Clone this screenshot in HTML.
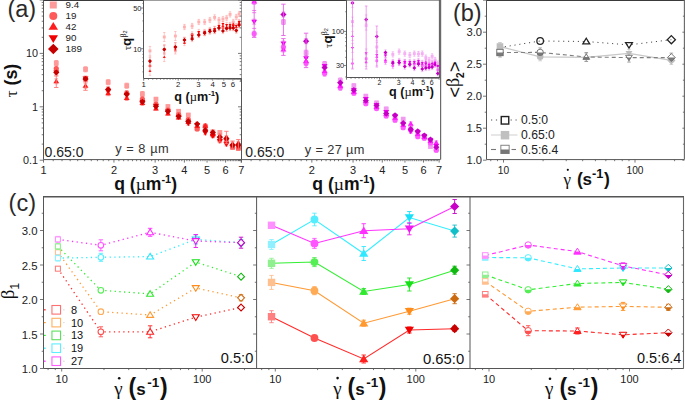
<!DOCTYPE html><html><head><meta charset="utf-8"><style>html,body{margin:0;padding:0;background:#fff;overflow:hidden}svg{display:block}svg{font-family:"Liberation Sans",sans-serif}</style></head><body>
<svg width="685" height="401" viewBox="0 0 685 401">
<rect width="685" height="401" fill="#fff"/>
<defs><clipPath id="ca1"><rect x="44" y="0" width="197.4" height="159.5"/></clipPath><clipPath id="ca2"><rect x="241.9" y="0" width="198" height="159.5"/></clipPath><clipPath id="ci1"><rect x="144" y="0" width="97" height="78"/></clipPath><clipPath id="ci2"><rect x="347" y="0" width="92.5" height="76.5"/></clipPath></defs>
<g clip-path="url(#ca1)">
<line x1="56.28" y1="60.60" x2="56.28" y2="65.60" stroke="#FF7878" stroke-width="0.7" />
<line x1="54.48" y1="60.60" x2="58.08" y2="60.60" stroke="#FF7878" stroke-width="0.7" />
<line x1="54.48" y1="65.60" x2="58.08" y2="65.60" stroke="#FF7878" stroke-width="0.7" />
<line x1="56.28" y1="66.00" x2="56.28" y2="71.00" stroke="#FF7878" stroke-width="0.7" />
<line x1="54.48" y1="66.00" x2="58.08" y2="66.00" stroke="#FF7878" stroke-width="0.7" />
<line x1="54.48" y1="71.00" x2="58.08" y2="71.00" stroke="#FF7878" stroke-width="0.7" />
<line x1="56.28" y1="78.80" x2="56.28" y2="83.80" stroke="#FF7878" stroke-width="0.7" />
<line x1="54.48" y1="78.80" x2="58.08" y2="78.80" stroke="#FF7878" stroke-width="0.7" />
<line x1="54.48" y1="83.80" x2="58.08" y2="83.80" stroke="#FF7878" stroke-width="0.7" />
<line x1="56.28" y1="70.00" x2="56.28" y2="75.00" stroke="#FF7878" stroke-width="0.7" />
<line x1="54.48" y1="70.00" x2="58.08" y2="70.00" stroke="#FF7878" stroke-width="0.7" />
<line x1="54.48" y1="75.00" x2="58.08" y2="75.00" stroke="#FF7878" stroke-width="0.7" />
<line x1="56.28" y1="70.00" x2="56.28" y2="75.00" stroke="#FF7878" stroke-width="0.7" />
<line x1="54.48" y1="70.00" x2="58.08" y2="70.00" stroke="#FF7878" stroke-width="0.7" />
<line x1="54.48" y1="75.00" x2="58.08" y2="75.00" stroke="#FF7878" stroke-width="0.7" />
<rect x="53.88" y="60.70" width="4.80" height="4.80" fill="#FF9A9A" stroke="none" stroke-width="1"/>
<circle cx="56.28" cy="68.50" r="2.60" fill="#FF5A5A" stroke="none" stroke-width="1"/>
<polygon points="56.28,78.56 59.22,83.32 53.34,83.32" fill="#FF1E1E" stroke="none" stroke-width="1"/>
<polygon points="56.28,75.24 59.22,70.48 53.34,70.48" fill="#F00000" stroke="none" stroke-width="1"/>
<polygon points="56.28,69.40 59.38,72.50 56.28,75.60 53.18,72.50" fill="#C40000" stroke="none" stroke-width="1"/>
<line x1="85.52" y1="66.80" x2="85.52" y2="71.80" stroke="#FF7878" stroke-width="0.7" />
<line x1="83.72" y1="66.80" x2="87.32" y2="66.80" stroke="#FF7878" stroke-width="0.7" />
<line x1="83.72" y1="71.80" x2="87.32" y2="71.80" stroke="#FF7878" stroke-width="0.7" />
<line x1="85.52" y1="76.50" x2="85.52" y2="81.50" stroke="#FF7878" stroke-width="0.7" />
<line x1="83.72" y1="76.50" x2="87.32" y2="76.50" stroke="#FF7878" stroke-width="0.7" />
<line x1="83.72" y1="81.50" x2="87.32" y2="81.50" stroke="#FF7878" stroke-width="0.7" />
<line x1="85.52" y1="83.30" x2="85.52" y2="88.30" stroke="#FF7878" stroke-width="0.7" />
<line x1="83.72" y1="83.30" x2="87.32" y2="83.30" stroke="#FF7878" stroke-width="0.7" />
<line x1="83.72" y1="88.30" x2="87.32" y2="88.30" stroke="#FF7878" stroke-width="0.7" />
<line x1="85.52" y1="76.00" x2="85.52" y2="81.00" stroke="#FF7878" stroke-width="0.7" />
<line x1="83.72" y1="76.00" x2="87.32" y2="76.00" stroke="#FF7878" stroke-width="0.7" />
<line x1="83.72" y1="81.00" x2="87.32" y2="81.00" stroke="#FF7878" stroke-width="0.7" />
<line x1="85.52" y1="76.50" x2="85.52" y2="81.50" stroke="#FF7878" stroke-width="0.7" />
<line x1="83.72" y1="76.50" x2="87.32" y2="76.50" stroke="#FF7878" stroke-width="0.7" />
<line x1="83.72" y1="81.50" x2="87.32" y2="81.50" stroke="#FF7878" stroke-width="0.7" />
<rect x="83.12" y="66.90" width="4.80" height="4.80" fill="#FF9A9A" stroke="none" stroke-width="1"/>
<circle cx="85.52" cy="79.00" r="2.60" fill="#FF5A5A" stroke="none" stroke-width="1"/>
<polygon points="85.52,83.06 88.46,87.82 82.58,87.82" fill="#FF1E1E" stroke="none" stroke-width="1"/>
<polygon points="85.52,81.24 88.46,76.48 82.58,76.48" fill="#F00000" stroke="none" stroke-width="1"/>
<polygon points="85.52,75.90 88.62,79.00 85.52,82.10 82.42,79.00" fill="#C40000" stroke="none" stroke-width="1"/>
<line x1="108.19" y1="79.70" x2="108.19" y2="84.70" stroke="#FF7878" stroke-width="0.7" />
<line x1="106.39" y1="79.70" x2="109.99" y2="79.70" stroke="#FF7878" stroke-width="0.7" />
<line x1="106.39" y1="84.70" x2="109.99" y2="84.70" stroke="#FF7878" stroke-width="0.7" />
<line x1="108.19" y1="87.00" x2="108.19" y2="92.00" stroke="#FF7878" stroke-width="0.7" />
<line x1="106.39" y1="87.00" x2="109.99" y2="87.00" stroke="#FF7878" stroke-width="0.7" />
<line x1="106.39" y1="92.00" x2="109.99" y2="92.00" stroke="#FF7878" stroke-width="0.7" />
<line x1="108.19" y1="90.70" x2="108.19" y2="95.70" stroke="#FF7878" stroke-width="0.7" />
<line x1="106.39" y1="90.70" x2="109.99" y2="90.70" stroke="#FF7878" stroke-width="0.7" />
<line x1="106.39" y1="95.70" x2="109.99" y2="95.70" stroke="#FF7878" stroke-width="0.7" />
<line x1="108.19" y1="88.50" x2="108.19" y2="93.50" stroke="#FF7878" stroke-width="0.7" />
<line x1="106.39" y1="88.50" x2="109.99" y2="88.50" stroke="#FF7878" stroke-width="0.7" />
<line x1="106.39" y1="93.50" x2="109.99" y2="93.50" stroke="#FF7878" stroke-width="0.7" />
<line x1="108.19" y1="87.00" x2="108.19" y2="92.00" stroke="#FF7878" stroke-width="0.7" />
<line x1="106.39" y1="87.00" x2="109.99" y2="87.00" stroke="#FF7878" stroke-width="0.7" />
<line x1="106.39" y1="92.00" x2="109.99" y2="92.00" stroke="#FF7878" stroke-width="0.7" />
<rect x="105.79" y="79.80" width="4.80" height="4.80" fill="#FF9A9A" stroke="none" stroke-width="1"/>
<circle cx="108.19" cy="89.50" r="2.60" fill="#FF5A5A" stroke="none" stroke-width="1"/>
<polygon points="108.19,90.46 111.13,95.22 105.25,95.22" fill="#FF1E1E" stroke="none" stroke-width="1"/>
<polygon points="108.19,93.74 111.13,88.98 105.25,88.98" fill="#F00000" stroke="none" stroke-width="1"/>
<polygon points="108.19,86.40 111.29,89.50 108.19,92.60 105.09,89.50" fill="#C40000" stroke="none" stroke-width="1"/>
<line x1="126.72" y1="83.20" x2="126.72" y2="88.20" stroke="#FF7878" stroke-width="0.7" />
<line x1="124.92" y1="83.20" x2="128.52" y2="83.20" stroke="#FF7878" stroke-width="0.7" />
<line x1="124.92" y1="88.20" x2="128.52" y2="88.20" stroke="#FF7878" stroke-width="0.7" />
<line x1="126.72" y1="90.50" x2="126.72" y2="95.50" stroke="#FF7878" stroke-width="0.7" />
<line x1="124.92" y1="90.50" x2="128.52" y2="90.50" stroke="#FF7878" stroke-width="0.7" />
<line x1="124.92" y1="95.50" x2="128.52" y2="95.50" stroke="#FF7878" stroke-width="0.7" />
<line x1="126.72" y1="95.50" x2="126.72" y2="100.50" stroke="#FF7878" stroke-width="0.7" />
<line x1="124.92" y1="95.50" x2="128.52" y2="95.50" stroke="#FF7878" stroke-width="0.7" />
<line x1="124.92" y1="100.50" x2="128.52" y2="100.50" stroke="#FF7878" stroke-width="0.7" />
<line x1="126.72" y1="92.50" x2="126.72" y2="97.50" stroke="#FF7878" stroke-width="0.7" />
<line x1="124.92" y1="92.50" x2="128.52" y2="92.50" stroke="#FF7878" stroke-width="0.7" />
<line x1="124.92" y1="97.50" x2="128.52" y2="97.50" stroke="#FF7878" stroke-width="0.7" />
<line x1="126.72" y1="91.70" x2="126.72" y2="96.70" stroke="#FF7878" stroke-width="0.7" />
<line x1="124.92" y1="91.70" x2="128.52" y2="91.70" stroke="#FF7878" stroke-width="0.7" />
<line x1="124.92" y1="96.70" x2="128.52" y2="96.70" stroke="#FF7878" stroke-width="0.7" />
<rect x="124.32" y="83.30" width="4.80" height="4.80" fill="#FF9A9A" stroke="none" stroke-width="1"/>
<circle cx="126.72" cy="93.00" r="2.60" fill="#FF5A5A" stroke="none" stroke-width="1"/>
<polygon points="126.72,95.26 129.66,100.02 123.78,100.02" fill="#FF1E1E" stroke="none" stroke-width="1"/>
<polygon points="126.72,97.74 129.66,92.98 123.78,92.98" fill="#F00000" stroke="none" stroke-width="1"/>
<polygon points="126.72,91.10 129.82,94.20 126.72,97.30 123.62,94.20" fill="#C40000" stroke="none" stroke-width="1"/>
<line x1="142.39" y1="91.50" x2="142.39" y2="96.50" stroke="#FF7878" stroke-width="0.7" />
<line x1="140.59" y1="91.50" x2="144.19" y2="91.50" stroke="#FF7878" stroke-width="0.7" />
<line x1="140.59" y1="96.50" x2="144.19" y2="96.50" stroke="#FF7878" stroke-width="0.7" />
<line x1="142.39" y1="96.50" x2="142.39" y2="101.50" stroke="#FF7878" stroke-width="0.7" />
<line x1="140.59" y1="96.50" x2="144.19" y2="96.50" stroke="#FF7878" stroke-width="0.7" />
<line x1="140.59" y1="101.50" x2="144.19" y2="101.50" stroke="#FF7878" stroke-width="0.7" />
<line x1="142.39" y1="100.50" x2="142.39" y2="105.50" stroke="#FF7878" stroke-width="0.7" />
<line x1="140.59" y1="100.50" x2="144.19" y2="100.50" stroke="#FF7878" stroke-width="0.7" />
<line x1="140.59" y1="105.50" x2="144.19" y2="105.50" stroke="#FF7878" stroke-width="0.7" />
<line x1="142.39" y1="99.50" x2="142.39" y2="104.50" stroke="#FF7878" stroke-width="0.7" />
<line x1="140.59" y1="99.50" x2="144.19" y2="99.50" stroke="#FF7878" stroke-width="0.7" />
<line x1="140.59" y1="104.50" x2="144.19" y2="104.50" stroke="#FF7878" stroke-width="0.7" />
<line x1="142.39" y1="99.30" x2="142.39" y2="104.30" stroke="#FF7878" stroke-width="0.7" />
<line x1="140.59" y1="99.30" x2="144.19" y2="99.30" stroke="#FF7878" stroke-width="0.7" />
<line x1="140.59" y1="104.30" x2="144.19" y2="104.30" stroke="#FF7878" stroke-width="0.7" />
<rect x="139.99" y="91.60" width="4.80" height="4.80" fill="#FF9A9A" stroke="none" stroke-width="1"/>
<circle cx="142.39" cy="99.00" r="2.60" fill="#FF5A5A" stroke="none" stroke-width="1"/>
<polygon points="142.39,100.26 145.33,105.02 139.45,105.02" fill="#FF1E1E" stroke="none" stroke-width="1"/>
<polygon points="142.39,104.74 145.33,99.98 139.45,99.98" fill="#F00000" stroke="none" stroke-width="1"/>
<polygon points="142.39,98.70 145.49,101.80 142.39,104.90 139.29,101.80" fill="#C40000" stroke="none" stroke-width="1"/>
<line x1="155.96" y1="97.40" x2="155.96" y2="101.00" stroke="#FF7878" stroke-width="0.7" />
<line x1="154.16" y1="97.40" x2="157.76" y2="97.40" stroke="#FF7878" stroke-width="0.7" />
<line x1="154.16" y1="101.00" x2="157.76" y2="101.00" stroke="#FF7878" stroke-width="0.7" />
<line x1="155.96" y1="102.20" x2="155.96" y2="105.80" stroke="#FF7878" stroke-width="0.7" />
<line x1="154.16" y1="102.20" x2="157.76" y2="102.20" stroke="#FF7878" stroke-width="0.7" />
<line x1="154.16" y1="105.80" x2="157.76" y2="105.80" stroke="#FF7878" stroke-width="0.7" />
<line x1="155.96" y1="106.70" x2="155.96" y2="110.30" stroke="#FF7878" stroke-width="0.7" />
<line x1="154.16" y1="106.70" x2="157.76" y2="106.70" stroke="#FF7878" stroke-width="0.7" />
<line x1="154.16" y1="110.30" x2="157.76" y2="110.30" stroke="#FF7878" stroke-width="0.7" />
<line x1="155.96" y1="104.20" x2="155.96" y2="107.80" stroke="#FF7878" stroke-width="0.7" />
<line x1="154.16" y1="104.20" x2="157.76" y2="104.20" stroke="#FF7878" stroke-width="0.7" />
<line x1="154.16" y1="107.80" x2="157.76" y2="107.80" stroke="#FF7878" stroke-width="0.7" />
<line x1="155.96" y1="104.50" x2="155.96" y2="108.10" stroke="#FF7878" stroke-width="0.7" />
<line x1="154.16" y1="104.50" x2="157.76" y2="104.50" stroke="#FF7878" stroke-width="0.7" />
<line x1="154.16" y1="108.10" x2="157.76" y2="108.10" stroke="#FF7878" stroke-width="0.7" />
<rect x="153.56" y="96.80" width="4.80" height="4.80" fill="#FF9A9A" stroke="none" stroke-width="1"/>
<circle cx="155.96" cy="104.00" r="2.60" fill="#FF5A5A" stroke="none" stroke-width="1"/>
<polygon points="155.96,105.76 158.90,110.52 153.02,110.52" fill="#FF1E1E" stroke="none" stroke-width="1"/>
<polygon points="155.96,108.74 158.90,103.98 153.02,103.98" fill="#F00000" stroke="none" stroke-width="1"/>
<polygon points="155.96,103.20 159.06,106.30 155.96,109.40 152.86,106.30" fill="#C40000" stroke="none" stroke-width="1"/>
<line x1="167.93" y1="104.80" x2="167.93" y2="108.40" stroke="#FF7878" stroke-width="0.7" />
<line x1="166.13" y1="104.80" x2="169.73" y2="104.80" stroke="#FF7878" stroke-width="0.7" />
<line x1="166.13" y1="108.40" x2="169.73" y2="108.40" stroke="#FF7878" stroke-width="0.7" />
<line x1="167.93" y1="108.20" x2="167.93" y2="111.80" stroke="#FF7878" stroke-width="0.7" />
<line x1="166.13" y1="108.20" x2="169.73" y2="108.20" stroke="#FF7878" stroke-width="0.7" />
<line x1="166.13" y1="111.80" x2="169.73" y2="111.80" stroke="#FF7878" stroke-width="0.7" />
<line x1="167.93" y1="111.70" x2="167.93" y2="115.30" stroke="#FF7878" stroke-width="0.7" />
<line x1="166.13" y1="111.70" x2="169.73" y2="111.70" stroke="#FF7878" stroke-width="0.7" />
<line x1="166.13" y1="115.30" x2="169.73" y2="115.30" stroke="#FF7878" stroke-width="0.7" />
<line x1="167.93" y1="109.70" x2="167.93" y2="113.30" stroke="#FF7878" stroke-width="0.7" />
<line x1="166.13" y1="109.70" x2="169.73" y2="109.70" stroke="#FF7878" stroke-width="0.7" />
<line x1="166.13" y1="113.30" x2="169.73" y2="113.30" stroke="#FF7878" stroke-width="0.7" />
<line x1="167.93" y1="109.50" x2="167.93" y2="113.10" stroke="#FF7878" stroke-width="0.7" />
<line x1="166.13" y1="109.50" x2="169.73" y2="109.50" stroke="#FF7878" stroke-width="0.7" />
<line x1="166.13" y1="113.10" x2="169.73" y2="113.10" stroke="#FF7878" stroke-width="0.7" />
<rect x="165.53" y="104.20" width="4.80" height="4.80" fill="#FF9A9A" stroke="none" stroke-width="1"/>
<circle cx="167.93" cy="110.00" r="2.60" fill="#FF5A5A" stroke="none" stroke-width="1"/>
<polygon points="167.93,110.76 170.87,115.52 164.99,115.52" fill="#FF1E1E" stroke="none" stroke-width="1"/>
<polygon points="167.93,114.24 170.87,109.48 164.99,109.48" fill="#F00000" stroke="none" stroke-width="1"/>
<polygon points="167.93,108.20 171.03,111.30 167.93,114.40 164.83,111.30" fill="#C40000" stroke="none" stroke-width="1"/>
<line x1="178.63" y1="109.50" x2="178.63" y2="113.10" stroke="#FF7878" stroke-width="0.7" />
<line x1="176.83" y1="109.50" x2="180.43" y2="109.50" stroke="#FF7878" stroke-width="0.7" />
<line x1="176.83" y1="113.10" x2="180.43" y2="113.10" stroke="#FF7878" stroke-width="0.7" />
<line x1="178.63" y1="112.70" x2="178.63" y2="116.30" stroke="#FF7878" stroke-width="0.7" />
<line x1="176.83" y1="112.70" x2="180.43" y2="112.70" stroke="#FF7878" stroke-width="0.7" />
<line x1="176.83" y1="116.30" x2="180.43" y2="116.30" stroke="#FF7878" stroke-width="0.7" />
<line x1="178.63" y1="115.70" x2="178.63" y2="119.30" stroke="#FF7878" stroke-width="0.7" />
<line x1="176.83" y1="115.70" x2="180.43" y2="115.70" stroke="#FF7878" stroke-width="0.7" />
<line x1="176.83" y1="119.30" x2="180.43" y2="119.30" stroke="#FF7878" stroke-width="0.7" />
<line x1="178.63" y1="115.20" x2="178.63" y2="118.80" stroke="#FF7878" stroke-width="0.7" />
<line x1="176.83" y1="115.20" x2="180.43" y2="115.20" stroke="#FF7878" stroke-width="0.7" />
<line x1="176.83" y1="118.80" x2="180.43" y2="118.80" stroke="#FF7878" stroke-width="0.7" />
<line x1="178.63" y1="114.60" x2="178.63" y2="118.20" stroke="#FF7878" stroke-width="0.7" />
<line x1="176.83" y1="114.60" x2="180.43" y2="114.60" stroke="#FF7878" stroke-width="0.7" />
<line x1="176.83" y1="118.20" x2="180.43" y2="118.20" stroke="#FF7878" stroke-width="0.7" />
<rect x="176.23" y="108.90" width="4.80" height="4.80" fill="#FF9A9A" stroke="none" stroke-width="1"/>
<circle cx="178.63" cy="114.50" r="2.60" fill="#FF5A5A" stroke="none" stroke-width="1"/>
<polygon points="178.63,114.76 181.57,119.52 175.69,119.52" fill="#FF1E1E" stroke="none" stroke-width="1"/>
<polygon points="178.63,119.74 181.57,114.98 175.69,114.98" fill="#F00000" stroke="none" stroke-width="1"/>
<polygon points="178.63,113.30 181.73,116.40 178.63,119.50 175.53,116.40" fill="#C40000" stroke="none" stroke-width="1"/>
<line x1="188.32" y1="113.30" x2="188.32" y2="116.90" stroke="#FF7878" stroke-width="0.7" />
<line x1="186.52" y1="113.30" x2="190.12" y2="113.30" stroke="#FF7878" stroke-width="0.7" />
<line x1="186.52" y1="116.90" x2="190.12" y2="116.90" stroke="#FF7878" stroke-width="0.7" />
<line x1="188.32" y1="117.70" x2="188.32" y2="121.30" stroke="#FF7878" stroke-width="0.7" />
<line x1="186.52" y1="117.70" x2="190.12" y2="117.70" stroke="#FF7878" stroke-width="0.7" />
<line x1="186.52" y1="121.30" x2="190.12" y2="121.30" stroke="#FF7878" stroke-width="0.7" />
<line x1="188.32" y1="120.20" x2="188.32" y2="123.80" stroke="#FF7878" stroke-width="0.7" />
<line x1="186.52" y1="120.20" x2="190.12" y2="120.20" stroke="#FF7878" stroke-width="0.7" />
<line x1="186.52" y1="123.80" x2="190.12" y2="123.80" stroke="#FF7878" stroke-width="0.7" />
<line x1="188.32" y1="121.70" x2="188.32" y2="125.30" stroke="#FF7878" stroke-width="0.7" />
<line x1="186.52" y1="121.70" x2="190.12" y2="121.70" stroke="#FF7878" stroke-width="0.7" />
<line x1="186.52" y1="125.30" x2="190.12" y2="125.30" stroke="#FF7878" stroke-width="0.7" />
<line x1="188.32" y1="119.50" x2="188.32" y2="123.10" stroke="#FF7878" stroke-width="0.7" />
<line x1="186.52" y1="119.50" x2="190.12" y2="119.50" stroke="#FF7878" stroke-width="0.7" />
<line x1="186.52" y1="123.10" x2="190.12" y2="123.10" stroke="#FF7878" stroke-width="0.7" />
<rect x="185.92" y="112.70" width="4.80" height="4.80" fill="#FF9A9A" stroke="none" stroke-width="1"/>
<circle cx="188.32" cy="119.50" r="2.60" fill="#FF5A5A" stroke="none" stroke-width="1"/>
<polygon points="188.32,119.26 191.26,124.02 185.38,124.02" fill="#FF1E1E" stroke="none" stroke-width="1"/>
<polygon points="188.32,126.24 191.26,121.48 185.38,121.48" fill="#F00000" stroke="none" stroke-width="1"/>
<polygon points="188.32,118.20 191.42,121.30 188.32,124.40 185.22,121.30" fill="#C40000" stroke="none" stroke-width="1"/>
<line x1="197.16" y1="126.70" x2="197.16" y2="130.30" stroke="#FF7878" stroke-width="0.7" />
<line x1="195.36" y1="126.70" x2="198.96" y2="126.70" stroke="#FF7878" stroke-width="0.7" />
<line x1="195.36" y1="130.30" x2="198.96" y2="130.30" stroke="#FF7878" stroke-width="0.7" />
<line x1="197.16" y1="127.20" x2="197.16" y2="130.80" stroke="#FF7878" stroke-width="0.7" />
<line x1="195.36" y1="127.20" x2="198.96" y2="127.20" stroke="#FF7878" stroke-width="0.7" />
<line x1="195.36" y1="130.80" x2="198.96" y2="130.80" stroke="#FF7878" stroke-width="0.7" />
<line x1="197.16" y1="124.20" x2="197.16" y2="127.80" stroke="#FF7878" stroke-width="0.7" />
<line x1="195.36" y1="124.20" x2="198.96" y2="124.20" stroke="#FF7878" stroke-width="0.7" />
<line x1="195.36" y1="127.80" x2="198.96" y2="127.80" stroke="#FF7878" stroke-width="0.7" />
<line x1="197.16" y1="123.20" x2="197.16" y2="126.80" stroke="#FF7878" stroke-width="0.7" />
<line x1="195.36" y1="123.20" x2="198.96" y2="123.20" stroke="#FF7878" stroke-width="0.7" />
<line x1="195.36" y1="126.80" x2="198.96" y2="126.80" stroke="#FF7878" stroke-width="0.7" />
<line x1="197.16" y1="122.20" x2="197.16" y2="125.80" stroke="#FF7878" stroke-width="0.7" />
<line x1="195.36" y1="122.20" x2="198.96" y2="122.20" stroke="#FF7878" stroke-width="0.7" />
<line x1="195.36" y1="125.80" x2="198.96" y2="125.80" stroke="#FF7878" stroke-width="0.7" />
<rect x="194.76" y="126.10" width="4.80" height="4.80" fill="#FF9A9A" stroke="none" stroke-width="1"/>
<circle cx="197.16" cy="129.00" r="2.60" fill="#FF5A5A" stroke="none" stroke-width="1"/>
<polygon points="197.16,123.26 200.10,128.02 194.22,128.02" fill="#FF1E1E" stroke="none" stroke-width="1"/>
<polygon points="197.16,127.74 200.10,122.98 194.22,122.98" fill="#F00000" stroke="none" stroke-width="1"/>
<polygon points="197.16,120.90 200.26,124.00 197.16,127.10 194.06,124.00" fill="#C40000" stroke="none" stroke-width="1"/>
<line x1="205.30" y1="125.20" x2="205.30" y2="128.80" stroke="#FF7878" stroke-width="0.7" />
<line x1="203.50" y1="125.20" x2="207.10" y2="125.20" stroke="#FF7878" stroke-width="0.7" />
<line x1="203.50" y1="128.80" x2="207.10" y2="128.80" stroke="#FF7878" stroke-width="0.7" />
<line x1="205.30" y1="124.20" x2="205.30" y2="127.80" stroke="#FF7878" stroke-width="0.7" />
<line x1="203.50" y1="124.20" x2="207.10" y2="124.20" stroke="#FF7878" stroke-width="0.7" />
<line x1="203.50" y1="127.80" x2="207.10" y2="127.80" stroke="#FF7878" stroke-width="0.7" />
<line x1="205.30" y1="123.90" x2="205.30" y2="127.50" stroke="#FF7878" stroke-width="0.7" />
<line x1="203.50" y1="123.90" x2="207.10" y2="123.90" stroke="#FF7878" stroke-width="0.7" />
<line x1="203.50" y1="127.50" x2="207.10" y2="127.50" stroke="#FF7878" stroke-width="0.7" />
<line x1="205.30" y1="131.20" x2="205.30" y2="134.80" stroke="#FF7878" stroke-width="0.7" />
<line x1="203.50" y1="131.20" x2="207.10" y2="131.20" stroke="#FF7878" stroke-width="0.7" />
<line x1="203.50" y1="134.80" x2="207.10" y2="134.80" stroke="#FF7878" stroke-width="0.7" />
<line x1="205.30" y1="128.40" x2="205.30" y2="132.00" stroke="#FF7878" stroke-width="0.7" />
<line x1="203.50" y1="128.40" x2="207.10" y2="128.40" stroke="#FF7878" stroke-width="0.7" />
<line x1="203.50" y1="132.00" x2="207.10" y2="132.00" stroke="#FF7878" stroke-width="0.7" />
<rect x="202.90" y="124.60" width="4.80" height="4.80" fill="#FF9A9A" stroke="none" stroke-width="1"/>
<circle cx="205.30" cy="126.00" r="2.60" fill="#FF5A5A" stroke="none" stroke-width="1"/>
<polygon points="205.30,122.96 208.24,127.72 202.36,127.72" fill="#FF1E1E" stroke="none" stroke-width="1"/>
<polygon points="205.30,135.74 208.24,130.98 202.36,130.98" fill="#F00000" stroke="none" stroke-width="1"/>
<polygon points="205.30,127.10 208.40,130.20 205.30,133.30 202.20,130.20" fill="#C40000" stroke="none" stroke-width="1"/>
<line x1="212.83" y1="130.10" x2="212.83" y2="133.70" stroke="#FF7878" stroke-width="0.7" />
<line x1="211.03" y1="130.10" x2="214.63" y2="130.10" stroke="#FF7878" stroke-width="0.7" />
<line x1="211.03" y1="133.70" x2="214.63" y2="133.70" stroke="#FF7878" stroke-width="0.7" />
<line x1="212.83" y1="133.40" x2="212.83" y2="137.00" stroke="#FF7878" stroke-width="0.7" />
<line x1="211.03" y1="133.40" x2="214.63" y2="133.40" stroke="#FF7878" stroke-width="0.7" />
<line x1="211.03" y1="137.00" x2="214.63" y2="137.00" stroke="#FF7878" stroke-width="0.7" />
<line x1="212.83" y1="132.20" x2="212.83" y2="135.80" stroke="#FF7878" stroke-width="0.7" />
<line x1="211.03" y1="132.20" x2="214.63" y2="132.20" stroke="#FF7878" stroke-width="0.7" />
<line x1="211.03" y1="135.80" x2="214.63" y2="135.80" stroke="#FF7878" stroke-width="0.7" />
<line x1="212.83" y1="134.20" x2="212.83" y2="137.80" stroke="#FF7878" stroke-width="0.7" />
<line x1="211.03" y1="134.20" x2="214.63" y2="134.20" stroke="#FF7878" stroke-width="0.7" />
<line x1="211.03" y1="137.80" x2="214.63" y2="137.80" stroke="#FF7878" stroke-width="0.7" />
<line x1="212.83" y1="130.60" x2="212.83" y2="134.20" stroke="#FF7878" stroke-width="0.7" />
<line x1="211.03" y1="130.60" x2="214.63" y2="130.60" stroke="#FF7878" stroke-width="0.7" />
<line x1="211.03" y1="134.20" x2="214.63" y2="134.20" stroke="#FF7878" stroke-width="0.7" />
<rect x="210.43" y="129.50" width="4.80" height="4.80" fill="#FF9A9A" stroke="none" stroke-width="1"/>
<circle cx="212.83" cy="135.20" r="2.60" fill="#FF5A5A" stroke="none" stroke-width="1"/>
<polygon points="212.83,131.26 215.77,136.02 209.89,136.02" fill="#FF1E1E" stroke="none" stroke-width="1"/>
<polygon points="212.83,138.74 215.77,133.98 209.89,133.98" fill="#F00000" stroke="none" stroke-width="1"/>
<polygon points="212.83,129.30 215.93,132.40 212.83,135.50 209.73,132.40" fill="#C40000" stroke="none" stroke-width="1"/>
<line x1="219.84" y1="130.60" x2="219.84" y2="134.20" stroke="#FF7878" stroke-width="0.7" />
<line x1="218.04" y1="130.60" x2="221.64" y2="130.60" stroke="#FF7878" stroke-width="0.7" />
<line x1="218.04" y1="134.20" x2="221.64" y2="134.20" stroke="#FF7878" stroke-width="0.7" />
<line x1="219.84" y1="138.00" x2="219.84" y2="141.60" stroke="#FF7878" stroke-width="0.7" />
<line x1="218.04" y1="138.00" x2="221.64" y2="138.00" stroke="#FF7878" stroke-width="0.7" />
<line x1="218.04" y1="141.60" x2="221.64" y2="141.60" stroke="#FF7878" stroke-width="0.7" />
<line x1="219.84" y1="134.20" x2="219.84" y2="137.80" stroke="#FF7878" stroke-width="0.7" />
<line x1="218.04" y1="134.20" x2="221.64" y2="134.20" stroke="#FF7878" stroke-width="0.7" />
<line x1="218.04" y1="137.80" x2="221.64" y2="137.80" stroke="#FF7878" stroke-width="0.7" />
<line x1="219.84" y1="139.20" x2="219.84" y2="142.80" stroke="#FF7878" stroke-width="0.7" />
<line x1="218.04" y1="139.20" x2="221.64" y2="139.20" stroke="#FF7878" stroke-width="0.7" />
<line x1="218.04" y1="142.80" x2="221.64" y2="142.80" stroke="#FF7878" stroke-width="0.7" />
<line x1="219.84" y1="135.20" x2="219.84" y2="138.80" stroke="#FF7878" stroke-width="0.7" />
<line x1="218.04" y1="135.20" x2="221.64" y2="135.20" stroke="#FF7878" stroke-width="0.7" />
<line x1="218.04" y1="138.80" x2="221.64" y2="138.80" stroke="#FF7878" stroke-width="0.7" />
<rect x="217.44" y="130.00" width="4.80" height="4.80" fill="#FF9A9A" stroke="none" stroke-width="1"/>
<circle cx="219.84" cy="139.80" r="2.60" fill="#FF5A5A" stroke="none" stroke-width="1"/>
<polygon points="219.84,133.26 222.78,138.02 216.90,138.02" fill="#FF1E1E" stroke="none" stroke-width="1"/>
<polygon points="219.84,143.74 222.78,138.98 216.90,138.98" fill="#F00000" stroke="none" stroke-width="1"/>
<polygon points="219.84,133.90 222.94,137.00 219.84,140.10 216.74,137.00" fill="#C40000" stroke="none" stroke-width="1"/>
<line x1="226.40" y1="139.20" x2="226.40" y2="142.80" stroke="#FF7878" stroke-width="0.7" />
<line x1="224.60" y1="139.20" x2="228.20" y2="139.20" stroke="#FF7878" stroke-width="0.7" />
<line x1="224.60" y1="142.80" x2="228.20" y2="142.80" stroke="#FF7878" stroke-width="0.7" />
<line x1="226.40" y1="140.20" x2="226.40" y2="143.80" stroke="#FF7878" stroke-width="0.7" />
<line x1="224.60" y1="140.20" x2="228.20" y2="140.20" stroke="#FF7878" stroke-width="0.7" />
<line x1="224.60" y1="143.80" x2="228.20" y2="143.80" stroke="#FF7878" stroke-width="0.7" />
<line x1="226.40" y1="135.70" x2="226.40" y2="139.30" stroke="#FF7878" stroke-width="0.7" />
<line x1="224.60" y1="135.70" x2="228.20" y2="135.70" stroke="#FF7878" stroke-width="0.7" />
<line x1="224.60" y1="139.30" x2="228.20" y2="139.30" stroke="#FF7878" stroke-width="0.7" />
<line x1="226.40" y1="142.40" x2="226.40" y2="146.00" stroke="#FF7878" stroke-width="0.7" />
<line x1="224.60" y1="142.40" x2="228.20" y2="142.40" stroke="#FF7878" stroke-width="0.7" />
<line x1="224.60" y1="146.00" x2="228.20" y2="146.00" stroke="#FF7878" stroke-width="0.7" />
<line x1="226.40" y1="136.80" x2="226.40" y2="140.40" stroke="#FF7878" stroke-width="0.7" />
<line x1="224.60" y1="136.80" x2="228.20" y2="136.80" stroke="#FF7878" stroke-width="0.7" />
<line x1="224.60" y1="140.40" x2="228.20" y2="140.40" stroke="#FF7878" stroke-width="0.7" />
<rect x="224.00" y="138.60" width="4.80" height="4.80" fill="#FF9A9A" stroke="none" stroke-width="1"/>
<circle cx="226.40" cy="142.00" r="2.60" fill="#FF5A5A" stroke="none" stroke-width="1"/>
<polygon points="226.40,134.76 229.34,139.52 223.46,139.52" fill="#FF1E1E" stroke="none" stroke-width="1"/>
<polygon points="226.40,146.94 229.34,142.18 223.46,142.18" fill="#F00000" stroke="none" stroke-width="1"/>
<polygon points="226.40,135.50 229.50,138.60 226.40,141.70 223.30,138.60" fill="#C40000" stroke="none" stroke-width="1"/>
<line x1="232.56" y1="145.20" x2="232.56" y2="148.80" stroke="#FF7878" stroke-width="0.7" />
<line x1="230.76" y1="145.20" x2="234.36" y2="145.20" stroke="#FF7878" stroke-width="0.7" />
<line x1="230.76" y1="148.80" x2="234.36" y2="148.80" stroke="#FF7878" stroke-width="0.7" />
<line x1="232.56" y1="145.20" x2="232.56" y2="148.80" stroke="#FF7878" stroke-width="0.7" />
<line x1="230.76" y1="145.20" x2="234.36" y2="145.20" stroke="#FF7878" stroke-width="0.7" />
<line x1="230.76" y1="148.80" x2="234.36" y2="148.80" stroke="#FF7878" stroke-width="0.7" />
<line x1="232.56" y1="141.80" x2="232.56" y2="145.40" stroke="#FF7878" stroke-width="0.7" />
<line x1="230.76" y1="141.80" x2="234.36" y2="141.80" stroke="#FF7878" stroke-width="0.7" />
<line x1="230.76" y1="145.40" x2="234.36" y2="145.40" stroke="#FF7878" stroke-width="0.7" />
<line x1="232.56" y1="144.20" x2="232.56" y2="147.80" stroke="#FF7878" stroke-width="0.7" />
<line x1="230.76" y1="144.20" x2="234.36" y2="144.20" stroke="#FF7878" stroke-width="0.7" />
<line x1="230.76" y1="147.80" x2="234.36" y2="147.80" stroke="#FF7878" stroke-width="0.7" />
<line x1="232.56" y1="143.50" x2="232.56" y2="147.10" stroke="#FF7878" stroke-width="0.7" />
<line x1="230.76" y1="143.50" x2="234.36" y2="143.50" stroke="#FF7878" stroke-width="0.7" />
<line x1="230.76" y1="147.10" x2="234.36" y2="147.10" stroke="#FF7878" stroke-width="0.7" />
<rect x="230.16" y="144.60" width="4.80" height="4.80" fill="#FF9A9A" stroke="none" stroke-width="1"/>
<circle cx="232.56" cy="147.00" r="2.60" fill="#FF5A5A" stroke="none" stroke-width="1"/>
<polygon points="232.56,140.86 235.50,145.62 229.62,145.62" fill="#FF1E1E" stroke="none" stroke-width="1"/>
<polygon points="232.56,148.74 235.50,143.98 229.62,143.98" fill="#F00000" stroke="none" stroke-width="1"/>
<polygon points="232.56,142.20 235.66,145.30 232.56,148.40 229.46,145.30" fill="#C40000" stroke="none" stroke-width="1"/>
<line x1="238.37" y1="146.20" x2="238.37" y2="149.80" stroke="#FF7878" stroke-width="0.7" />
<line x1="236.57" y1="146.20" x2="240.17" y2="146.20" stroke="#FF7878" stroke-width="0.7" />
<line x1="236.57" y1="149.80" x2="240.17" y2="149.80" stroke="#FF7878" stroke-width="0.7" />
<line x1="238.37" y1="146.20" x2="238.37" y2="149.80" stroke="#FF7878" stroke-width="0.7" />
<line x1="236.57" y1="146.20" x2="240.17" y2="146.20" stroke="#FF7878" stroke-width="0.7" />
<line x1="236.57" y1="149.80" x2="240.17" y2="149.80" stroke="#FF7878" stroke-width="0.7" />
<line x1="238.37" y1="141.20" x2="238.37" y2="144.80" stroke="#FF7878" stroke-width="0.7" />
<line x1="236.57" y1="141.20" x2="240.17" y2="141.20" stroke="#FF7878" stroke-width="0.7" />
<line x1="236.57" y1="144.80" x2="240.17" y2="144.80" stroke="#FF7878" stroke-width="0.7" />
<line x1="238.37" y1="145.20" x2="238.37" y2="148.80" stroke="#FF7878" stroke-width="0.7" />
<line x1="236.57" y1="145.20" x2="240.17" y2="145.20" stroke="#FF7878" stroke-width="0.7" />
<line x1="236.57" y1="148.80" x2="240.17" y2="148.80" stroke="#FF7878" stroke-width="0.7" />
<line x1="238.37" y1="143.00" x2="238.37" y2="146.60" stroke="#FF7878" stroke-width="0.7" />
<line x1="236.57" y1="143.00" x2="240.17" y2="143.00" stroke="#FF7878" stroke-width="0.7" />
<line x1="236.57" y1="146.60" x2="240.17" y2="146.60" stroke="#FF7878" stroke-width="0.7" />
<rect x="235.97" y="145.60" width="4.80" height="4.80" fill="#FF9A9A" stroke="none" stroke-width="1"/>
<circle cx="238.37" cy="148.00" r="2.60" fill="#FF5A5A" stroke="none" stroke-width="1"/>
<polygon points="238.37,140.26 241.31,145.02 235.43,145.02" fill="#FF1E1E" stroke="none" stroke-width="1"/>
<polygon points="238.37,149.74 241.31,144.98 235.43,144.98" fill="#F00000" stroke="none" stroke-width="1"/>
<polygon points="238.37,141.70 241.47,144.80 238.37,147.90 235.27,144.80" fill="#C40000" stroke="none" stroke-width="1"/>
</g>
<g clip-path="url(#ca2)">
<line x1="254.18" y1="-1.00" x2="254.18" y2="4.00" stroke="#E860E8" stroke-width="0.7" />
<line x1="252.38" y1="-1.00" x2="255.98" y2="-1.00" stroke="#E860E8" stroke-width="0.7" />
<line x1="252.38" y1="4.00" x2="255.98" y2="4.00" stroke="#E860E8" stroke-width="0.7" />
<line x1="254.18" y1="31.20" x2="254.18" y2="36.20" stroke="#E860E8" stroke-width="0.7" />
<line x1="252.38" y1="31.20" x2="255.98" y2="31.20" stroke="#E860E8" stroke-width="0.7" />
<line x1="252.38" y1="36.20" x2="255.98" y2="36.20" stroke="#E860E8" stroke-width="0.7" />
<line x1="254.18" y1="-1.00" x2="254.18" y2="4.00" stroke="#E860E8" stroke-width="0.7" />
<line x1="252.38" y1="-1.00" x2="255.98" y2="-1.00" stroke="#E860E8" stroke-width="0.7" />
<line x1="252.38" y1="4.00" x2="255.98" y2="4.00" stroke="#E860E8" stroke-width="0.7" />
<line x1="254.18" y1="19.20" x2="254.18" y2="24.20" stroke="#E860E8" stroke-width="0.7" />
<line x1="252.38" y1="19.20" x2="255.98" y2="19.20" stroke="#E860E8" stroke-width="0.7" />
<line x1="252.38" y1="24.20" x2="255.98" y2="24.20" stroke="#E860E8" stroke-width="0.7" />
<line x1="254.18" y1="-14.50" x2="254.18" y2="-9.50" stroke="#E860E8" stroke-width="0.7" />
<line x1="252.38" y1="-14.50" x2="255.98" y2="-14.50" stroke="#E860E8" stroke-width="0.7" />
<line x1="252.38" y1="-9.50" x2="255.98" y2="-9.50" stroke="#E860E8" stroke-width="0.7" />
<rect x="251.78" y="-0.90" width="4.80" height="4.80" fill="#F29AF2" stroke="none" stroke-width="1"/>
<circle cx="254.18" cy="33.70" r="2.60" fill="#FF5AFF" stroke="none" stroke-width="1"/>
<polygon points="254.18,-1.24 257.12,3.52 251.24,3.52" fill="#FF1EFF" stroke="none" stroke-width="1"/>
<polygon points="254.18,24.44 257.12,19.68 251.24,19.68" fill="#F000F0" stroke="none" stroke-width="1"/>
<polygon points="254.18,-15.10 257.28,-12.00 254.18,-8.90 251.08,-12.00" fill="#C400C4" stroke="none" stroke-width="1"/>
<line x1="283.42" y1="19.50" x2="283.42" y2="24.50" stroke="#E860E8" stroke-width="0.7" />
<line x1="281.62" y1="19.50" x2="285.22" y2="19.50" stroke="#E860E8" stroke-width="0.7" />
<line x1="281.62" y1="24.50" x2="285.22" y2="24.50" stroke="#E860E8" stroke-width="0.7" />
<line x1="283.42" y1="44.50" x2="283.42" y2="49.50" stroke="#E860E8" stroke-width="0.7" />
<line x1="281.62" y1="44.50" x2="285.22" y2="44.50" stroke="#E860E8" stroke-width="0.7" />
<line x1="281.62" y1="49.50" x2="285.22" y2="49.50" stroke="#E860E8" stroke-width="0.7" />
<line x1="283.42" y1="47.00" x2="283.42" y2="52.00" stroke="#E860E8" stroke-width="0.7" />
<line x1="281.62" y1="47.00" x2="285.22" y2="47.00" stroke="#E860E8" stroke-width="0.7" />
<line x1="281.62" y1="52.00" x2="285.22" y2="52.00" stroke="#E860E8" stroke-width="0.7" />
<line x1="283.42" y1="41.00" x2="283.42" y2="46.00" stroke="#E860E8" stroke-width="0.7" />
<line x1="281.62" y1="41.00" x2="285.22" y2="41.00" stroke="#E860E8" stroke-width="0.7" />
<line x1="281.62" y1="46.00" x2="285.22" y2="46.00" stroke="#E860E8" stroke-width="0.7" />
<line x1="283.42" y1="12.00" x2="283.42" y2="17.00" stroke="#E860E8" stroke-width="0.7" />
<line x1="281.62" y1="12.00" x2="285.22" y2="12.00" stroke="#E860E8" stroke-width="0.7" />
<line x1="281.62" y1="17.00" x2="285.22" y2="17.00" stroke="#E860E8" stroke-width="0.7" />
<rect x="281.02" y="19.60" width="4.80" height="4.80" fill="#F29AF2" stroke="none" stroke-width="1"/>
<circle cx="283.42" cy="47.00" r="2.60" fill="#FF5AFF" stroke="none" stroke-width="1"/>
<polygon points="283.42,46.76 286.36,51.52 280.48,51.52" fill="#FF1EFF" stroke="none" stroke-width="1"/>
<polygon points="283.42,46.24 286.36,41.48 280.48,41.48" fill="#F000F0" stroke="none" stroke-width="1"/>
<polygon points="283.42,11.40 286.52,14.50 283.42,17.60 280.32,14.50" fill="#C400C4" stroke="none" stroke-width="1"/>
<line x1="306.09" y1="50.20" x2="306.09" y2="55.20" stroke="#E860E8" stroke-width="0.7" />
<line x1="304.29" y1="50.20" x2="307.89" y2="50.20" stroke="#E860E8" stroke-width="0.7" />
<line x1="304.29" y1="55.20" x2="307.89" y2="55.20" stroke="#E860E8" stroke-width="0.7" />
<line x1="306.09" y1="60.70" x2="306.09" y2="65.70" stroke="#E860E8" stroke-width="0.7" />
<line x1="304.29" y1="60.70" x2="307.89" y2="60.70" stroke="#E860E8" stroke-width="0.7" />
<line x1="304.29" y1="65.70" x2="307.89" y2="65.70" stroke="#E860E8" stroke-width="0.7" />
<line x1="306.09" y1="58.50" x2="306.09" y2="63.50" stroke="#E860E8" stroke-width="0.7" />
<line x1="304.29" y1="58.50" x2="307.89" y2="58.50" stroke="#E860E8" stroke-width="0.7" />
<line x1="304.29" y1="63.50" x2="307.89" y2="63.50" stroke="#E860E8" stroke-width="0.7" />
<line x1="306.09" y1="55.70" x2="306.09" y2="60.70" stroke="#E860E8" stroke-width="0.7" />
<line x1="304.29" y1="55.70" x2="307.89" y2="55.70" stroke="#E860E8" stroke-width="0.7" />
<line x1="304.29" y1="60.70" x2="307.89" y2="60.70" stroke="#E860E8" stroke-width="0.7" />
<line x1="306.09" y1="38.70" x2="306.09" y2="43.70" stroke="#E860E8" stroke-width="0.7" />
<line x1="304.29" y1="38.70" x2="307.89" y2="38.70" stroke="#E860E8" stroke-width="0.7" />
<line x1="304.29" y1="43.70" x2="307.89" y2="43.70" stroke="#E860E8" stroke-width="0.7" />
<rect x="303.69" y="50.30" width="4.80" height="4.80" fill="#F29AF2" stroke="none" stroke-width="1"/>
<circle cx="306.09" cy="63.20" r="2.60" fill="#FF5AFF" stroke="none" stroke-width="1"/>
<polygon points="306.09,58.26 309.03,63.02 303.15,63.02" fill="#FF1EFF" stroke="none" stroke-width="1"/>
<polygon points="306.09,60.94 309.03,56.18 303.15,56.18" fill="#F000F0" stroke="none" stroke-width="1"/>
<polygon points="306.09,38.10 309.19,41.20 306.09,44.30 302.99,41.20" fill="#C400C4" stroke="none" stroke-width="1"/>
<line x1="324.62" y1="61.50" x2="324.62" y2="66.50" stroke="#E860E8" stroke-width="0.7" />
<line x1="322.82" y1="61.50" x2="326.42" y2="61.50" stroke="#E860E8" stroke-width="0.7" />
<line x1="322.82" y1="66.50" x2="326.42" y2="66.50" stroke="#E860E8" stroke-width="0.7" />
<line x1="324.62" y1="71.10" x2="324.62" y2="76.10" stroke="#E860E8" stroke-width="0.7" />
<line x1="322.82" y1="71.10" x2="326.42" y2="71.10" stroke="#E860E8" stroke-width="0.7" />
<line x1="322.82" y1="76.10" x2="326.42" y2="76.10" stroke="#E860E8" stroke-width="0.7" />
<line x1="324.62" y1="68.50" x2="324.62" y2="73.50" stroke="#E860E8" stroke-width="0.7" />
<line x1="322.82" y1="68.50" x2="326.42" y2="68.50" stroke="#E860E8" stroke-width="0.7" />
<line x1="322.82" y1="73.50" x2="326.42" y2="73.50" stroke="#E860E8" stroke-width="0.7" />
<line x1="324.62" y1="63.50" x2="324.62" y2="68.50" stroke="#E860E8" stroke-width="0.7" />
<line x1="322.82" y1="63.50" x2="326.42" y2="63.50" stroke="#E860E8" stroke-width="0.7" />
<line x1="322.82" y1="68.50" x2="326.42" y2="68.50" stroke="#E860E8" stroke-width="0.7" />
<line x1="324.62" y1="65.10" x2="324.62" y2="70.10" stroke="#E860E8" stroke-width="0.7" />
<line x1="322.82" y1="65.10" x2="326.42" y2="65.10" stroke="#E860E8" stroke-width="0.7" />
<line x1="322.82" y1="70.10" x2="326.42" y2="70.10" stroke="#E860E8" stroke-width="0.7" />
<rect x="322.22" y="61.60" width="4.80" height="4.80" fill="#F29AF2" stroke="none" stroke-width="1"/>
<circle cx="324.62" cy="73.60" r="2.60" fill="#FF5AFF" stroke="none" stroke-width="1"/>
<polygon points="324.62,68.26 327.56,73.02 321.68,73.02" fill="#FF1EFF" stroke="none" stroke-width="1"/>
<polygon points="324.62,68.74 327.56,63.98 321.68,63.98" fill="#F000F0" stroke="none" stroke-width="1"/>
<polygon points="324.62,64.50 327.72,67.60 324.62,70.70 321.52,67.60" fill="#C400C4" stroke="none" stroke-width="1"/>
<line x1="340.29" y1="78.00" x2="340.29" y2="83.00" stroke="#E860E8" stroke-width="0.7" />
<line x1="338.49" y1="78.00" x2="342.09" y2="78.00" stroke="#E860E8" stroke-width="0.7" />
<line x1="338.49" y1="83.00" x2="342.09" y2="83.00" stroke="#E860E8" stroke-width="0.7" />
<line x1="340.29" y1="85.20" x2="340.29" y2="90.20" stroke="#E860E8" stroke-width="0.7" />
<line x1="338.49" y1="85.20" x2="342.09" y2="85.20" stroke="#E860E8" stroke-width="0.7" />
<line x1="338.49" y1="90.20" x2="342.09" y2="90.20" stroke="#E860E8" stroke-width="0.7" />
<line x1="340.29" y1="83.50" x2="340.29" y2="88.50" stroke="#E860E8" stroke-width="0.7" />
<line x1="338.49" y1="83.50" x2="342.09" y2="83.50" stroke="#E860E8" stroke-width="0.7" />
<line x1="338.49" y1="88.50" x2="342.09" y2="88.50" stroke="#E860E8" stroke-width="0.7" />
<line x1="340.29" y1="81.50" x2="340.29" y2="86.50" stroke="#E860E8" stroke-width="0.7" />
<line x1="338.49" y1="81.50" x2="342.09" y2="81.50" stroke="#E860E8" stroke-width="0.7" />
<line x1="338.49" y1="86.50" x2="342.09" y2="86.50" stroke="#E860E8" stroke-width="0.7" />
<line x1="340.29" y1="80.20" x2="340.29" y2="85.20" stroke="#E860E8" stroke-width="0.7" />
<line x1="338.49" y1="80.20" x2="342.09" y2="80.20" stroke="#E860E8" stroke-width="0.7" />
<line x1="338.49" y1="85.20" x2="342.09" y2="85.20" stroke="#E860E8" stroke-width="0.7" />
<rect x="337.89" y="78.10" width="4.80" height="4.80" fill="#F29AF2" stroke="none" stroke-width="1"/>
<circle cx="340.29" cy="87.70" r="2.60" fill="#FF5AFF" stroke="none" stroke-width="1"/>
<polygon points="340.29,83.26 343.23,88.02 337.35,88.02" fill="#FF1EFF" stroke="none" stroke-width="1"/>
<polygon points="340.29,86.74 343.23,81.98 337.35,81.98" fill="#F000F0" stroke="none" stroke-width="1"/>
<polygon points="340.29,79.60 343.39,82.70 340.29,85.80 337.19,82.70" fill="#C400C4" stroke="none" stroke-width="1"/>
<line x1="353.86" y1="83.90" x2="353.86" y2="87.50" stroke="#E860E8" stroke-width="0.7" />
<line x1="352.06" y1="83.90" x2="355.66" y2="83.90" stroke="#E860E8" stroke-width="0.7" />
<line x1="352.06" y1="87.50" x2="355.66" y2="87.50" stroke="#E860E8" stroke-width="0.7" />
<line x1="353.86" y1="91.40" x2="353.86" y2="95.00" stroke="#E860E8" stroke-width="0.7" />
<line x1="352.06" y1="91.40" x2="355.66" y2="91.40" stroke="#E860E8" stroke-width="0.7" />
<line x1="352.06" y1="95.00" x2="355.66" y2="95.00" stroke="#E860E8" stroke-width="0.7" />
<line x1="353.86" y1="90.20" x2="353.86" y2="93.80" stroke="#E860E8" stroke-width="0.7" />
<line x1="352.06" y1="90.20" x2="355.66" y2="90.20" stroke="#E860E8" stroke-width="0.7" />
<line x1="352.06" y1="93.80" x2="355.66" y2="93.80" stroke="#E860E8" stroke-width="0.7" />
<line x1="353.86" y1="88.20" x2="353.86" y2="91.80" stroke="#E860E8" stroke-width="0.7" />
<line x1="352.06" y1="88.20" x2="355.66" y2="88.20" stroke="#E860E8" stroke-width="0.7" />
<line x1="352.06" y1="91.80" x2="355.66" y2="91.80" stroke="#E860E8" stroke-width="0.7" />
<line x1="353.86" y1="88.40" x2="353.86" y2="92.00" stroke="#E860E8" stroke-width="0.7" />
<line x1="352.06" y1="88.40" x2="355.66" y2="88.40" stroke="#E860E8" stroke-width="0.7" />
<line x1="352.06" y1="92.00" x2="355.66" y2="92.00" stroke="#E860E8" stroke-width="0.7" />
<rect x="351.46" y="83.30" width="4.80" height="4.80" fill="#F29AF2" stroke="none" stroke-width="1"/>
<circle cx="353.86" cy="93.20" r="2.60" fill="#FF5AFF" stroke="none" stroke-width="1"/>
<polygon points="353.86,89.26 356.80,94.02 350.92,94.02" fill="#FF1EFF" stroke="none" stroke-width="1"/>
<polygon points="353.86,92.74 356.80,87.98 350.92,87.98" fill="#F000F0" stroke="none" stroke-width="1"/>
<polygon points="353.86,87.10 356.96,90.20 353.86,93.30 350.76,90.20" fill="#C400C4" stroke="none" stroke-width="1"/>
<line x1="365.83" y1="94.40" x2="365.83" y2="98.00" stroke="#E860E8" stroke-width="0.7" />
<line x1="364.03" y1="94.40" x2="367.63" y2="94.40" stroke="#E860E8" stroke-width="0.7" />
<line x1="364.03" y1="98.00" x2="367.63" y2="98.00" stroke="#E860E8" stroke-width="0.7" />
<line x1="365.83" y1="101.90" x2="365.83" y2="105.50" stroke="#E860E8" stroke-width="0.7" />
<line x1="364.03" y1="101.90" x2="367.63" y2="101.90" stroke="#E860E8" stroke-width="0.7" />
<line x1="364.03" y1="105.50" x2="367.63" y2="105.50" stroke="#E860E8" stroke-width="0.7" />
<line x1="365.83" y1="99.20" x2="365.83" y2="102.80" stroke="#E860E8" stroke-width="0.7" />
<line x1="364.03" y1="99.20" x2="367.63" y2="99.20" stroke="#E860E8" stroke-width="0.7" />
<line x1="364.03" y1="102.80" x2="367.63" y2="102.80" stroke="#E860E8" stroke-width="0.7" />
<line x1="365.83" y1="97.20" x2="365.83" y2="100.80" stroke="#E860E8" stroke-width="0.7" />
<line x1="364.03" y1="97.20" x2="367.63" y2="97.20" stroke="#E860E8" stroke-width="0.7" />
<line x1="364.03" y1="100.80" x2="367.63" y2="100.80" stroke="#E860E8" stroke-width="0.7" />
<line x1="365.83" y1="98.90" x2="365.83" y2="102.50" stroke="#E860E8" stroke-width="0.7" />
<line x1="364.03" y1="98.90" x2="367.63" y2="98.90" stroke="#E860E8" stroke-width="0.7" />
<line x1="364.03" y1="102.50" x2="367.63" y2="102.50" stroke="#E860E8" stroke-width="0.7" />
<rect x="363.43" y="93.80" width="4.80" height="4.80" fill="#F29AF2" stroke="none" stroke-width="1"/>
<circle cx="365.83" cy="103.70" r="2.60" fill="#FF5AFF" stroke="none" stroke-width="1"/>
<polygon points="365.83,98.26 368.77,103.02 362.89,103.02" fill="#FF1EFF" stroke="none" stroke-width="1"/>
<polygon points="365.83,101.74 368.77,96.98 362.89,96.98" fill="#F000F0" stroke="none" stroke-width="1"/>
<polygon points="365.83,97.60 368.93,100.70 365.83,103.80 362.73,100.70" fill="#C400C4" stroke="none" stroke-width="1"/>
<line x1="376.53" y1="101.20" x2="376.53" y2="104.80" stroke="#E860E8" stroke-width="0.7" />
<line x1="374.73" y1="101.20" x2="378.33" y2="101.20" stroke="#E860E8" stroke-width="0.7" />
<line x1="374.73" y1="104.80" x2="378.33" y2="104.80" stroke="#E860E8" stroke-width="0.7" />
<line x1="376.53" y1="106.80" x2="376.53" y2="110.40" stroke="#E860E8" stroke-width="0.7" />
<line x1="374.73" y1="106.80" x2="378.33" y2="106.80" stroke="#E860E8" stroke-width="0.7" />
<line x1="374.73" y1="110.40" x2="378.33" y2="110.40" stroke="#E860E8" stroke-width="0.7" />
<line x1="376.53" y1="105.20" x2="376.53" y2="108.80" stroke="#E860E8" stroke-width="0.7" />
<line x1="374.73" y1="105.20" x2="378.33" y2="105.20" stroke="#E860E8" stroke-width="0.7" />
<line x1="374.73" y1="108.80" x2="378.33" y2="108.80" stroke="#E860E8" stroke-width="0.7" />
<line x1="376.53" y1="103.20" x2="376.53" y2="106.80" stroke="#E860E8" stroke-width="0.7" />
<line x1="374.73" y1="103.20" x2="378.33" y2="103.20" stroke="#E860E8" stroke-width="0.7" />
<line x1="374.73" y1="106.80" x2="378.33" y2="106.80" stroke="#E860E8" stroke-width="0.7" />
<line x1="376.53" y1="103.70" x2="376.53" y2="107.30" stroke="#E860E8" stroke-width="0.7" />
<line x1="374.73" y1="103.70" x2="378.33" y2="103.70" stroke="#E860E8" stroke-width="0.7" />
<line x1="374.73" y1="107.30" x2="378.33" y2="107.30" stroke="#E860E8" stroke-width="0.7" />
<rect x="374.13" y="100.60" width="4.80" height="4.80" fill="#F29AF2" stroke="none" stroke-width="1"/>
<circle cx="376.53" cy="108.60" r="2.60" fill="#FF5AFF" stroke="none" stroke-width="1"/>
<polygon points="376.53,104.26 379.47,109.02 373.59,109.02" fill="#FF1EFF" stroke="none" stroke-width="1"/>
<polygon points="376.53,107.74 379.47,102.98 373.59,102.98" fill="#F000F0" stroke="none" stroke-width="1"/>
<polygon points="376.53,102.40 379.63,105.50 376.53,108.60 373.43,105.50" fill="#C400C4" stroke="none" stroke-width="1"/>
<line x1="386.22" y1="107.20" x2="386.22" y2="110.80" stroke="#E860E8" stroke-width="0.7" />
<line x1="384.42" y1="107.20" x2="388.02" y2="107.20" stroke="#E860E8" stroke-width="0.7" />
<line x1="384.42" y1="110.80" x2="388.02" y2="110.80" stroke="#E860E8" stroke-width="0.7" />
<line x1="386.22" y1="114.20" x2="386.22" y2="117.80" stroke="#E860E8" stroke-width="0.7" />
<line x1="384.42" y1="114.20" x2="388.02" y2="114.20" stroke="#E860E8" stroke-width="0.7" />
<line x1="384.42" y1="117.80" x2="388.02" y2="117.80" stroke="#E860E8" stroke-width="0.7" />
<line x1="386.22" y1="112.20" x2="386.22" y2="115.80" stroke="#E860E8" stroke-width="0.7" />
<line x1="384.42" y1="112.20" x2="388.02" y2="112.20" stroke="#E860E8" stroke-width="0.7" />
<line x1="384.42" y1="115.80" x2="388.02" y2="115.80" stroke="#E860E8" stroke-width="0.7" />
<line x1="386.22" y1="110.20" x2="386.22" y2="113.80" stroke="#E860E8" stroke-width="0.7" />
<line x1="384.42" y1="110.20" x2="388.02" y2="110.20" stroke="#E860E8" stroke-width="0.7" />
<line x1="384.42" y1="113.80" x2="388.02" y2="113.80" stroke="#E860E8" stroke-width="0.7" />
<line x1="386.22" y1="111.80" x2="386.22" y2="115.40" stroke="#E860E8" stroke-width="0.7" />
<line x1="384.42" y1="111.80" x2="388.02" y2="111.80" stroke="#E860E8" stroke-width="0.7" />
<line x1="384.42" y1="115.40" x2="388.02" y2="115.40" stroke="#E860E8" stroke-width="0.7" />
<rect x="383.82" y="106.60" width="4.80" height="4.80" fill="#F29AF2" stroke="none" stroke-width="1"/>
<circle cx="386.22" cy="116.00" r="2.60" fill="#FF5AFF" stroke="none" stroke-width="1"/>
<polygon points="386.22,111.26 389.16,116.02 383.28,116.02" fill="#FF1EFF" stroke="none" stroke-width="1"/>
<polygon points="386.22,114.74 389.16,109.98 383.28,109.98" fill="#F000F0" stroke="none" stroke-width="1"/>
<polygon points="386.22,110.50 389.32,113.60 386.22,116.70 383.12,113.60" fill="#C400C4" stroke="none" stroke-width="1"/>
<line x1="395.06" y1="115.20" x2="395.06" y2="118.80" stroke="#E860E8" stroke-width="0.7" />
<line x1="393.26" y1="115.20" x2="396.86" y2="115.20" stroke="#E860E8" stroke-width="0.7" />
<line x1="393.26" y1="118.80" x2="396.86" y2="118.80" stroke="#E860E8" stroke-width="0.7" />
<line x1="395.06" y1="118.40" x2="395.06" y2="122.00" stroke="#E860E8" stroke-width="0.7" />
<line x1="393.26" y1="118.40" x2="396.86" y2="118.40" stroke="#E860E8" stroke-width="0.7" />
<line x1="393.26" y1="122.00" x2="396.86" y2="122.00" stroke="#E860E8" stroke-width="0.7" />
<line x1="395.06" y1="116.20" x2="395.06" y2="119.80" stroke="#E860E8" stroke-width="0.7" />
<line x1="393.26" y1="116.20" x2="396.86" y2="116.20" stroke="#E860E8" stroke-width="0.7" />
<line x1="393.26" y1="119.80" x2="396.86" y2="119.80" stroke="#E860E8" stroke-width="0.7" />
<line x1="395.06" y1="114.20" x2="395.06" y2="117.80" stroke="#E860E8" stroke-width="0.7" />
<line x1="393.26" y1="114.20" x2="396.86" y2="114.20" stroke="#E860E8" stroke-width="0.7" />
<line x1="393.26" y1="117.80" x2="396.86" y2="117.80" stroke="#E860E8" stroke-width="0.7" />
<line x1="395.06" y1="113.60" x2="395.06" y2="117.20" stroke="#E860E8" stroke-width="0.7" />
<line x1="393.26" y1="113.60" x2="396.86" y2="113.60" stroke="#E860E8" stroke-width="0.7" />
<line x1="393.26" y1="117.20" x2="396.86" y2="117.20" stroke="#E860E8" stroke-width="0.7" />
<rect x="392.66" y="114.60" width="4.80" height="4.80" fill="#F29AF2" stroke="none" stroke-width="1"/>
<circle cx="395.06" cy="120.20" r="2.60" fill="#FF5AFF" stroke="none" stroke-width="1"/>
<polygon points="395.06,115.26 398.00,120.02 392.12,120.02" fill="#FF1EFF" stroke="none" stroke-width="1"/>
<polygon points="395.06,118.74 398.00,113.98 392.12,113.98" fill="#F000F0" stroke="none" stroke-width="1"/>
<polygon points="395.06,112.30 398.16,115.40 395.06,118.50 391.96,115.40" fill="#C400C4" stroke="none" stroke-width="1"/>
<line x1="403.20" y1="117.40" x2="403.20" y2="121.00" stroke="#E860E8" stroke-width="0.7" />
<line x1="401.40" y1="117.40" x2="405.00" y2="117.40" stroke="#E860E8" stroke-width="0.7" />
<line x1="401.40" y1="121.00" x2="405.00" y2="121.00" stroke="#E860E8" stroke-width="0.7" />
<line x1="403.20" y1="125.90" x2="403.20" y2="129.50" stroke="#E860E8" stroke-width="0.7" />
<line x1="401.40" y1="125.90" x2="405.00" y2="125.90" stroke="#E860E8" stroke-width="0.7" />
<line x1="401.40" y1="129.50" x2="405.00" y2="129.50" stroke="#E860E8" stroke-width="0.7" />
<line x1="403.20" y1="123.20" x2="403.20" y2="126.80" stroke="#E860E8" stroke-width="0.7" />
<line x1="401.40" y1="123.20" x2="405.00" y2="123.20" stroke="#E860E8" stroke-width="0.7" />
<line x1="401.40" y1="126.80" x2="405.00" y2="126.80" stroke="#E860E8" stroke-width="0.7" />
<line x1="403.20" y1="122.20" x2="403.20" y2="125.80" stroke="#E860E8" stroke-width="0.7" />
<line x1="401.40" y1="122.20" x2="405.00" y2="122.20" stroke="#E860E8" stroke-width="0.7" />
<line x1="401.40" y1="125.80" x2="405.00" y2="125.80" stroke="#E860E8" stroke-width="0.7" />
<line x1="403.20" y1="121.40" x2="403.20" y2="125.00" stroke="#E860E8" stroke-width="0.7" />
<line x1="401.40" y1="121.40" x2="405.00" y2="121.40" stroke="#E860E8" stroke-width="0.7" />
<line x1="401.40" y1="125.00" x2="405.00" y2="125.00" stroke="#E860E8" stroke-width="0.7" />
<rect x="400.80" y="116.80" width="4.80" height="4.80" fill="#F29AF2" stroke="none" stroke-width="1"/>
<circle cx="403.20" cy="127.70" r="2.60" fill="#FF5AFF" stroke="none" stroke-width="1"/>
<polygon points="403.20,122.26 406.14,127.02 400.26,127.02" fill="#FF1EFF" stroke="none" stroke-width="1"/>
<polygon points="403.20,126.74 406.14,121.98 400.26,121.98" fill="#F000F0" stroke="none" stroke-width="1"/>
<polygon points="403.20,120.10 406.30,123.20 403.20,126.30 400.10,123.20" fill="#C400C4" stroke="none" stroke-width="1"/>
<line x1="410.73" y1="125.20" x2="410.73" y2="128.80" stroke="#E860E8" stroke-width="0.7" />
<line x1="408.93" y1="125.20" x2="412.53" y2="125.20" stroke="#E860E8" stroke-width="0.7" />
<line x1="408.93" y1="128.80" x2="412.53" y2="128.80" stroke="#E860E8" stroke-width="0.7" />
<line x1="410.73" y1="128.20" x2="410.73" y2="131.80" stroke="#E860E8" stroke-width="0.7" />
<line x1="408.93" y1="128.20" x2="412.53" y2="128.20" stroke="#E860E8" stroke-width="0.7" />
<line x1="408.93" y1="131.80" x2="412.53" y2="131.80" stroke="#E860E8" stroke-width="0.7" />
<line x1="410.73" y1="121.90" x2="410.73" y2="125.50" stroke="#E860E8" stroke-width="0.7" />
<line x1="408.93" y1="121.90" x2="412.53" y2="121.90" stroke="#E860E8" stroke-width="0.7" />
<line x1="408.93" y1="125.50" x2="412.53" y2="125.50" stroke="#E860E8" stroke-width="0.7" />
<line x1="410.73" y1="129.70" x2="410.73" y2="133.30" stroke="#E860E8" stroke-width="0.7" />
<line x1="408.93" y1="129.70" x2="412.53" y2="129.70" stroke="#E860E8" stroke-width="0.7" />
<line x1="408.93" y1="133.30" x2="412.53" y2="133.30" stroke="#E860E8" stroke-width="0.7" />
<line x1="410.73" y1="127.40" x2="410.73" y2="131.00" stroke="#E860E8" stroke-width="0.7" />
<line x1="408.93" y1="127.40" x2="412.53" y2="127.40" stroke="#E860E8" stroke-width="0.7" />
<line x1="408.93" y1="131.00" x2="412.53" y2="131.00" stroke="#E860E8" stroke-width="0.7" />
<rect x="408.33" y="124.60" width="4.80" height="4.80" fill="#F29AF2" stroke="none" stroke-width="1"/>
<circle cx="410.73" cy="130.00" r="2.60" fill="#FF5AFF" stroke="none" stroke-width="1"/>
<polygon points="410.73,120.96 413.67,125.72 407.79,125.72" fill="#FF1EFF" stroke="none" stroke-width="1"/>
<polygon points="410.73,134.24 413.67,129.48 407.79,129.48" fill="#F000F0" stroke="none" stroke-width="1"/>
<polygon points="410.73,126.10 413.83,129.20 410.73,132.30 407.63,129.20" fill="#C400C4" stroke="none" stroke-width="1"/>
<line x1="417.74" y1="131.20" x2="417.74" y2="134.80" stroke="#E860E8" stroke-width="0.7" />
<line x1="415.94" y1="131.20" x2="419.54" y2="131.20" stroke="#E860E8" stroke-width="0.7" />
<line x1="415.94" y1="134.80" x2="419.54" y2="134.80" stroke="#E860E8" stroke-width="0.7" />
<line x1="417.74" y1="134.90" x2="417.74" y2="138.50" stroke="#E860E8" stroke-width="0.7" />
<line x1="415.94" y1="134.90" x2="419.54" y2="134.90" stroke="#E860E8" stroke-width="0.7" />
<line x1="415.94" y1="138.50" x2="419.54" y2="138.50" stroke="#E860E8" stroke-width="0.7" />
<line x1="417.74" y1="132.20" x2="417.74" y2="135.80" stroke="#E860E8" stroke-width="0.7" />
<line x1="415.94" y1="132.20" x2="419.54" y2="132.20" stroke="#E860E8" stroke-width="0.7" />
<line x1="415.94" y1="135.80" x2="419.54" y2="135.80" stroke="#E860E8" stroke-width="0.7" />
<line x1="417.74" y1="130.20" x2="417.74" y2="133.80" stroke="#E860E8" stroke-width="0.7" />
<line x1="415.94" y1="130.20" x2="419.54" y2="130.20" stroke="#E860E8" stroke-width="0.7" />
<line x1="415.94" y1="133.80" x2="419.54" y2="133.80" stroke="#E860E8" stroke-width="0.7" />
<line x1="417.74" y1="129.60" x2="417.74" y2="133.20" stroke="#E860E8" stroke-width="0.7" />
<line x1="415.94" y1="129.60" x2="419.54" y2="129.60" stroke="#E860E8" stroke-width="0.7" />
<line x1="415.94" y1="133.20" x2="419.54" y2="133.20" stroke="#E860E8" stroke-width="0.7" />
<rect x="415.34" y="130.60" width="4.80" height="4.80" fill="#F29AF2" stroke="none" stroke-width="1"/>
<circle cx="417.74" cy="136.70" r="2.60" fill="#FF5AFF" stroke="none" stroke-width="1"/>
<polygon points="417.74,131.26 420.68,136.02 414.80,136.02" fill="#FF1EFF" stroke="none" stroke-width="1"/>
<polygon points="417.74,134.74 420.68,129.98 414.80,129.98" fill="#F000F0" stroke="none" stroke-width="1"/>
<polygon points="417.74,128.30 420.84,131.40 417.74,134.50 414.64,131.40" fill="#C400C4" stroke="none" stroke-width="1"/>
<line x1="424.30" y1="135.20" x2="424.30" y2="138.80" stroke="#E860E8" stroke-width="0.7" />
<line x1="422.50" y1="135.20" x2="426.10" y2="135.20" stroke="#E860E8" stroke-width="0.7" />
<line x1="422.50" y1="138.80" x2="426.10" y2="138.80" stroke="#E860E8" stroke-width="0.7" />
<line x1="424.30" y1="136.40" x2="424.30" y2="140.00" stroke="#E860E8" stroke-width="0.7" />
<line x1="422.50" y1="136.40" x2="426.10" y2="136.40" stroke="#E860E8" stroke-width="0.7" />
<line x1="422.50" y1="140.00" x2="426.10" y2="140.00" stroke="#E860E8" stroke-width="0.7" />
<line x1="424.30" y1="135.20" x2="424.30" y2="138.80" stroke="#E860E8" stroke-width="0.7" />
<line x1="422.50" y1="135.20" x2="426.10" y2="135.20" stroke="#E860E8" stroke-width="0.7" />
<line x1="422.50" y1="138.80" x2="426.10" y2="138.80" stroke="#E860E8" stroke-width="0.7" />
<line x1="424.30" y1="134.20" x2="424.30" y2="137.80" stroke="#E860E8" stroke-width="0.7" />
<line x1="422.50" y1="134.20" x2="426.10" y2="134.20" stroke="#E860E8" stroke-width="0.7" />
<line x1="422.50" y1="137.80" x2="426.10" y2="137.80" stroke="#E860E8" stroke-width="0.7" />
<line x1="424.30" y1="133.70" x2="424.30" y2="137.30" stroke="#E860E8" stroke-width="0.7" />
<line x1="422.50" y1="133.70" x2="426.10" y2="133.70" stroke="#E860E8" stroke-width="0.7" />
<line x1="422.50" y1="137.30" x2="426.10" y2="137.30" stroke="#E860E8" stroke-width="0.7" />
<rect x="421.90" y="134.60" width="4.80" height="4.80" fill="#F29AF2" stroke="none" stroke-width="1"/>
<circle cx="424.30" cy="138.20" r="2.60" fill="#FF5AFF" stroke="none" stroke-width="1"/>
<polygon points="424.30,134.26 427.24,139.02 421.36,139.02" fill="#FF1EFF" stroke="none" stroke-width="1"/>
<polygon points="424.30,138.74 427.24,133.98 421.36,133.98" fill="#F000F0" stroke="none" stroke-width="1"/>
<polygon points="424.30,132.40 427.40,135.50 424.30,138.60 421.20,135.50" fill="#C400C4" stroke="none" stroke-width="1"/>
<line x1="430.46" y1="144.60" x2="430.46" y2="148.20" stroke="#E860E8" stroke-width="0.7" />
<line x1="428.66" y1="144.60" x2="432.26" y2="144.60" stroke="#E860E8" stroke-width="0.7" />
<line x1="428.66" y1="148.20" x2="432.26" y2="148.20" stroke="#E860E8" stroke-width="0.7" />
<line x1="430.46" y1="141.20" x2="430.46" y2="144.80" stroke="#E860E8" stroke-width="0.7" />
<line x1="428.66" y1="141.20" x2="432.26" y2="141.20" stroke="#E860E8" stroke-width="0.7" />
<line x1="428.66" y1="144.80" x2="432.26" y2="144.80" stroke="#E860E8" stroke-width="0.7" />
<line x1="430.46" y1="139.20" x2="430.46" y2="142.80" stroke="#E860E8" stroke-width="0.7" />
<line x1="428.66" y1="139.20" x2="432.26" y2="139.20" stroke="#E860E8" stroke-width="0.7" />
<line x1="428.66" y1="142.80" x2="432.26" y2="142.80" stroke="#E860E8" stroke-width="0.7" />
<line x1="430.46" y1="138.20" x2="430.46" y2="141.80" stroke="#E860E8" stroke-width="0.7" />
<line x1="428.66" y1="138.20" x2="432.26" y2="138.20" stroke="#E860E8" stroke-width="0.7" />
<line x1="428.66" y1="141.80" x2="432.26" y2="141.80" stroke="#E860E8" stroke-width="0.7" />
<line x1="430.46" y1="137.90" x2="430.46" y2="141.50" stroke="#E860E8" stroke-width="0.7" />
<line x1="428.66" y1="137.90" x2="432.26" y2="137.90" stroke="#E860E8" stroke-width="0.7" />
<line x1="428.66" y1="141.50" x2="432.26" y2="141.50" stroke="#E860E8" stroke-width="0.7" />
<rect x="428.06" y="144.00" width="4.80" height="4.80" fill="#F29AF2" stroke="none" stroke-width="1"/>
<circle cx="430.46" cy="143.00" r="2.60" fill="#FF5AFF" stroke="none" stroke-width="1"/>
<polygon points="430.46,138.26 433.40,143.02 427.52,143.02" fill="#FF1EFF" stroke="none" stroke-width="1"/>
<polygon points="430.46,142.74 433.40,137.98 427.52,137.98" fill="#F000F0" stroke="none" stroke-width="1"/>
<polygon points="430.46,136.60 433.56,139.70 430.46,142.80 427.36,139.70" fill="#C400C4" stroke="none" stroke-width="1"/>
<line x1="436.27" y1="147.20" x2="436.27" y2="150.80" stroke="#E860E8" stroke-width="0.7" />
<line x1="434.47" y1="147.20" x2="438.07" y2="147.20" stroke="#E860E8" stroke-width="0.7" />
<line x1="434.47" y1="150.80" x2="438.07" y2="150.80" stroke="#E860E8" stroke-width="0.7" />
<line x1="436.27" y1="148.40" x2="436.27" y2="152.00" stroke="#E860E8" stroke-width="0.7" />
<line x1="434.47" y1="148.40" x2="438.07" y2="148.40" stroke="#E860E8" stroke-width="0.7" />
<line x1="434.47" y1="152.00" x2="438.07" y2="152.00" stroke="#E860E8" stroke-width="0.7" />
<line x1="436.27" y1="140.90" x2="436.27" y2="144.50" stroke="#E860E8" stroke-width="0.7" />
<line x1="434.47" y1="140.90" x2="438.07" y2="140.90" stroke="#E860E8" stroke-width="0.7" />
<line x1="434.47" y1="144.50" x2="438.07" y2="144.50" stroke="#E860E8" stroke-width="0.7" />
<line x1="436.27" y1="144.20" x2="436.27" y2="147.80" stroke="#E860E8" stroke-width="0.7" />
<line x1="434.47" y1="144.20" x2="438.07" y2="144.20" stroke="#E860E8" stroke-width="0.7" />
<line x1="434.47" y1="147.80" x2="438.07" y2="147.80" stroke="#E860E8" stroke-width="0.7" />
<line x1="436.27" y1="145.40" x2="436.27" y2="149.00" stroke="#E860E8" stroke-width="0.7" />
<line x1="434.47" y1="145.40" x2="438.07" y2="145.40" stroke="#E860E8" stroke-width="0.7" />
<line x1="434.47" y1="149.00" x2="438.07" y2="149.00" stroke="#E860E8" stroke-width="0.7" />
<rect x="433.87" y="146.60" width="4.80" height="4.80" fill="#F29AF2" stroke="none" stroke-width="1"/>
<circle cx="436.27" cy="150.20" r="2.60" fill="#FF5AFF" stroke="none" stroke-width="1"/>
<polygon points="436.27,139.96 439.21,144.72 433.33,144.72" fill="#FF1EFF" stroke="none" stroke-width="1"/>
<polygon points="436.27,148.74 439.21,143.98 433.33,143.98" fill="#F000F0" stroke="none" stroke-width="1"/>
<polygon points="436.27,144.10 439.37,147.20 436.27,150.30 433.17,147.20" fill="#C400C4" stroke="none" stroke-width="1"/>
</g>
<line x1="254.18" y1="0.50" x2="254.18" y2="37.40" stroke="#E860E8" stroke-width="0.9" />
<line x1="251.98" y1="0.50" x2="256.38" y2="0.50" stroke="#E860E8" stroke-width="0.9" />
<line x1="251.98" y1="37.40" x2="256.38" y2="37.40" stroke="#E860E8" stroke-width="0.9" />
<line x1="283.42" y1="4.20" x2="283.42" y2="35.50" stroke="#E860E8" stroke-width="0.9" />
<line x1="281.22" y1="4.20" x2="285.62" y2="4.20" stroke="#E860E8" stroke-width="0.9" />
<line x1="281.22" y1="35.50" x2="285.62" y2="35.50" stroke="#E860E8" stroke-width="0.9" />
<line x1="283.42" y1="38.60" x2="283.42" y2="55.40" stroke="#E860E8" stroke-width="0.9" />
<line x1="281.22" y1="38.60" x2="285.62" y2="38.60" stroke="#E860E8" stroke-width="0.9" />
<line x1="281.22" y1="55.40" x2="285.62" y2="55.40" stroke="#E860E8" stroke-width="0.9" />
<line x1="306.09" y1="33.20" x2="306.09" y2="67.60" stroke="#E860E8" stroke-width="0.9" />
<line x1="303.89" y1="33.20" x2="308.29" y2="33.20" stroke="#E860E8" stroke-width="0.9" />
<line x1="303.89" y1="67.60" x2="308.29" y2="67.60" stroke="#E860E8" stroke-width="0.9" />
<line x1="252.18" y1="10.50" x2="256.18" y2="10.50" stroke="#E860E8" stroke-width="0.8" />
<line x1="252.18" y1="12.70" x2="256.18" y2="12.70" stroke="#E860E8" stroke-width="0.8" />
<line x1="252.18" y1="28.40" x2="256.18" y2="28.40" stroke="#E860E8" stroke-width="0.8" />
<line x1="56.28" y1="76.00" x2="56.28" y2="87.50" stroke="#FF7878" stroke-width="0.9" />
<line x1="54.08" y1="76.00" x2="58.48" y2="76.00" stroke="#FF7878" stroke-width="0.9" />
<line x1="54.08" y1="87.50" x2="58.48" y2="87.50" stroke="#FF7878" stroke-width="0.9" />
<line x1="85.52" y1="82.00" x2="85.52" y2="90.30" stroke="#FF7878" stroke-width="0.9" />
<line x1="83.32" y1="82.00" x2="87.72" y2="82.00" stroke="#FF7878" stroke-width="0.9" />
<line x1="83.32" y1="90.30" x2="87.72" y2="90.30" stroke="#FF7878" stroke-width="0.9" />
<line x1="226.40" y1="131.30" x2="226.40" y2="143.70" stroke="#FF7878" stroke-width="0.9" />
<line x1="224.20" y1="131.30" x2="228.60" y2="131.30" stroke="#FF7878" stroke-width="0.9" />
<line x1="224.20" y1="143.70" x2="228.60" y2="143.70" stroke="#FF7878" stroke-width="0.9" />
<line x1="238.37" y1="139.50" x2="238.37" y2="150.50" stroke="#FF7878" stroke-width="0.9" />
<line x1="236.17" y1="139.50" x2="240.57" y2="139.50" stroke="#FF7878" stroke-width="0.9" />
<line x1="236.17" y1="150.50" x2="240.57" y2="150.50" stroke="#FF7878" stroke-width="0.9" />
<line x1="232.56" y1="141.00" x2="232.56" y2="149.50" stroke="#FF7878" stroke-width="0.9" />
<line x1="230.36" y1="141.00" x2="234.76" y2="141.00" stroke="#FF7878" stroke-width="0.9" />
<line x1="230.36" y1="149.50" x2="234.76" y2="149.50" stroke="#FF7878" stroke-width="0.9" />
<line x1="219.84" y1="134.00" x2="219.84" y2="142.00" stroke="#FF7878" stroke-width="0.9" />
<line x1="217.64" y1="134.00" x2="222.04" y2="134.00" stroke="#FF7878" stroke-width="0.9" />
<line x1="217.64" y1="142.00" x2="222.04" y2="142.00" stroke="#FF7878" stroke-width="0.9" />
<line x1="43.00" y1="0.50" x2="441.00" y2="0.50" stroke="#3a3a3a" stroke-width="1.2" />
<line x1="43.50" y1="0.00" x2="43.50" y2="159.60" stroke="#555" stroke-width="1" />
<line x1="43.50" y1="159.60" x2="440.50" y2="159.60" stroke="#555" stroke-width="1" />
<line x1="241.50" y1="0.00" x2="241.50" y2="159.60" stroke="#555" stroke-width="1" />
<line x1="440.60" y1="0.00" x2="440.60" y2="159.60" stroke="#6a6a6a" stroke-width="1.2" />
<line x1="43.50" y1="159.60" x2="43.50" y2="162.60" stroke="#555" stroke-width="0.8" />
<line x1="53.19" y1="159.60" x2="53.19" y2="161.20" stroke="#555" stroke-width="0.8" />
<line x1="62.03" y1="159.60" x2="62.03" y2="161.20" stroke="#555" stroke-width="0.8" />
<line x1="70.16" y1="159.60" x2="70.16" y2="161.20" stroke="#555" stroke-width="0.8" />
<line x1="77.69" y1="159.60" x2="77.69" y2="161.20" stroke="#555" stroke-width="0.8" />
<line x1="84.71" y1="159.60" x2="84.71" y2="161.20" stroke="#555" stroke-width="0.8" />
<line x1="91.26" y1="159.60" x2="91.26" y2="161.20" stroke="#555" stroke-width="0.8" />
<line x1="97.43" y1="159.60" x2="97.43" y2="161.20" stroke="#555" stroke-width="0.8" />
<line x1="103.23" y1="159.60" x2="103.23" y2="161.20" stroke="#555" stroke-width="0.8" />
<line x1="108.73" y1="159.60" x2="108.73" y2="161.20" stroke="#555" stroke-width="0.8" />
<line x1="113.94" y1="159.60" x2="113.94" y2="162.60" stroke="#555" stroke-width="0.8" />
<line x1="118.90" y1="159.60" x2="118.90" y2="161.20" stroke="#555" stroke-width="0.8" />
<line x1="123.63" y1="159.60" x2="123.63" y2="161.20" stroke="#555" stroke-width="0.8" />
<line x1="128.14" y1="159.60" x2="128.14" y2="161.20" stroke="#555" stroke-width="0.8" />
<line x1="132.47" y1="159.60" x2="132.47" y2="161.20" stroke="#555" stroke-width="0.8" />
<line x1="136.62" y1="159.60" x2="136.62" y2="161.20" stroke="#555" stroke-width="0.8" />
<line x1="140.60" y1="159.60" x2="140.60" y2="161.20" stroke="#555" stroke-width="0.8" />
<line x1="144.44" y1="159.60" x2="144.44" y2="161.20" stroke="#555" stroke-width="0.8" />
<line x1="148.13" y1="159.60" x2="148.13" y2="161.20" stroke="#555" stroke-width="0.8" />
<line x1="151.70" y1="159.60" x2="151.70" y2="161.20" stroke="#555" stroke-width="0.8" />
<line x1="155.15" y1="159.60" x2="155.15" y2="162.60" stroke="#555" stroke-width="0.8" />
<line x1="158.48" y1="159.60" x2="158.48" y2="161.20" stroke="#555" stroke-width="0.8" />
<line x1="161.71" y1="159.60" x2="161.71" y2="161.20" stroke="#555" stroke-width="0.8" />
<line x1="164.83" y1="159.60" x2="164.83" y2="161.20" stroke="#555" stroke-width="0.8" />
<line x1="167.87" y1="159.60" x2="167.87" y2="161.20" stroke="#555" stroke-width="0.8" />
<line x1="170.81" y1="159.60" x2="170.81" y2="161.20" stroke="#555" stroke-width="0.8" />
<line x1="173.67" y1="159.60" x2="173.67" y2="161.20" stroke="#555" stroke-width="0.8" />
<line x1="176.46" y1="159.60" x2="176.46" y2="161.20" stroke="#555" stroke-width="0.8" />
<line x1="179.17" y1="159.60" x2="179.17" y2="161.20" stroke="#555" stroke-width="0.8" />
<line x1="181.81" y1="159.60" x2="181.81" y2="161.20" stroke="#555" stroke-width="0.8" />
<line x1="184.38" y1="159.60" x2="184.38" y2="162.60" stroke="#555" stroke-width="0.8" />
<line x1="186.89" y1="159.60" x2="186.89" y2="161.20" stroke="#555" stroke-width="0.8" />
<line x1="189.34" y1="159.60" x2="189.34" y2="161.20" stroke="#555" stroke-width="0.8" />
<line x1="191.73" y1="159.60" x2="191.73" y2="161.20" stroke="#555" stroke-width="0.8" />
<line x1="194.07" y1="159.60" x2="194.07" y2="161.20" stroke="#555" stroke-width="0.8" />
<line x1="196.35" y1="159.60" x2="196.35" y2="161.20" stroke="#555" stroke-width="0.8" />
<line x1="198.59" y1="159.60" x2="198.59" y2="161.20" stroke="#555" stroke-width="0.8" />
<line x1="200.77" y1="159.60" x2="200.77" y2="161.20" stroke="#555" stroke-width="0.8" />
<line x1="202.91" y1="159.60" x2="202.91" y2="161.20" stroke="#555" stroke-width="0.8" />
<line x1="205.01" y1="159.60" x2="205.01" y2="161.20" stroke="#555" stroke-width="0.8" />
<line x1="207.06" y1="159.60" x2="207.06" y2="162.60" stroke="#555" stroke-width="0.8" />
<line x1="209.07" y1="159.60" x2="209.07" y2="161.20" stroke="#555" stroke-width="0.8" />
<line x1="211.04" y1="159.60" x2="211.04" y2="161.20" stroke="#555" stroke-width="0.8" />
<line x1="212.98" y1="159.60" x2="212.98" y2="161.20" stroke="#555" stroke-width="0.8" />
<line x1="214.88" y1="159.60" x2="214.88" y2="161.20" stroke="#555" stroke-width="0.8" />
<line x1="216.74" y1="159.60" x2="216.74" y2="161.20" stroke="#555" stroke-width="0.8" />
<line x1="218.58" y1="159.60" x2="218.58" y2="161.20" stroke="#555" stroke-width="0.8" />
<line x1="220.37" y1="159.60" x2="220.37" y2="161.20" stroke="#555" stroke-width="0.8" />
<line x1="222.14" y1="159.60" x2="222.14" y2="161.20" stroke="#555" stroke-width="0.8" />
<line x1="223.88" y1="159.60" x2="223.88" y2="161.20" stroke="#555" stroke-width="0.8" />
<line x1="225.59" y1="159.60" x2="225.59" y2="162.60" stroke="#555" stroke-width="0.8" />
<line x1="227.27" y1="159.60" x2="227.27" y2="161.20" stroke="#555" stroke-width="0.8" />
<line x1="228.92" y1="159.60" x2="228.92" y2="161.20" stroke="#555" stroke-width="0.8" />
<line x1="230.55" y1="159.60" x2="230.55" y2="161.20" stroke="#555" stroke-width="0.8" />
<line x1="232.15" y1="159.60" x2="232.15" y2="161.20" stroke="#555" stroke-width="0.8" />
<line x1="233.72" y1="159.60" x2="233.72" y2="161.20" stroke="#555" stroke-width="0.8" />
<line x1="235.27" y1="159.60" x2="235.27" y2="161.20" stroke="#555" stroke-width="0.8" />
<line x1="236.80" y1="159.60" x2="236.80" y2="161.20" stroke="#555" stroke-width="0.8" />
<line x1="238.31" y1="159.60" x2="238.31" y2="161.20" stroke="#555" stroke-width="0.8" />
<line x1="239.79" y1="159.60" x2="239.79" y2="161.20" stroke="#555" stroke-width="0.8" />
<line x1="241.25" y1="159.60" x2="241.25" y2="162.60" stroke="#555" stroke-width="0.8" />
<line x1="241.40" y1="159.60" x2="241.40" y2="162.60" stroke="#555" stroke-width="0.8" />
<line x1="251.09" y1="159.60" x2="251.09" y2="161.20" stroke="#555" stroke-width="0.8" />
<line x1="259.93" y1="159.60" x2="259.93" y2="161.20" stroke="#555" stroke-width="0.8" />
<line x1="268.06" y1="159.60" x2="268.06" y2="161.20" stroke="#555" stroke-width="0.8" />
<line x1="275.59" y1="159.60" x2="275.59" y2="161.20" stroke="#555" stroke-width="0.8" />
<line x1="282.61" y1="159.60" x2="282.61" y2="161.20" stroke="#555" stroke-width="0.8" />
<line x1="289.16" y1="159.60" x2="289.16" y2="161.20" stroke="#555" stroke-width="0.8" />
<line x1="295.33" y1="159.60" x2="295.33" y2="161.20" stroke="#555" stroke-width="0.8" />
<line x1="301.13" y1="159.60" x2="301.13" y2="161.20" stroke="#555" stroke-width="0.8" />
<line x1="306.63" y1="159.60" x2="306.63" y2="161.20" stroke="#555" stroke-width="0.8" />
<line x1="311.84" y1="159.60" x2="311.84" y2="162.60" stroke="#555" stroke-width="0.8" />
<line x1="316.80" y1="159.60" x2="316.80" y2="161.20" stroke="#555" stroke-width="0.8" />
<line x1="321.53" y1="159.60" x2="321.53" y2="161.20" stroke="#555" stroke-width="0.8" />
<line x1="326.04" y1="159.60" x2="326.04" y2="161.20" stroke="#555" stroke-width="0.8" />
<line x1="330.37" y1="159.60" x2="330.37" y2="161.20" stroke="#555" stroke-width="0.8" />
<line x1="334.52" y1="159.60" x2="334.52" y2="161.20" stroke="#555" stroke-width="0.8" />
<line x1="338.50" y1="159.60" x2="338.50" y2="161.20" stroke="#555" stroke-width="0.8" />
<line x1="342.34" y1="159.60" x2="342.34" y2="161.20" stroke="#555" stroke-width="0.8" />
<line x1="346.03" y1="159.60" x2="346.03" y2="161.20" stroke="#555" stroke-width="0.8" />
<line x1="349.60" y1="159.60" x2="349.60" y2="161.20" stroke="#555" stroke-width="0.8" />
<line x1="353.05" y1="159.60" x2="353.05" y2="162.60" stroke="#555" stroke-width="0.8" />
<line x1="356.38" y1="159.60" x2="356.38" y2="161.20" stroke="#555" stroke-width="0.8" />
<line x1="359.61" y1="159.60" x2="359.61" y2="161.20" stroke="#555" stroke-width="0.8" />
<line x1="362.73" y1="159.60" x2="362.73" y2="161.20" stroke="#555" stroke-width="0.8" />
<line x1="365.77" y1="159.60" x2="365.77" y2="161.20" stroke="#555" stroke-width="0.8" />
<line x1="368.71" y1="159.60" x2="368.71" y2="161.20" stroke="#555" stroke-width="0.8" />
<line x1="371.57" y1="159.60" x2="371.57" y2="161.20" stroke="#555" stroke-width="0.8" />
<line x1="374.36" y1="159.60" x2="374.36" y2="161.20" stroke="#555" stroke-width="0.8" />
<line x1="377.07" y1="159.60" x2="377.07" y2="161.20" stroke="#555" stroke-width="0.8" />
<line x1="379.71" y1="159.60" x2="379.71" y2="161.20" stroke="#555" stroke-width="0.8" />
<line x1="382.28" y1="159.60" x2="382.28" y2="162.60" stroke="#555" stroke-width="0.8" />
<line x1="384.79" y1="159.60" x2="384.79" y2="161.20" stroke="#555" stroke-width="0.8" />
<line x1="387.24" y1="159.60" x2="387.24" y2="161.20" stroke="#555" stroke-width="0.8" />
<line x1="389.63" y1="159.60" x2="389.63" y2="161.20" stroke="#555" stroke-width="0.8" />
<line x1="391.97" y1="159.60" x2="391.97" y2="161.20" stroke="#555" stroke-width="0.8" />
<line x1="394.25" y1="159.60" x2="394.25" y2="161.20" stroke="#555" stroke-width="0.8" />
<line x1="396.49" y1="159.60" x2="396.49" y2="161.20" stroke="#555" stroke-width="0.8" />
<line x1="398.67" y1="159.60" x2="398.67" y2="161.20" stroke="#555" stroke-width="0.8" />
<line x1="400.81" y1="159.60" x2="400.81" y2="161.20" stroke="#555" stroke-width="0.8" />
<line x1="402.91" y1="159.60" x2="402.91" y2="161.20" stroke="#555" stroke-width="0.8" />
<line x1="404.96" y1="159.60" x2="404.96" y2="162.60" stroke="#555" stroke-width="0.8" />
<line x1="406.97" y1="159.60" x2="406.97" y2="161.20" stroke="#555" stroke-width="0.8" />
<line x1="408.94" y1="159.60" x2="408.94" y2="161.20" stroke="#555" stroke-width="0.8" />
<line x1="410.88" y1="159.60" x2="410.88" y2="161.20" stroke="#555" stroke-width="0.8" />
<line x1="412.78" y1="159.60" x2="412.78" y2="161.20" stroke="#555" stroke-width="0.8" />
<line x1="414.64" y1="159.60" x2="414.64" y2="161.20" stroke="#555" stroke-width="0.8" />
<line x1="416.48" y1="159.60" x2="416.48" y2="161.20" stroke="#555" stroke-width="0.8" />
<line x1="418.27" y1="159.60" x2="418.27" y2="161.20" stroke="#555" stroke-width="0.8" />
<line x1="420.04" y1="159.60" x2="420.04" y2="161.20" stroke="#555" stroke-width="0.8" />
<line x1="421.78" y1="159.60" x2="421.78" y2="161.20" stroke="#555" stroke-width="0.8" />
<line x1="423.49" y1="159.60" x2="423.49" y2="162.60" stroke="#555" stroke-width="0.8" />
<line x1="425.17" y1="159.60" x2="425.17" y2="161.20" stroke="#555" stroke-width="0.8" />
<line x1="426.82" y1="159.60" x2="426.82" y2="161.20" stroke="#555" stroke-width="0.8" />
<line x1="428.45" y1="159.60" x2="428.45" y2="161.20" stroke="#555" stroke-width="0.8" />
<line x1="430.05" y1="159.60" x2="430.05" y2="161.20" stroke="#555" stroke-width="0.8" />
<line x1="431.62" y1="159.60" x2="431.62" y2="161.20" stroke="#555" stroke-width="0.8" />
<line x1="433.17" y1="159.60" x2="433.17" y2="161.20" stroke="#555" stroke-width="0.8" />
<line x1="434.70" y1="159.60" x2="434.70" y2="161.20" stroke="#555" stroke-width="0.8" />
<line x1="436.21" y1="159.60" x2="436.21" y2="161.20" stroke="#555" stroke-width="0.8" />
<line x1="437.69" y1="159.60" x2="437.69" y2="161.20" stroke="#555" stroke-width="0.8" />
<line x1="439.15" y1="159.60" x2="439.15" y2="162.60" stroke="#555" stroke-width="0.8" />
<text x="43.50" y="173.80" font-size="11" text-anchor="middle" font-weight="normal" fill="#222" >1</text>
<text x="113.94" y="173.80" font-size="11" text-anchor="middle" font-weight="normal" fill="#222" >2</text>
<text x="155.15" y="173.80" font-size="11" text-anchor="middle" font-weight="normal" fill="#222" >3</text>
<text x="184.38" y="173.80" font-size="11" text-anchor="middle" font-weight="normal" fill="#222" >4</text>
<text x="207.06" y="173.80" font-size="11" text-anchor="middle" font-weight="normal" fill="#222" >5</text>
<text x="225.59" y="173.80" font-size="11" text-anchor="middle" font-weight="normal" fill="#222" >6</text>
<text x="241.25" y="173.80" font-size="11" text-anchor="middle" font-weight="normal" fill="#222" >7</text>
<text x="311.84" y="173.80" font-size="11" text-anchor="middle" font-weight="normal" fill="#222" >2</text>
<text x="353.05" y="173.80" font-size="11" text-anchor="middle" font-weight="normal" fill="#222" >3</text>
<text x="382.28" y="173.80" font-size="11" text-anchor="middle" font-weight="normal" fill="#222" >4</text>
<text x="404.96" y="173.80" font-size="11" text-anchor="middle" font-weight="normal" fill="#222" >5</text>
<text x="423.49" y="173.80" font-size="11" text-anchor="middle" font-weight="normal" fill="#222" >6</text>
<text x="439.15" y="173.80" font-size="11" text-anchor="middle" font-weight="normal" fill="#222" >7</text>
<line x1="43.50" y1="160.20" x2="39.70" y2="160.20" stroke="#555" stroke-width="0.8" />
<line x1="43.50" y1="144.12" x2="41.70" y2="144.12" stroke="#555" stroke-width="0.8" />
<line x1="43.50" y1="134.72" x2="41.70" y2="134.72" stroke="#555" stroke-width="0.8" />
<line x1="43.50" y1="128.05" x2="41.70" y2="128.05" stroke="#555" stroke-width="0.8" />
<line x1="43.50" y1="122.88" x2="41.70" y2="122.88" stroke="#555" stroke-width="0.8" />
<line x1="43.50" y1="118.65" x2="41.70" y2="118.65" stroke="#555" stroke-width="0.8" />
<line x1="43.50" y1="115.07" x2="41.70" y2="115.07" stroke="#555" stroke-width="0.8" />
<line x1="43.50" y1="111.97" x2="41.70" y2="111.97" stroke="#555" stroke-width="0.8" />
<line x1="43.50" y1="109.24" x2="41.70" y2="109.24" stroke="#555" stroke-width="0.8" />
<line x1="43.50" y1="106.80" x2="39.70" y2="106.80" stroke="#555" stroke-width="0.8" />
<line x1="43.50" y1="90.72" x2="41.70" y2="90.72" stroke="#555" stroke-width="0.8" />
<line x1="43.50" y1="81.32" x2="41.70" y2="81.32" stroke="#555" stroke-width="0.8" />
<line x1="43.50" y1="74.65" x2="41.70" y2="74.65" stroke="#555" stroke-width="0.8" />
<line x1="43.50" y1="69.48" x2="41.70" y2="69.48" stroke="#555" stroke-width="0.8" />
<line x1="43.50" y1="65.25" x2="41.70" y2="65.25" stroke="#555" stroke-width="0.8" />
<line x1="43.50" y1="61.67" x2="41.70" y2="61.67" stroke="#555" stroke-width="0.8" />
<line x1="43.50" y1="58.57" x2="41.70" y2="58.57" stroke="#555" stroke-width="0.8" />
<line x1="43.50" y1="55.84" x2="41.70" y2="55.84" stroke="#555" stroke-width="0.8" />
<line x1="43.50" y1="53.40" x2="39.70" y2="53.40" stroke="#555" stroke-width="0.8" />
<line x1="43.50" y1="37.32" x2="41.70" y2="37.32" stroke="#555" stroke-width="0.8" />
<line x1="43.50" y1="27.92" x2="41.70" y2="27.92" stroke="#555" stroke-width="0.8" />
<line x1="43.50" y1="21.25" x2="41.70" y2="21.25" stroke="#555" stroke-width="0.8" />
<line x1="43.50" y1="16.08" x2="41.70" y2="16.08" stroke="#555" stroke-width="0.8" />
<line x1="43.50" y1="11.85" x2="41.70" y2="11.85" stroke="#555" stroke-width="0.8" />
<line x1="43.50" y1="8.27" x2="41.70" y2="8.27" stroke="#555" stroke-width="0.8" />
<line x1="43.50" y1="5.17" x2="41.70" y2="5.17" stroke="#555" stroke-width="0.8" />
<line x1="43.50" y1="2.44" x2="41.70" y2="2.44" stroke="#555" stroke-width="0.8" />
<line x1="43.50" y1="0.00" x2="39.70" y2="0.00" stroke="#555" stroke-width="0.8" />
<text x="37.90" y="163.90" font-size="10.8" text-anchor="end" font-weight="normal" fill="#222" >0.1</text>
<text x="37.90" y="110.50" font-size="10.8" text-anchor="end" font-weight="normal" fill="#222" >1</text>
<text x="37.90" y="57.10" font-size="10.8" text-anchor="end" font-weight="normal" fill="#222" >10</text>
<rect x="143.7" y="0.5" width="97.7" height="77.9" fill="#fff"/>
<line x1="143.50" y1="0.00" x2="143.50" y2="78.50" stroke="#555" stroke-width="1" />
<line x1="143.50" y1="78.50" x2="241.50" y2="78.50" stroke="#555" stroke-width="1" />
<line x1="143.70" y1="71.86" x2="142.40" y2="71.86" stroke="#555" stroke-width="0.7" />
<line x1="143.70" y1="66.22" x2="142.40" y2="66.22" stroke="#555" stroke-width="0.7" />
<line x1="143.70" y1="61.61" x2="142.40" y2="61.61" stroke="#555" stroke-width="0.7" />
<line x1="143.70" y1="57.72" x2="142.40" y2="57.72" stroke="#555" stroke-width="0.7" />
<line x1="143.70" y1="54.34" x2="142.40" y2="54.34" stroke="#555" stroke-width="0.7" />
<line x1="143.70" y1="51.36" x2="142.40" y2="51.36" stroke="#555" stroke-width="0.7" />
<line x1="143.70" y1="48.70" x2="141.10" y2="48.70" stroke="#555" stroke-width="0.7" />
<line x1="143.70" y1="31.18" x2="142.40" y2="31.18" stroke="#555" stroke-width="0.7" />
<line x1="143.70" y1="20.93" x2="142.40" y2="20.93" stroke="#555" stroke-width="0.7" />
<line x1="143.70" y1="13.66" x2="142.40" y2="13.66" stroke="#555" stroke-width="0.7" />
<line x1="143.70" y1="8.02" x2="141.10" y2="8.02" stroke="#555" stroke-width="0.7" />
<line x1="143.70" y1="3.41" x2="142.40" y2="3.41" stroke="#555" stroke-width="0.7" />
<line x1="143.70" y1="78.50" x2="143.70" y2="80.70" stroke="#555" stroke-width="0.8" />
<line x1="148.44" y1="78.50" x2="148.44" y2="79.70" stroke="#555" stroke-width="0.8" />
<line x1="152.77" y1="78.50" x2="152.77" y2="79.70" stroke="#555" stroke-width="0.8" />
<line x1="156.76" y1="78.50" x2="156.76" y2="79.70" stroke="#555" stroke-width="0.8" />
<line x1="160.45" y1="78.50" x2="160.45" y2="79.70" stroke="#555" stroke-width="0.8" />
<line x1="163.88" y1="78.50" x2="163.88" y2="79.70" stroke="#555" stroke-width="0.8" />
<line x1="167.09" y1="78.50" x2="167.09" y2="79.70" stroke="#555" stroke-width="0.8" />
<line x1="170.11" y1="78.50" x2="170.11" y2="79.70" stroke="#555" stroke-width="0.8" />
<line x1="172.95" y1="78.50" x2="172.95" y2="79.70" stroke="#555" stroke-width="0.8" />
<line x1="175.65" y1="78.50" x2="175.65" y2="79.70" stroke="#555" stroke-width="0.8" />
<line x1="178.20" y1="78.50" x2="178.20" y2="80.70" stroke="#555" stroke-width="0.8" />
<line x1="180.63" y1="78.50" x2="180.63" y2="79.70" stroke="#555" stroke-width="0.8" />
<line x1="182.94" y1="78.50" x2="182.94" y2="79.70" stroke="#555" stroke-width="0.8" />
<line x1="185.15" y1="78.50" x2="185.15" y2="79.70" stroke="#555" stroke-width="0.8" />
<line x1="187.27" y1="78.50" x2="187.27" y2="79.70" stroke="#555" stroke-width="0.8" />
<line x1="189.30" y1="78.50" x2="189.30" y2="79.70" stroke="#555" stroke-width="0.8" />
<line x1="191.26" y1="78.50" x2="191.26" y2="79.70" stroke="#555" stroke-width="0.8" />
<line x1="193.13" y1="78.50" x2="193.13" y2="79.70" stroke="#555" stroke-width="0.8" />
<line x1="194.94" y1="78.50" x2="194.94" y2="79.70" stroke="#555" stroke-width="0.8" />
<line x1="196.69" y1="78.50" x2="196.69" y2="79.70" stroke="#555" stroke-width="0.8" />
<line x1="198.38" y1="78.50" x2="198.38" y2="80.70" stroke="#555" stroke-width="0.8" />
<line x1="200.01" y1="78.50" x2="200.01" y2="79.70" stroke="#555" stroke-width="0.8" />
<line x1="201.59" y1="78.50" x2="201.59" y2="79.70" stroke="#555" stroke-width="0.8" />
<line x1="203.12" y1="78.50" x2="203.12" y2="79.70" stroke="#555" stroke-width="0.8" />
<line x1="204.61" y1="78.50" x2="204.61" y2="79.70" stroke="#555" stroke-width="0.8" />
<line x1="206.05" y1="78.50" x2="206.05" y2="79.70" stroke="#555" stroke-width="0.8" />
<line x1="207.45" y1="78.50" x2="207.45" y2="79.70" stroke="#555" stroke-width="0.8" />
<line x1="208.82" y1="78.50" x2="208.82" y2="79.70" stroke="#555" stroke-width="0.8" />
<line x1="210.14" y1="78.50" x2="210.14" y2="79.70" stroke="#555" stroke-width="0.8" />
<line x1="211.44" y1="78.50" x2="211.44" y2="79.70" stroke="#555" stroke-width="0.8" />
<line x1="212.70" y1="78.50" x2="212.70" y2="80.70" stroke="#555" stroke-width="0.8" />
<line x1="213.93" y1="78.50" x2="213.93" y2="79.70" stroke="#555" stroke-width="0.8" />
<line x1="215.12" y1="78.50" x2="215.12" y2="79.70" stroke="#555" stroke-width="0.8" />
<line x1="216.30" y1="78.50" x2="216.30" y2="79.70" stroke="#555" stroke-width="0.8" />
<line x1="217.44" y1="78.50" x2="217.44" y2="79.70" stroke="#555" stroke-width="0.8" />
<line x1="218.56" y1="78.50" x2="218.56" y2="79.70" stroke="#555" stroke-width="0.8" />
<line x1="219.65" y1="78.50" x2="219.65" y2="79.70" stroke="#555" stroke-width="0.8" />
<line x1="220.72" y1="78.50" x2="220.72" y2="79.70" stroke="#555" stroke-width="0.8" />
<line x1="221.77" y1="78.50" x2="221.77" y2="79.70" stroke="#555" stroke-width="0.8" />
<line x1="222.80" y1="78.50" x2="222.80" y2="79.70" stroke="#555" stroke-width="0.8" />
<line x1="223.80" y1="78.50" x2="223.80" y2="80.70" stroke="#555" stroke-width="0.8" />
<line x1="224.79" y1="78.50" x2="224.79" y2="79.70" stroke="#555" stroke-width="0.8" />
<line x1="225.75" y1="78.50" x2="225.75" y2="79.70" stroke="#555" stroke-width="0.8" />
<line x1="226.70" y1="78.50" x2="226.70" y2="79.70" stroke="#555" stroke-width="0.8" />
<line x1="227.63" y1="78.50" x2="227.63" y2="79.70" stroke="#555" stroke-width="0.8" />
<line x1="228.55" y1="78.50" x2="228.55" y2="79.70" stroke="#555" stroke-width="0.8" />
<line x1="229.44" y1="78.50" x2="229.44" y2="79.70" stroke="#555" stroke-width="0.8" />
<line x1="230.32" y1="78.50" x2="230.32" y2="79.70" stroke="#555" stroke-width="0.8" />
<line x1="231.19" y1="78.50" x2="231.19" y2="79.70" stroke="#555" stroke-width="0.8" />
<line x1="232.04" y1="78.50" x2="232.04" y2="79.70" stroke="#555" stroke-width="0.8" />
<line x1="232.88" y1="78.50" x2="232.88" y2="80.70" stroke="#555" stroke-width="0.8" />
<line x1="233.70" y1="78.50" x2="233.70" y2="79.70" stroke="#555" stroke-width="0.8" />
<line x1="234.51" y1="78.50" x2="234.51" y2="79.70" stroke="#555" stroke-width="0.8" />
<line x1="235.30" y1="78.50" x2="235.30" y2="79.70" stroke="#555" stroke-width="0.8" />
<line x1="236.09" y1="78.50" x2="236.09" y2="79.70" stroke="#555" stroke-width="0.8" />
<line x1="236.86" y1="78.50" x2="236.86" y2="79.70" stroke="#555" stroke-width="0.8" />
<line x1="237.62" y1="78.50" x2="237.62" y2="79.70" stroke="#555" stroke-width="0.8" />
<line x1="238.37" y1="78.50" x2="238.37" y2="79.70" stroke="#555" stroke-width="0.8" />
<line x1="239.11" y1="78.50" x2="239.11" y2="79.70" stroke="#555" stroke-width="0.8" />
<line x1="239.83" y1="78.50" x2="239.83" y2="79.70" stroke="#555" stroke-width="0.8" />
<line x1="240.55" y1="78.50" x2="240.55" y2="80.70" stroke="#555" stroke-width="0.8" />
<text x="141.40" y="51.50" font-size="7.4" text-anchor="end" font-weight="normal" fill="#222" >10</text>
<text x="141.40" y="10.82" font-size="7.4" text-anchor="end" font-weight="normal" fill="#222" >50</text>
<text x="143.70" y="87.00" font-size="7.8" text-anchor="middle" font-weight="normal" fill="#222" >1</text>
<text x="178.20" y="87.00" font-size="7.8" text-anchor="middle" font-weight="normal" fill="#222" >2</text>
<text x="198.38" y="87.00" font-size="7.8" text-anchor="middle" font-weight="normal" fill="#222" >3</text>
<text x="212.70" y="87.00" font-size="7.8" text-anchor="middle" font-weight="normal" fill="#222" >4</text>
<text x="223.80" y="87.00" font-size="7.8" text-anchor="middle" font-weight="normal" fill="#222" >5</text>
<text x="232.88" y="87.00" font-size="7.8" text-anchor="middle" font-weight="normal" fill="#222" >6</text>
<g clip-path="url(#ci1)">
<line x1="149.96" y1="46.40" x2="149.96" y2="55.40" stroke="#FF9C9C" stroke-width="0.55" />
<line x1="148.76" y1="46.40" x2="151.16" y2="46.40" stroke="#FF9C9C" stroke-width="0.55" />
<line x1="148.76" y1="55.40" x2="151.16" y2="55.40" stroke="#FF9C9C" stroke-width="0.55" />
<line x1="149.96" y1="61.40" x2="149.96" y2="70.40" stroke="#FF9C9C" stroke-width="0.55" />
<line x1="148.76" y1="61.40" x2="151.16" y2="61.40" stroke="#FF9C9C" stroke-width="0.55" />
<line x1="148.76" y1="70.40" x2="151.16" y2="70.40" stroke="#FF9C9C" stroke-width="0.55" />
<line x1="149.96" y1="66.40" x2="149.96" y2="75.40" stroke="#FF9C9C" stroke-width="0.55" />
<line x1="148.76" y1="66.40" x2="151.16" y2="66.40" stroke="#FF9C9C" stroke-width="0.55" />
<line x1="148.76" y1="75.40" x2="151.16" y2="75.40" stroke="#FF9C9C" stroke-width="0.55" />
<line x1="149.96" y1="57.50" x2="149.96" y2="66.50" stroke="#FF9C9C" stroke-width="0.55" />
<line x1="148.76" y1="57.50" x2="151.16" y2="57.50" stroke="#FF9C9C" stroke-width="0.55" />
<line x1="148.76" y1="66.50" x2="151.16" y2="66.50" stroke="#FF9C9C" stroke-width="0.55" />
<line x1="149.96" y1="56.40" x2="149.96" y2="65.40" stroke="#FF9C9C" stroke-width="0.55" />
<line x1="148.76" y1="56.40" x2="151.16" y2="56.40" stroke="#FF9C9C" stroke-width="0.55" />
<line x1="148.76" y1="65.40" x2="151.16" y2="65.40" stroke="#FF9C9C" stroke-width="0.55" />
<rect x="148.51" y="49.45" width="2.90" height="2.90" fill="#FFB0B0" stroke="none" stroke-width="1"/>
<circle cx="149.96" cy="65.90" r="1.45" fill="#FF5A5A" stroke="none" stroke-width="1"/>
<polygon points="149.96,69.48 151.48,71.95 148.44,71.95" fill="#FF1E1E" stroke="none" stroke-width="1"/>
<polygon points="149.96,63.42 151.48,60.95 148.44,60.95" fill="#F00000" stroke="none" stroke-width="1"/>
<polygon points="149.96,58.92 151.94,60.90 149.96,62.88 147.98,60.90" fill="#C40000" stroke="none" stroke-width="1"/>
<line x1="164.28" y1="32.50" x2="164.28" y2="41.50" stroke="#FF9C9C" stroke-width="0.55" />
<line x1="163.08" y1="32.50" x2="165.48" y2="32.50" stroke="#FF9C9C" stroke-width="0.55" />
<line x1="163.08" y1="41.50" x2="165.48" y2="41.50" stroke="#FF9C9C" stroke-width="0.55" />
<line x1="164.28" y1="45.00" x2="164.28" y2="54.00" stroke="#FF9C9C" stroke-width="0.55" />
<line x1="163.08" y1="45.00" x2="165.48" y2="45.00" stroke="#FF9C9C" stroke-width="0.55" />
<line x1="163.08" y1="54.00" x2="165.48" y2="54.00" stroke="#FF9C9C" stroke-width="0.55" />
<line x1="164.28" y1="52.50" x2="164.28" y2="61.50" stroke="#FF9C9C" stroke-width="0.55" />
<line x1="163.08" y1="52.50" x2="165.48" y2="52.50" stroke="#FF9C9C" stroke-width="0.55" />
<line x1="163.08" y1="61.50" x2="165.48" y2="61.50" stroke="#FF9C9C" stroke-width="0.55" />
<line x1="164.28" y1="45.00" x2="164.28" y2="54.00" stroke="#FF9C9C" stroke-width="0.55" />
<line x1="163.08" y1="45.00" x2="165.48" y2="45.00" stroke="#FF9C9C" stroke-width="0.55" />
<line x1="163.08" y1="54.00" x2="165.48" y2="54.00" stroke="#FF9C9C" stroke-width="0.55" />
<line x1="164.28" y1="45.00" x2="164.28" y2="54.00" stroke="#FF9C9C" stroke-width="0.55" />
<line x1="163.08" y1="45.00" x2="165.48" y2="45.00" stroke="#FF9C9C" stroke-width="0.55" />
<line x1="163.08" y1="54.00" x2="165.48" y2="54.00" stroke="#FF9C9C" stroke-width="0.55" />
<rect x="162.83" y="35.55" width="2.90" height="2.90" fill="#FFB0B0" stroke="none" stroke-width="1"/>
<circle cx="164.28" cy="49.50" r="1.45" fill="#FF5A5A" stroke="none" stroke-width="1"/>
<polygon points="164.28,55.58 165.80,58.05 162.75,58.05" fill="#FF1E1E" stroke="none" stroke-width="1"/>
<polygon points="164.28,50.92 165.80,48.45 162.75,48.45" fill="#F00000" stroke="none" stroke-width="1"/>
<polygon points="164.28,47.52 166.25,49.50 164.28,51.48 162.30,49.50" fill="#C40000" stroke="none" stroke-width="1"/>
<line x1="175.38" y1="31.50" x2="175.38" y2="40.50" stroke="#FF9C9C" stroke-width="0.55" />
<line x1="174.18" y1="31.50" x2="176.58" y2="31.50" stroke="#FF9C9C" stroke-width="0.55" />
<line x1="174.18" y1="40.50" x2="176.58" y2="40.50" stroke="#FF9C9C" stroke-width="0.55" />
<line x1="175.38" y1="43.00" x2="175.38" y2="52.00" stroke="#FF9C9C" stroke-width="0.55" />
<line x1="174.18" y1="43.00" x2="176.58" y2="43.00" stroke="#FF9C9C" stroke-width="0.55" />
<line x1="174.18" y1="52.00" x2="176.58" y2="52.00" stroke="#FF9C9C" stroke-width="0.55" />
<line x1="175.38" y1="45.00" x2="175.38" y2="54.00" stroke="#FF9C9C" stroke-width="0.55" />
<line x1="174.18" y1="45.00" x2="176.58" y2="45.00" stroke="#FF9C9C" stroke-width="0.55" />
<line x1="174.18" y1="54.00" x2="176.58" y2="54.00" stroke="#FF9C9C" stroke-width="0.55" />
<line x1="175.38" y1="42.50" x2="175.38" y2="51.50" stroke="#FF9C9C" stroke-width="0.55" />
<line x1="174.18" y1="42.50" x2="176.58" y2="42.50" stroke="#FF9C9C" stroke-width="0.55" />
<line x1="174.18" y1="51.50" x2="176.58" y2="51.50" stroke="#FF9C9C" stroke-width="0.55" />
<line x1="175.38" y1="42.50" x2="175.38" y2="51.50" stroke="#FF9C9C" stroke-width="0.55" />
<line x1="174.18" y1="42.50" x2="176.58" y2="42.50" stroke="#FF9C9C" stroke-width="0.55" />
<line x1="174.18" y1="51.50" x2="176.58" y2="51.50" stroke="#FF9C9C" stroke-width="0.55" />
<rect x="173.93" y="34.55" width="2.90" height="2.90" fill="#FFB0B0" stroke="none" stroke-width="1"/>
<circle cx="175.38" cy="47.50" r="1.45" fill="#FF5A5A" stroke="none" stroke-width="1"/>
<polygon points="175.38,48.08 176.91,50.55 173.86,50.55" fill="#FF1E1E" stroke="none" stroke-width="1"/>
<polygon points="175.38,48.42 176.91,45.95 173.86,45.95" fill="#F00000" stroke="none" stroke-width="1"/>
<polygon points="175.38,45.02 177.36,47.00 175.38,48.98 173.40,47.00" fill="#C40000" stroke="none" stroke-width="1"/>
<line x1="184.46" y1="24.40" x2="184.46" y2="29.60" stroke="#FF9C9C" stroke-width="0.55" />
<line x1="183.26" y1="24.40" x2="185.66" y2="24.40" stroke="#FF9C9C" stroke-width="0.55" />
<line x1="183.26" y1="29.60" x2="185.66" y2="29.60" stroke="#FF9C9C" stroke-width="0.55" />
<line x1="184.46" y1="37.40" x2="184.46" y2="42.60" stroke="#FF9C9C" stroke-width="0.55" />
<line x1="183.26" y1="37.40" x2="185.66" y2="37.40" stroke="#FF9C9C" stroke-width="0.55" />
<line x1="183.26" y1="42.60" x2="185.66" y2="42.60" stroke="#FF9C9C" stroke-width="0.55" />
<line x1="184.46" y1="40.40" x2="184.46" y2="45.60" stroke="#FF9C9C" stroke-width="0.55" />
<line x1="183.26" y1="40.40" x2="185.66" y2="40.40" stroke="#FF9C9C" stroke-width="0.55" />
<line x1="183.26" y1="45.60" x2="185.66" y2="45.60" stroke="#FF9C9C" stroke-width="0.55" />
<line x1="184.46" y1="37.40" x2="184.46" y2="42.60" stroke="#FF9C9C" stroke-width="0.55" />
<line x1="183.26" y1="37.40" x2="185.66" y2="37.40" stroke="#FF9C9C" stroke-width="0.55" />
<line x1="183.26" y1="42.60" x2="185.66" y2="42.60" stroke="#FF9C9C" stroke-width="0.55" />
<line x1="184.46" y1="37.40" x2="184.46" y2="42.60" stroke="#FF9C9C" stroke-width="0.55" />
<line x1="183.26" y1="37.40" x2="185.66" y2="37.40" stroke="#FF9C9C" stroke-width="0.55" />
<line x1="183.26" y1="42.60" x2="185.66" y2="42.60" stroke="#FF9C9C" stroke-width="0.55" />
<rect x="183.01" y="25.55" width="2.90" height="2.90" fill="#FFB0B0" stroke="none" stroke-width="1"/>
<circle cx="184.46" cy="40.00" r="1.45" fill="#FF5A5A" stroke="none" stroke-width="1"/>
<polygon points="184.46,41.58 185.98,44.05 182.93,44.05" fill="#FF1E1E" stroke="none" stroke-width="1"/>
<polygon points="184.46,41.42 185.98,38.95 182.93,38.95" fill="#F00000" stroke="none" stroke-width="1"/>
<polygon points="184.46,38.02 186.43,40.00 184.46,41.98 182.48,40.00" fill="#C40000" stroke="none" stroke-width="1"/>
<line x1="192.13" y1="23.40" x2="192.13" y2="28.60" stroke="#FF9C9C" stroke-width="0.55" />
<line x1="190.93" y1="23.40" x2="193.33" y2="23.40" stroke="#FF9C9C" stroke-width="0.55" />
<line x1="190.93" y1="28.60" x2="193.33" y2="28.60" stroke="#FF9C9C" stroke-width="0.55" />
<line x1="192.13" y1="31.80" x2="192.13" y2="37.00" stroke="#FF9C9C" stroke-width="0.55" />
<line x1="190.93" y1="31.80" x2="193.33" y2="31.80" stroke="#FF9C9C" stroke-width="0.55" />
<line x1="190.93" y1="37.00" x2="193.33" y2="37.00" stroke="#FF9C9C" stroke-width="0.55" />
<line x1="192.13" y1="34.40" x2="192.13" y2="39.60" stroke="#FF9C9C" stroke-width="0.55" />
<line x1="190.93" y1="34.40" x2="193.33" y2="34.40" stroke="#FF9C9C" stroke-width="0.55" />
<line x1="190.93" y1="39.60" x2="193.33" y2="39.60" stroke="#FF9C9C" stroke-width="0.55" />
<line x1="192.13" y1="33.40" x2="192.13" y2="38.60" stroke="#FF9C9C" stroke-width="0.55" />
<line x1="190.93" y1="33.40" x2="193.33" y2="33.40" stroke="#FF9C9C" stroke-width="0.55" />
<line x1="190.93" y1="38.60" x2="193.33" y2="38.60" stroke="#FF9C9C" stroke-width="0.55" />
<line x1="192.13" y1="36.40" x2="192.13" y2="41.60" stroke="#FF9C9C" stroke-width="0.55" />
<line x1="190.93" y1="36.40" x2="193.33" y2="36.40" stroke="#FF9C9C" stroke-width="0.55" />
<line x1="190.93" y1="41.60" x2="193.33" y2="41.60" stroke="#FF9C9C" stroke-width="0.55" />
<rect x="190.68" y="24.55" width="2.90" height="2.90" fill="#FFB0B0" stroke="none" stroke-width="1"/>
<circle cx="192.13" cy="34.40" r="1.45" fill="#FF5A5A" stroke="none" stroke-width="1"/>
<polygon points="192.13,35.58 193.65,38.05 190.61,38.05" fill="#FF1E1E" stroke="none" stroke-width="1"/>
<polygon points="192.13,37.42 193.65,34.95 190.61,34.95" fill="#F00000" stroke="none" stroke-width="1"/>
<polygon points="192.13,37.02 194.11,39.00 192.13,40.98 190.15,39.00" fill="#C40000" stroke="none" stroke-width="1"/>
<line x1="198.77" y1="19.40" x2="198.77" y2="24.60" stroke="#FF9C9C" stroke-width="0.55" />
<line x1="197.57" y1="19.40" x2="199.97" y2="19.40" stroke="#FF9C9C" stroke-width="0.55" />
<line x1="197.57" y1="24.60" x2="199.97" y2="24.60" stroke="#FF9C9C" stroke-width="0.55" />
<line x1="198.77" y1="32.40" x2="198.77" y2="37.60" stroke="#FF9C9C" stroke-width="0.55" />
<line x1="197.57" y1="32.40" x2="199.97" y2="32.40" stroke="#FF9C9C" stroke-width="0.55" />
<line x1="197.57" y1="37.60" x2="199.97" y2="37.60" stroke="#FF9C9C" stroke-width="0.55" />
<line x1="198.77" y1="31.40" x2="198.77" y2="36.60" stroke="#FF9C9C" stroke-width="0.55" />
<line x1="197.57" y1="31.40" x2="199.97" y2="31.40" stroke="#FF9C9C" stroke-width="0.55" />
<line x1="197.57" y1="36.60" x2="199.97" y2="36.60" stroke="#FF9C9C" stroke-width="0.55" />
<line x1="198.77" y1="29.40" x2="198.77" y2="34.60" stroke="#FF9C9C" stroke-width="0.55" />
<line x1="197.57" y1="29.40" x2="199.97" y2="29.40" stroke="#FF9C9C" stroke-width="0.55" />
<line x1="197.57" y1="34.60" x2="199.97" y2="34.60" stroke="#FF9C9C" stroke-width="0.55" />
<line x1="198.77" y1="32.40" x2="198.77" y2="37.60" stroke="#FF9C9C" stroke-width="0.55" />
<line x1="197.57" y1="32.40" x2="199.97" y2="32.40" stroke="#FF9C9C" stroke-width="0.55" />
<line x1="197.57" y1="37.60" x2="199.97" y2="37.60" stroke="#FF9C9C" stroke-width="0.55" />
<rect x="197.32" y="20.55" width="2.90" height="2.90" fill="#FFB0B0" stroke="none" stroke-width="1"/>
<circle cx="198.77" cy="35.00" r="1.45" fill="#FF5A5A" stroke="none" stroke-width="1"/>
<polygon points="198.77,32.58 200.30,35.05 197.25,35.05" fill="#FF1E1E" stroke="none" stroke-width="1"/>
<polygon points="198.77,33.42 200.30,30.95 197.25,30.95" fill="#F00000" stroke="none" stroke-width="1"/>
<polygon points="198.77,33.02 200.75,35.00 198.77,36.98 196.80,35.00" fill="#C40000" stroke="none" stroke-width="1"/>
<line x1="204.64" y1="19.40" x2="204.64" y2="24.60" stroke="#FF9C9C" stroke-width="0.55" />
<line x1="203.44" y1="19.40" x2="205.84" y2="19.40" stroke="#FF9C9C" stroke-width="0.55" />
<line x1="203.44" y1="24.60" x2="205.84" y2="24.60" stroke="#FF9C9C" stroke-width="0.55" />
<line x1="204.64" y1="30.40" x2="204.64" y2="35.60" stroke="#FF9C9C" stroke-width="0.55" />
<line x1="203.44" y1="30.40" x2="205.84" y2="30.40" stroke="#FF9C9C" stroke-width="0.55" />
<line x1="203.44" y1="35.60" x2="205.84" y2="35.60" stroke="#FF9C9C" stroke-width="0.55" />
<line x1="204.64" y1="30.40" x2="204.64" y2="35.60" stroke="#FF9C9C" stroke-width="0.55" />
<line x1="203.44" y1="30.40" x2="205.84" y2="30.40" stroke="#FF9C9C" stroke-width="0.55" />
<line x1="203.44" y1="35.60" x2="205.84" y2="35.60" stroke="#FF9C9C" stroke-width="0.55" />
<line x1="204.64" y1="29.40" x2="204.64" y2="34.60" stroke="#FF9C9C" stroke-width="0.55" />
<line x1="203.44" y1="29.40" x2="205.84" y2="29.40" stroke="#FF9C9C" stroke-width="0.55" />
<line x1="203.44" y1="34.60" x2="205.84" y2="34.60" stroke="#FF9C9C" stroke-width="0.55" />
<line x1="204.64" y1="30.40" x2="204.64" y2="35.60" stroke="#FF9C9C" stroke-width="0.55" />
<line x1="203.44" y1="30.40" x2="205.84" y2="30.40" stroke="#FF9C9C" stroke-width="0.55" />
<line x1="203.44" y1="35.60" x2="205.84" y2="35.60" stroke="#FF9C9C" stroke-width="0.55" />
<rect x="203.19" y="20.55" width="2.90" height="2.90" fill="#FFB0B0" stroke="none" stroke-width="1"/>
<circle cx="204.64" cy="33.00" r="1.45" fill="#FF5A5A" stroke="none" stroke-width="1"/>
<polygon points="204.64,31.58 206.16,34.05 203.11,34.05" fill="#FF1E1E" stroke="none" stroke-width="1"/>
<polygon points="204.64,33.42 206.16,30.95 203.11,30.95" fill="#F00000" stroke="none" stroke-width="1"/>
<polygon points="204.64,31.02 206.61,33.00 204.64,34.98 202.66,33.00" fill="#C40000" stroke="none" stroke-width="1"/>
<line x1="209.88" y1="17.40" x2="209.88" y2="22.60" stroke="#FF9C9C" stroke-width="0.55" />
<line x1="208.68" y1="17.40" x2="211.08" y2="17.40" stroke="#FF9C9C" stroke-width="0.55" />
<line x1="208.68" y1="22.60" x2="211.08" y2="22.60" stroke="#FF9C9C" stroke-width="0.55" />
<line x1="209.88" y1="28.70" x2="209.88" y2="33.90" stroke="#FF9C9C" stroke-width="0.55" />
<line x1="208.68" y1="28.70" x2="211.08" y2="28.70" stroke="#FF9C9C" stroke-width="0.55" />
<line x1="208.68" y1="33.90" x2="211.08" y2="33.90" stroke="#FF9C9C" stroke-width="0.55" />
<line x1="209.88" y1="28.40" x2="209.88" y2="33.60" stroke="#FF9C9C" stroke-width="0.55" />
<line x1="208.68" y1="28.40" x2="211.08" y2="28.40" stroke="#FF9C9C" stroke-width="0.55" />
<line x1="208.68" y1="33.60" x2="211.08" y2="33.60" stroke="#FF9C9C" stroke-width="0.55" />
<line x1="209.88" y1="27.40" x2="209.88" y2="32.60" stroke="#FF9C9C" stroke-width="0.55" />
<line x1="208.68" y1="27.40" x2="211.08" y2="27.40" stroke="#FF9C9C" stroke-width="0.55" />
<line x1="208.68" y1="32.60" x2="211.08" y2="32.60" stroke="#FF9C9C" stroke-width="0.55" />
<line x1="209.88" y1="28.70" x2="209.88" y2="33.90" stroke="#FF9C9C" stroke-width="0.55" />
<line x1="208.68" y1="28.70" x2="211.08" y2="28.70" stroke="#FF9C9C" stroke-width="0.55" />
<line x1="208.68" y1="33.90" x2="211.08" y2="33.90" stroke="#FF9C9C" stroke-width="0.55" />
<rect x="208.43" y="18.55" width="2.90" height="2.90" fill="#FFB0B0" stroke="none" stroke-width="1"/>
<circle cx="209.88" cy="31.30" r="1.45" fill="#FF5A5A" stroke="none" stroke-width="1"/>
<polygon points="209.88,29.58 211.40,32.05 208.36,32.05" fill="#FF1E1E" stroke="none" stroke-width="1"/>
<polygon points="209.88,31.42 211.40,28.95 208.36,28.95" fill="#F00000" stroke="none" stroke-width="1"/>
<polygon points="209.88,29.32 211.86,31.30 209.88,33.28 207.90,31.30" fill="#C40000" stroke="none" stroke-width="1"/>
<line x1="214.62" y1="14.80" x2="214.62" y2="20.00" stroke="#FF9C9C" stroke-width="0.55" />
<line x1="213.42" y1="14.80" x2="215.82" y2="14.80" stroke="#FF9C9C" stroke-width="0.55" />
<line x1="213.42" y1="20.00" x2="215.82" y2="20.00" stroke="#FF9C9C" stroke-width="0.55" />
<line x1="214.62" y1="28.40" x2="214.62" y2="33.60" stroke="#FF9C9C" stroke-width="0.55" />
<line x1="213.42" y1="28.40" x2="215.82" y2="28.40" stroke="#FF9C9C" stroke-width="0.55" />
<line x1="213.42" y1="33.60" x2="215.82" y2="33.60" stroke="#FF9C9C" stroke-width="0.55" />
<line x1="214.62" y1="26.40" x2="214.62" y2="31.60" stroke="#FF9C9C" stroke-width="0.55" />
<line x1="213.42" y1="26.40" x2="215.82" y2="26.40" stroke="#FF9C9C" stroke-width="0.55" />
<line x1="213.42" y1="31.60" x2="215.82" y2="31.60" stroke="#FF9C9C" stroke-width="0.55" />
<line x1="214.62" y1="26.40" x2="214.62" y2="31.60" stroke="#FF9C9C" stroke-width="0.55" />
<line x1="213.42" y1="26.40" x2="215.82" y2="26.40" stroke="#FF9C9C" stroke-width="0.55" />
<line x1="213.42" y1="31.60" x2="215.82" y2="31.60" stroke="#FF9C9C" stroke-width="0.55" />
<line x1="214.62" y1="28.40" x2="214.62" y2="33.60" stroke="#FF9C9C" stroke-width="0.55" />
<line x1="213.42" y1="28.40" x2="215.82" y2="28.40" stroke="#FF9C9C" stroke-width="0.55" />
<line x1="213.42" y1="33.60" x2="215.82" y2="33.60" stroke="#FF9C9C" stroke-width="0.55" />
<rect x="213.17" y="15.95" width="2.90" height="2.90" fill="#FFB0B0" stroke="none" stroke-width="1"/>
<circle cx="214.62" cy="31.00" r="1.45" fill="#FF5A5A" stroke="none" stroke-width="1"/>
<polygon points="214.62,27.58 216.15,30.05 213.10,30.05" fill="#FF1E1E" stroke="none" stroke-width="1"/>
<polygon points="214.62,30.42 216.15,27.95 213.10,27.95" fill="#F00000" stroke="none" stroke-width="1"/>
<polygon points="214.62,29.02 216.60,31.00 214.62,32.98 212.65,31.00" fill="#C40000" stroke="none" stroke-width="1"/>
<line x1="218.95" y1="17.40" x2="218.95" y2="22.60" stroke="#FF9C9C" stroke-width="0.55" />
<line x1="217.75" y1="17.40" x2="220.15" y2="17.40" stroke="#FF9C9C" stroke-width="0.55" />
<line x1="217.75" y1="22.60" x2="220.15" y2="22.60" stroke="#FF9C9C" stroke-width="0.55" />
<line x1="218.95" y1="25.40" x2="218.95" y2="30.60" stroke="#FF9C9C" stroke-width="0.55" />
<line x1="217.75" y1="25.40" x2="220.15" y2="25.40" stroke="#FF9C9C" stroke-width="0.55" />
<line x1="217.75" y1="30.60" x2="220.15" y2="30.60" stroke="#FF9C9C" stroke-width="0.55" />
<line x1="218.95" y1="24.40" x2="218.95" y2="29.60" stroke="#FF9C9C" stroke-width="0.55" />
<line x1="217.75" y1="24.40" x2="220.15" y2="24.40" stroke="#FF9C9C" stroke-width="0.55" />
<line x1="217.75" y1="29.60" x2="220.15" y2="29.60" stroke="#FF9C9C" stroke-width="0.55" />
<line x1="218.95" y1="23.40" x2="218.95" y2="28.60" stroke="#FF9C9C" stroke-width="0.55" />
<line x1="217.75" y1="23.40" x2="220.15" y2="23.40" stroke="#FF9C9C" stroke-width="0.55" />
<line x1="217.75" y1="28.60" x2="220.15" y2="28.60" stroke="#FF9C9C" stroke-width="0.55" />
<line x1="218.95" y1="25.40" x2="218.95" y2="30.60" stroke="#FF9C9C" stroke-width="0.55" />
<line x1="217.75" y1="25.40" x2="220.15" y2="25.40" stroke="#FF9C9C" stroke-width="0.55" />
<line x1="217.75" y1="30.60" x2="220.15" y2="30.60" stroke="#FF9C9C" stroke-width="0.55" />
<rect x="217.50" y="18.55" width="2.90" height="2.90" fill="#FFB0B0" stroke="none" stroke-width="1"/>
<circle cx="218.95" cy="28.00" r="1.45" fill="#FF5A5A" stroke="none" stroke-width="1"/>
<polygon points="218.95,25.58 220.48,28.05 217.43,28.05" fill="#FF1E1E" stroke="none" stroke-width="1"/>
<polygon points="218.95,27.42 220.48,24.95 217.43,24.95" fill="#F00000" stroke="none" stroke-width="1"/>
<polygon points="218.95,26.02 220.93,28.00 218.95,29.98 216.98,28.00" fill="#C40000" stroke="none" stroke-width="1"/>
<line x1="222.94" y1="16.40" x2="222.94" y2="21.60" stroke="#FF9C9C" stroke-width="0.55" />
<line x1="221.74" y1="16.40" x2="224.14" y2="16.40" stroke="#FF9C9C" stroke-width="0.55" />
<line x1="221.74" y1="21.60" x2="224.14" y2="21.60" stroke="#FF9C9C" stroke-width="0.55" />
<line x1="222.94" y1="25.40" x2="222.94" y2="30.60" stroke="#FF9C9C" stroke-width="0.55" />
<line x1="221.74" y1="25.40" x2="224.14" y2="25.40" stroke="#FF9C9C" stroke-width="0.55" />
<line x1="221.74" y1="30.60" x2="224.14" y2="30.60" stroke="#FF9C9C" stroke-width="0.55" />
<line x1="222.94" y1="23.40" x2="222.94" y2="28.60" stroke="#FF9C9C" stroke-width="0.55" />
<line x1="221.74" y1="23.40" x2="224.14" y2="23.40" stroke="#FF9C9C" stroke-width="0.55" />
<line x1="221.74" y1="28.60" x2="224.14" y2="28.60" stroke="#FF9C9C" stroke-width="0.55" />
<line x1="222.94" y1="21.40" x2="222.94" y2="26.60" stroke="#FF9C9C" stroke-width="0.55" />
<line x1="221.74" y1="21.40" x2="224.14" y2="21.40" stroke="#FF9C9C" stroke-width="0.55" />
<line x1="221.74" y1="26.60" x2="224.14" y2="26.60" stroke="#FF9C9C" stroke-width="0.55" />
<line x1="222.94" y1="28.40" x2="222.94" y2="33.60" stroke="#FF9C9C" stroke-width="0.55" />
<line x1="221.74" y1="28.40" x2="224.14" y2="28.40" stroke="#FF9C9C" stroke-width="0.55" />
<line x1="221.74" y1="33.60" x2="224.14" y2="33.60" stroke="#FF9C9C" stroke-width="0.55" />
<rect x="221.49" y="17.55" width="2.90" height="2.90" fill="#FFB0B0" stroke="none" stroke-width="1"/>
<circle cx="222.94" cy="28.00" r="1.45" fill="#FF5A5A" stroke="none" stroke-width="1"/>
<polygon points="222.94,24.58 224.46,27.05 221.42,27.05" fill="#FF1E1E" stroke="none" stroke-width="1"/>
<polygon points="222.94,25.42 224.46,22.95 221.42,22.95" fill="#F00000" stroke="none" stroke-width="1"/>
<polygon points="222.94,29.02 224.92,31.00 222.94,32.98 220.96,31.00" fill="#C40000" stroke="none" stroke-width="1"/>
<line x1="226.63" y1="15.40" x2="226.63" y2="20.60" stroke="#FF9C9C" stroke-width="0.55" />
<line x1="225.43" y1="15.40" x2="227.83" y2="15.40" stroke="#FF9C9C" stroke-width="0.55" />
<line x1="225.43" y1="20.60" x2="227.83" y2="20.60" stroke="#FF9C9C" stroke-width="0.55" />
<line x1="226.63" y1="26.00" x2="226.63" y2="31.20" stroke="#FF9C9C" stroke-width="0.55" />
<line x1="225.43" y1="26.00" x2="227.83" y2="26.00" stroke="#FF9C9C" stroke-width="0.55" />
<line x1="225.43" y1="31.20" x2="227.83" y2="31.20" stroke="#FF9C9C" stroke-width="0.55" />
<line x1="226.63" y1="24.40" x2="226.63" y2="29.60" stroke="#FF9C9C" stroke-width="0.55" />
<line x1="225.43" y1="24.40" x2="227.83" y2="24.40" stroke="#FF9C9C" stroke-width="0.55" />
<line x1="225.43" y1="29.60" x2="227.83" y2="29.60" stroke="#FF9C9C" stroke-width="0.55" />
<line x1="226.63" y1="22.40" x2="226.63" y2="27.60" stroke="#FF9C9C" stroke-width="0.55" />
<line x1="225.43" y1="22.40" x2="227.83" y2="22.40" stroke="#FF9C9C" stroke-width="0.55" />
<line x1="225.43" y1="27.60" x2="227.83" y2="27.60" stroke="#FF9C9C" stroke-width="0.55" />
<line x1="226.63" y1="26.00" x2="226.63" y2="31.20" stroke="#FF9C9C" stroke-width="0.55" />
<line x1="225.43" y1="26.00" x2="227.83" y2="26.00" stroke="#FF9C9C" stroke-width="0.55" />
<line x1="225.43" y1="31.20" x2="227.83" y2="31.20" stroke="#FF9C9C" stroke-width="0.55" />
<rect x="225.18" y="16.55" width="2.90" height="2.90" fill="#FFB0B0" stroke="none" stroke-width="1"/>
<circle cx="226.63" cy="28.60" r="1.45" fill="#FF5A5A" stroke="none" stroke-width="1"/>
<polygon points="226.63,25.58 228.15,28.05 225.10,28.05" fill="#FF1E1E" stroke="none" stroke-width="1"/>
<polygon points="226.63,26.42 228.15,23.95 225.10,23.95" fill="#F00000" stroke="none" stroke-width="1"/>
<polygon points="226.63,26.62 228.60,28.60 226.63,30.58 224.65,28.60" fill="#C40000" stroke="none" stroke-width="1"/>
<line x1="230.06" y1="11.80" x2="230.06" y2="17.00" stroke="#FF9C9C" stroke-width="0.55" />
<line x1="228.86" y1="11.80" x2="231.26" y2="11.80" stroke="#FF9C9C" stroke-width="0.55" />
<line x1="228.86" y1="17.00" x2="231.26" y2="17.00" stroke="#FF9C9C" stroke-width="0.55" />
<line x1="230.06" y1="25.40" x2="230.06" y2="30.60" stroke="#FF9C9C" stroke-width="0.55" />
<line x1="228.86" y1="25.40" x2="231.26" y2="25.40" stroke="#FF9C9C" stroke-width="0.55" />
<line x1="228.86" y1="30.60" x2="231.26" y2="30.60" stroke="#FF9C9C" stroke-width="0.55" />
<line x1="230.06" y1="23.40" x2="230.06" y2="28.60" stroke="#FF9C9C" stroke-width="0.55" />
<line x1="228.86" y1="23.40" x2="231.26" y2="23.40" stroke="#FF9C9C" stroke-width="0.55" />
<line x1="228.86" y1="28.60" x2="231.26" y2="28.60" stroke="#FF9C9C" stroke-width="0.55" />
<line x1="230.06" y1="22.40" x2="230.06" y2="27.60" stroke="#FF9C9C" stroke-width="0.55" />
<line x1="228.86" y1="22.40" x2="231.26" y2="22.40" stroke="#FF9C9C" stroke-width="0.55" />
<line x1="228.86" y1="27.60" x2="231.26" y2="27.60" stroke="#FF9C9C" stroke-width="0.55" />
<line x1="230.06" y1="25.40" x2="230.06" y2="30.60" stroke="#FF9C9C" stroke-width="0.55" />
<line x1="228.86" y1="25.40" x2="231.26" y2="25.40" stroke="#FF9C9C" stroke-width="0.55" />
<line x1="228.86" y1="30.60" x2="231.26" y2="30.60" stroke="#FF9C9C" stroke-width="0.55" />
<rect x="228.61" y="12.95" width="2.90" height="2.90" fill="#FFB0B0" stroke="none" stroke-width="1"/>
<circle cx="230.06" cy="28.00" r="1.45" fill="#FF5A5A" stroke="none" stroke-width="1"/>
<polygon points="230.06,24.58 231.58,27.05 228.54,27.05" fill="#FF1E1E" stroke="none" stroke-width="1"/>
<polygon points="230.06,26.42 231.58,23.95 228.54,23.95" fill="#F00000" stroke="none" stroke-width="1"/>
<polygon points="230.06,26.02 232.04,28.00 230.06,29.98 228.08,28.00" fill="#C40000" stroke="none" stroke-width="1"/>
<line x1="233.27" y1="19.40" x2="233.27" y2="24.60" stroke="#FF9C9C" stroke-width="0.55" />
<line x1="232.07" y1="19.40" x2="234.47" y2="19.40" stroke="#FF9C9C" stroke-width="0.55" />
<line x1="232.07" y1="24.60" x2="234.47" y2="24.60" stroke="#FF9C9C" stroke-width="0.55" />
<line x1="233.27" y1="25.40" x2="233.27" y2="30.60" stroke="#FF9C9C" stroke-width="0.55" />
<line x1="232.07" y1="25.40" x2="234.47" y2="25.40" stroke="#FF9C9C" stroke-width="0.55" />
<line x1="232.07" y1="30.60" x2="234.47" y2="30.60" stroke="#FF9C9C" stroke-width="0.55" />
<line x1="233.27" y1="21.40" x2="233.27" y2="26.60" stroke="#FF9C9C" stroke-width="0.55" />
<line x1="232.07" y1="21.40" x2="234.47" y2="21.40" stroke="#FF9C9C" stroke-width="0.55" />
<line x1="232.07" y1="26.60" x2="234.47" y2="26.60" stroke="#FF9C9C" stroke-width="0.55" />
<line x1="233.27" y1="23.40" x2="233.27" y2="28.60" stroke="#FF9C9C" stroke-width="0.55" />
<line x1="232.07" y1="23.40" x2="234.47" y2="23.40" stroke="#FF9C9C" stroke-width="0.55" />
<line x1="232.07" y1="28.60" x2="234.47" y2="28.60" stroke="#FF9C9C" stroke-width="0.55" />
<line x1="233.27" y1="25.40" x2="233.27" y2="30.60" stroke="#FF9C9C" stroke-width="0.55" />
<line x1="232.07" y1="25.40" x2="234.47" y2="25.40" stroke="#FF9C9C" stroke-width="0.55" />
<line x1="232.07" y1="30.60" x2="234.47" y2="30.60" stroke="#FF9C9C" stroke-width="0.55" />
<rect x="231.82" y="20.55" width="2.90" height="2.90" fill="#FFB0B0" stroke="none" stroke-width="1"/>
<circle cx="233.27" cy="28.00" r="1.45" fill="#FF5A5A" stroke="none" stroke-width="1"/>
<polygon points="233.27,22.58 234.80,25.05 231.75,25.05" fill="#FF1E1E" stroke="none" stroke-width="1"/>
<polygon points="233.27,27.42 234.80,24.95 231.75,24.95" fill="#F00000" stroke="none" stroke-width="1"/>
<polygon points="233.27,26.02 235.25,28.00 233.27,29.98 231.29,28.00" fill="#C40000" stroke="none" stroke-width="1"/>
<line x1="236.29" y1="14.40" x2="236.29" y2="19.60" stroke="#FF9C9C" stroke-width="0.55" />
<line x1="235.09" y1="14.40" x2="237.49" y2="14.40" stroke="#FF9C9C" stroke-width="0.55" />
<line x1="235.09" y1="19.60" x2="237.49" y2="19.60" stroke="#FF9C9C" stroke-width="0.55" />
<line x1="236.29" y1="27.80" x2="236.29" y2="33.00" stroke="#FF9C9C" stroke-width="0.55" />
<line x1="235.09" y1="27.80" x2="237.49" y2="27.80" stroke="#FF9C9C" stroke-width="0.55" />
<line x1="235.09" y1="33.00" x2="237.49" y2="33.00" stroke="#FF9C9C" stroke-width="0.55" />
<line x1="236.29" y1="24.40" x2="236.29" y2="29.60" stroke="#FF9C9C" stroke-width="0.55" />
<line x1="235.09" y1="24.40" x2="237.49" y2="24.40" stroke="#FF9C9C" stroke-width="0.55" />
<line x1="235.09" y1="29.60" x2="237.49" y2="29.60" stroke="#FF9C9C" stroke-width="0.55" />
<line x1="236.29" y1="23.40" x2="236.29" y2="28.60" stroke="#FF9C9C" stroke-width="0.55" />
<line x1="235.09" y1="23.40" x2="237.49" y2="23.40" stroke="#FF9C9C" stroke-width="0.55" />
<line x1="235.09" y1="28.60" x2="237.49" y2="28.60" stroke="#FF9C9C" stroke-width="0.55" />
<line x1="236.29" y1="27.80" x2="236.29" y2="33.00" stroke="#FF9C9C" stroke-width="0.55" />
<line x1="235.09" y1="27.80" x2="237.49" y2="27.80" stroke="#FF9C9C" stroke-width="0.55" />
<line x1="235.09" y1="33.00" x2="237.49" y2="33.00" stroke="#FF9C9C" stroke-width="0.55" />
<rect x="234.84" y="15.55" width="2.90" height="2.90" fill="#FFB0B0" stroke="none" stroke-width="1"/>
<circle cx="236.29" cy="30.40" r="1.45" fill="#FF5A5A" stroke="none" stroke-width="1"/>
<polygon points="236.29,25.58 237.81,28.05 234.77,28.05" fill="#FF1E1E" stroke="none" stroke-width="1"/>
<polygon points="236.29,27.42 237.81,24.95 234.77,24.95" fill="#F00000" stroke="none" stroke-width="1"/>
<polygon points="236.29,28.42 238.27,30.40 236.29,32.38 234.31,30.40" fill="#C40000" stroke="none" stroke-width="1"/>
<line x1="239.13" y1="11.40" x2="239.13" y2="16.60" stroke="#FF9C9C" stroke-width="0.55" />
<line x1="237.93" y1="11.40" x2="240.33" y2="11.40" stroke="#FF9C9C" stroke-width="0.55" />
<line x1="237.93" y1="16.60" x2="240.33" y2="16.60" stroke="#FF9C9C" stroke-width="0.55" />
<line x1="239.13" y1="22.40" x2="239.13" y2="27.60" stroke="#FF9C9C" stroke-width="0.55" />
<line x1="237.93" y1="22.40" x2="240.33" y2="22.40" stroke="#FF9C9C" stroke-width="0.55" />
<line x1="237.93" y1="27.60" x2="240.33" y2="27.60" stroke="#FF9C9C" stroke-width="0.55" />
<line x1="239.13" y1="20.40" x2="239.13" y2="25.60" stroke="#FF9C9C" stroke-width="0.55" />
<line x1="237.93" y1="20.40" x2="240.33" y2="20.40" stroke="#FF9C9C" stroke-width="0.55" />
<line x1="237.93" y1="25.60" x2="240.33" y2="25.60" stroke="#FF9C9C" stroke-width="0.55" />
<line x1="239.13" y1="19.40" x2="239.13" y2="24.60" stroke="#FF9C9C" stroke-width="0.55" />
<line x1="237.93" y1="19.40" x2="240.33" y2="19.40" stroke="#FF9C9C" stroke-width="0.55" />
<line x1="237.93" y1="24.60" x2="240.33" y2="24.60" stroke="#FF9C9C" stroke-width="0.55" />
<line x1="239.13" y1="22.40" x2="239.13" y2="27.60" stroke="#FF9C9C" stroke-width="0.55" />
<line x1="237.93" y1="22.40" x2="240.33" y2="22.40" stroke="#FF9C9C" stroke-width="0.55" />
<line x1="237.93" y1="27.60" x2="240.33" y2="27.60" stroke="#FF9C9C" stroke-width="0.55" />
<rect x="237.68" y="12.55" width="2.90" height="2.90" fill="#FFB0B0" stroke="none" stroke-width="1"/>
<circle cx="239.13" cy="25.00" r="1.45" fill="#FF5A5A" stroke="none" stroke-width="1"/>
<polygon points="239.13,21.58 240.66,24.05 237.61,24.05" fill="#FF1E1E" stroke="none" stroke-width="1"/>
<polygon points="239.13,23.42 240.66,20.95 237.61,20.95" fill="#F00000" stroke="none" stroke-width="1"/>
<polygon points="239.13,23.02 241.11,25.00 239.13,26.98 237.16,25.00" fill="#C40000" stroke="none" stroke-width="1"/>
</g>
<rect x="346.5" y="0.5" width="93.5" height="76.5" fill="#fff"/>
<line x1="346.50" y1="0.00" x2="346.50" y2="77.50" stroke="#555" stroke-width="1" />
<line x1="346.50" y1="77.50" x2="440.00" y2="77.50" stroke="#555" stroke-width="1" />
<line x1="439.40" y1="0.00" x2="439.40" y2="77.50" stroke="#555" stroke-width="1" />
<line x1="346.50" y1="76.97" x2="345.20" y2="76.97" stroke="#555" stroke-width="0.7" />
<line x1="346.50" y1="65.49" x2="343.90" y2="65.49" stroke="#555" stroke-width="0.7" />
<line x1="346.50" y1="57.35" x2="345.20" y2="57.35" stroke="#555" stroke-width="0.7" />
<line x1="346.50" y1="51.03" x2="345.20" y2="51.03" stroke="#555" stroke-width="0.7" />
<line x1="346.50" y1="45.86" x2="345.20" y2="45.86" stroke="#555" stroke-width="0.7" />
<line x1="346.50" y1="41.50" x2="345.20" y2="41.50" stroke="#555" stroke-width="0.7" />
<line x1="346.50" y1="37.72" x2="345.20" y2="37.72" stroke="#555" stroke-width="0.7" />
<line x1="346.50" y1="34.38" x2="345.20" y2="34.38" stroke="#555" stroke-width="0.7" />
<line x1="346.50" y1="31.40" x2="343.90" y2="31.40" stroke="#555" stroke-width="0.7" />
<line x1="346.50" y1="11.77" x2="345.20" y2="11.77" stroke="#555" stroke-width="0.7" />
<line x1="346.50" y1="0.29" x2="345.20" y2="0.29" stroke="#555" stroke-width="0.7" />
<line x1="346.50" y1="77.50" x2="346.50" y2="79.70" stroke="#555" stroke-width="0.8" />
<line x1="351.04" y1="77.50" x2="351.04" y2="78.70" stroke="#555" stroke-width="0.8" />
<line x1="355.18" y1="77.50" x2="355.18" y2="78.70" stroke="#555" stroke-width="0.8" />
<line x1="358.99" y1="77.50" x2="358.99" y2="78.70" stroke="#555" stroke-width="0.8" />
<line x1="362.52" y1="77.50" x2="362.52" y2="78.70" stroke="#555" stroke-width="0.8" />
<line x1="365.80" y1="77.50" x2="365.80" y2="78.70" stroke="#555" stroke-width="0.8" />
<line x1="368.87" y1="77.50" x2="368.87" y2="78.70" stroke="#555" stroke-width="0.8" />
<line x1="371.76" y1="77.50" x2="371.76" y2="78.70" stroke="#555" stroke-width="0.8" />
<line x1="374.48" y1="77.50" x2="374.48" y2="78.70" stroke="#555" stroke-width="0.8" />
<line x1="377.05" y1="77.50" x2="377.05" y2="78.70" stroke="#555" stroke-width="0.8" />
<line x1="379.49" y1="77.50" x2="379.49" y2="79.70" stroke="#555" stroke-width="0.8" />
<line x1="381.82" y1="77.50" x2="381.82" y2="78.70" stroke="#555" stroke-width="0.8" />
<line x1="384.03" y1="77.50" x2="384.03" y2="78.70" stroke="#555" stroke-width="0.8" />
<line x1="386.15" y1="77.50" x2="386.15" y2="78.70" stroke="#555" stroke-width="0.8" />
<line x1="388.17" y1="77.50" x2="388.17" y2="78.70" stroke="#555" stroke-width="0.8" />
<line x1="390.11" y1="77.50" x2="390.11" y2="78.70" stroke="#555" stroke-width="0.8" />
<line x1="391.98" y1="77.50" x2="391.98" y2="78.70" stroke="#555" stroke-width="0.8" />
<line x1="393.78" y1="77.50" x2="393.78" y2="78.70" stroke="#555" stroke-width="0.8" />
<line x1="395.51" y1="77.50" x2="395.51" y2="78.70" stroke="#555" stroke-width="0.8" />
<line x1="397.18" y1="77.50" x2="397.18" y2="78.70" stroke="#555" stroke-width="0.8" />
<line x1="398.79" y1="77.50" x2="398.79" y2="79.70" stroke="#555" stroke-width="0.8" />
<line x1="400.35" y1="77.50" x2="400.35" y2="78.70" stroke="#555" stroke-width="0.8" />
<line x1="401.86" y1="77.50" x2="401.86" y2="78.70" stroke="#555" stroke-width="0.8" />
<line x1="403.33" y1="77.50" x2="403.33" y2="78.70" stroke="#555" stroke-width="0.8" />
<line x1="404.75" y1="77.50" x2="404.75" y2="78.70" stroke="#555" stroke-width="0.8" />
<line x1="406.13" y1="77.50" x2="406.13" y2="78.70" stroke="#555" stroke-width="0.8" />
<line x1="407.47" y1="77.50" x2="407.47" y2="78.70" stroke="#555" stroke-width="0.8" />
<line x1="408.77" y1="77.50" x2="408.77" y2="78.70" stroke="#555" stroke-width="0.8" />
<line x1="410.04" y1="77.50" x2="410.04" y2="78.70" stroke="#555" stroke-width="0.8" />
<line x1="411.28" y1="77.50" x2="411.28" y2="78.70" stroke="#555" stroke-width="0.8" />
<line x1="412.49" y1="77.50" x2="412.49" y2="79.70" stroke="#555" stroke-width="0.8" />
<line x1="413.66" y1="77.50" x2="413.66" y2="78.70" stroke="#555" stroke-width="0.8" />
<line x1="414.81" y1="77.50" x2="414.81" y2="78.70" stroke="#555" stroke-width="0.8" />
<line x1="415.93" y1="77.50" x2="415.93" y2="78.70" stroke="#555" stroke-width="0.8" />
<line x1="417.02" y1="77.50" x2="417.02" y2="78.70" stroke="#555" stroke-width="0.8" />
<line x1="418.09" y1="77.50" x2="418.09" y2="78.70" stroke="#555" stroke-width="0.8" />
<line x1="419.14" y1="77.50" x2="419.14" y2="78.70" stroke="#555" stroke-width="0.8" />
<line x1="420.16" y1="77.50" x2="420.16" y2="78.70" stroke="#555" stroke-width="0.8" />
<line x1="421.16" y1="77.50" x2="421.16" y2="78.70" stroke="#555" stroke-width="0.8" />
<line x1="422.15" y1="77.50" x2="422.15" y2="78.70" stroke="#555" stroke-width="0.8" />
<line x1="423.11" y1="77.50" x2="423.11" y2="79.70" stroke="#555" stroke-width="0.8" />
<line x1="424.05" y1="77.50" x2="424.05" y2="78.70" stroke="#555" stroke-width="0.8" />
<line x1="424.97" y1="77.50" x2="424.97" y2="78.70" stroke="#555" stroke-width="0.8" />
<line x1="425.88" y1="77.50" x2="425.88" y2="78.70" stroke="#555" stroke-width="0.8" />
<line x1="426.77" y1="77.50" x2="426.77" y2="78.70" stroke="#555" stroke-width="0.8" />
<line x1="427.64" y1="77.50" x2="427.64" y2="78.70" stroke="#555" stroke-width="0.8" />
<line x1="428.50" y1="77.50" x2="428.50" y2="78.70" stroke="#555" stroke-width="0.8" />
<line x1="429.34" y1="77.50" x2="429.34" y2="78.70" stroke="#555" stroke-width="0.8" />
<line x1="430.17" y1="77.50" x2="430.17" y2="78.70" stroke="#555" stroke-width="0.8" />
<line x1="430.99" y1="77.50" x2="430.99" y2="78.70" stroke="#555" stroke-width="0.8" />
<line x1="431.79" y1="77.50" x2="431.79" y2="79.70" stroke="#555" stroke-width="0.8" />
<line x1="432.57" y1="77.50" x2="432.57" y2="78.70" stroke="#555" stroke-width="0.8" />
<line x1="433.35" y1="77.50" x2="433.35" y2="78.70" stroke="#555" stroke-width="0.8" />
<line x1="434.11" y1="77.50" x2="434.11" y2="78.70" stroke="#555" stroke-width="0.8" />
<line x1="434.86" y1="77.50" x2="434.86" y2="78.70" stroke="#555" stroke-width="0.8" />
<line x1="435.60" y1="77.50" x2="435.60" y2="78.70" stroke="#555" stroke-width="0.8" />
<line x1="436.32" y1="77.50" x2="436.32" y2="78.70" stroke="#555" stroke-width="0.8" />
<line x1="437.04" y1="77.50" x2="437.04" y2="78.70" stroke="#555" stroke-width="0.8" />
<line x1="437.74" y1="77.50" x2="437.74" y2="78.70" stroke="#555" stroke-width="0.8" />
<line x1="438.44" y1="77.50" x2="438.44" y2="78.70" stroke="#555" stroke-width="0.8" />
<line x1="439.12" y1="77.50" x2="439.12" y2="79.70" stroke="#555" stroke-width="0.8" />
<text x="344.20" y="68.29" font-size="7.4" text-anchor="end" font-weight="normal" fill="#222" >30</text>
<text x="344.20" y="34.20" font-size="7.4" text-anchor="end" font-weight="normal" fill="#222" >100</text>
<text x="379.49" y="85.00" font-size="7.0" text-anchor="middle" font-weight="normal" fill="#222" >2</text>
<text x="398.79" y="85.00" font-size="7.0" text-anchor="middle" font-weight="normal" fill="#222" >3</text>
<text x="412.49" y="85.00" font-size="7.0" text-anchor="middle" font-weight="normal" fill="#222" >4</text>
<text x="423.11" y="85.00" font-size="7.0" text-anchor="middle" font-weight="normal" fill="#222" >5</text>
<text x="431.79" y="85.00" font-size="7.0" text-anchor="middle" font-weight="normal" fill="#222" >6</text>
<g clip-path="url(#ci2)">
<line x1="352.49" y1="17.10" x2="352.49" y2="26.10" stroke="#F090F0" stroke-width="0.55" />
<line x1="351.29" y1="17.10" x2="353.69" y2="17.10" stroke="#F090F0" stroke-width="0.55" />
<line x1="351.29" y1="26.10" x2="353.69" y2="26.10" stroke="#F090F0" stroke-width="0.55" />
<line x1="352.49" y1="59.10" x2="352.49" y2="68.10" stroke="#F090F0" stroke-width="0.55" />
<line x1="351.29" y1="59.10" x2="353.69" y2="59.10" stroke="#F090F0" stroke-width="0.55" />
<line x1="351.29" y1="68.10" x2="353.69" y2="68.10" stroke="#F090F0" stroke-width="0.55" />
<line x1="352.49" y1="31.50" x2="352.49" y2="40.50" stroke="#F090F0" stroke-width="0.55" />
<line x1="351.29" y1="31.50" x2="353.69" y2="31.50" stroke="#F090F0" stroke-width="0.55" />
<line x1="351.29" y1="40.50" x2="353.69" y2="40.50" stroke="#F090F0" stroke-width="0.55" />
<line x1="352.49" y1="43.50" x2="352.49" y2="52.50" stroke="#F090F0" stroke-width="0.55" />
<line x1="351.29" y1="43.50" x2="353.69" y2="43.50" stroke="#F090F0" stroke-width="0.55" />
<line x1="351.29" y1="52.50" x2="353.69" y2="52.50" stroke="#F090F0" stroke-width="0.55" />
<line x1="352.49" y1="-1.50" x2="352.49" y2="7.50" stroke="#F090F0" stroke-width="0.55" />
<line x1="351.29" y1="-1.50" x2="353.69" y2="-1.50" stroke="#F090F0" stroke-width="0.55" />
<line x1="351.29" y1="7.50" x2="353.69" y2="7.50" stroke="#F090F0" stroke-width="0.55" />
<rect x="351.04" y="20.15" width="2.90" height="2.90" fill="#F5B0F5" stroke="none" stroke-width="1"/>
<circle cx="352.49" cy="63.60" r="1.45" fill="#FF5AFF" stroke="none" stroke-width="1"/>
<polygon points="352.49,34.58 354.01,37.05 350.96,37.05" fill="#FF1EFF" stroke="none" stroke-width="1"/>
<polygon points="352.49,49.42 354.01,46.95 350.96,46.95" fill="#F000F0" stroke="none" stroke-width="1"/>
<polygon points="352.49,1.02 354.46,3.00 352.49,4.98 350.51,3.00" fill="#C400C4" stroke="none" stroke-width="1"/>
<line x1="366.18" y1="21.10" x2="366.18" y2="30.10" stroke="#F090F0" stroke-width="0.55" />
<line x1="364.98" y1="21.10" x2="367.38" y2="21.10" stroke="#F090F0" stroke-width="0.55" />
<line x1="364.98" y1="30.10" x2="367.38" y2="30.10" stroke="#F090F0" stroke-width="0.55" />
<line x1="366.18" y1="54.50" x2="366.18" y2="63.50" stroke="#F090F0" stroke-width="0.55" />
<line x1="364.98" y1="54.50" x2="367.38" y2="54.50" stroke="#F090F0" stroke-width="0.55" />
<line x1="364.98" y1="63.50" x2="367.38" y2="63.50" stroke="#F090F0" stroke-width="0.55" />
<line x1="366.18" y1="57.50" x2="366.18" y2="66.50" stroke="#F090F0" stroke-width="0.55" />
<line x1="364.98" y1="57.50" x2="367.38" y2="57.50" stroke="#F090F0" stroke-width="0.55" />
<line x1="364.98" y1="66.50" x2="367.38" y2="66.50" stroke="#F090F0" stroke-width="0.55" />
<line x1="366.18" y1="48.90" x2="366.18" y2="57.90" stroke="#F090F0" stroke-width="0.55" />
<line x1="364.98" y1="48.90" x2="367.38" y2="48.90" stroke="#F090F0" stroke-width="0.55" />
<line x1="364.98" y1="57.90" x2="367.38" y2="57.90" stroke="#F090F0" stroke-width="0.55" />
<line x1="366.18" y1="14.90" x2="366.18" y2="23.90" stroke="#F090F0" stroke-width="0.55" />
<line x1="364.98" y1="14.90" x2="367.38" y2="14.90" stroke="#F090F0" stroke-width="0.55" />
<line x1="364.98" y1="23.90" x2="367.38" y2="23.90" stroke="#F090F0" stroke-width="0.55" />
<rect x="364.73" y="24.15" width="2.90" height="2.90" fill="#F5B0F5" stroke="none" stroke-width="1"/>
<circle cx="366.18" cy="59.00" r="1.45" fill="#FF5AFF" stroke="none" stroke-width="1"/>
<polygon points="366.18,60.58 367.70,63.05 364.66,63.05" fill="#FF1EFF" stroke="none" stroke-width="1"/>
<polygon points="366.18,54.82 367.70,52.35 364.66,52.35" fill="#F000F0" stroke="none" stroke-width="1"/>
<polygon points="366.18,17.42 368.16,19.40 366.18,21.38 364.20,19.40" fill="#C400C4" stroke="none" stroke-width="1"/>
<line x1="376.80" y1="42.50" x2="376.80" y2="51.50" stroke="#F090F0" stroke-width="0.55" />
<line x1="375.60" y1="42.50" x2="378.00" y2="42.50" stroke="#F090F0" stroke-width="0.55" />
<line x1="375.60" y1="51.50" x2="378.00" y2="51.50" stroke="#F090F0" stroke-width="0.55" />
<line x1="376.80" y1="56.50" x2="376.80" y2="65.50" stroke="#F090F0" stroke-width="0.55" />
<line x1="375.60" y1="56.50" x2="378.00" y2="56.50" stroke="#F090F0" stroke-width="0.55" />
<line x1="375.60" y1="65.50" x2="378.00" y2="65.50" stroke="#F090F0" stroke-width="0.55" />
<line x1="376.80" y1="52.50" x2="376.80" y2="61.50" stroke="#F090F0" stroke-width="0.55" />
<line x1="375.60" y1="52.50" x2="378.00" y2="52.50" stroke="#F090F0" stroke-width="0.55" />
<line x1="375.60" y1="61.50" x2="378.00" y2="61.50" stroke="#F090F0" stroke-width="0.55" />
<line x1="376.80" y1="50.50" x2="376.80" y2="59.50" stroke="#F090F0" stroke-width="0.55" />
<line x1="375.60" y1="50.50" x2="378.00" y2="50.50" stroke="#F090F0" stroke-width="0.55" />
<line x1="375.60" y1="59.50" x2="378.00" y2="59.50" stroke="#F090F0" stroke-width="0.55" />
<line x1="376.80" y1="31.90" x2="376.80" y2="40.90" stroke="#F090F0" stroke-width="0.55" />
<line x1="375.60" y1="31.90" x2="378.00" y2="31.90" stroke="#F090F0" stroke-width="0.55" />
<line x1="375.60" y1="40.90" x2="378.00" y2="40.90" stroke="#F090F0" stroke-width="0.55" />
<rect x="375.35" y="45.55" width="2.90" height="2.90" fill="#F5B0F5" stroke="none" stroke-width="1"/>
<circle cx="376.80" cy="61.00" r="1.45" fill="#FF5AFF" stroke="none" stroke-width="1"/>
<polygon points="376.80,55.58 378.32,58.05 375.28,58.05" fill="#FF1EFF" stroke="none" stroke-width="1"/>
<polygon points="376.80,56.42 378.32,53.95 375.28,53.95" fill="#F000F0" stroke="none" stroke-width="1"/>
<polygon points="376.80,34.42 378.78,36.40 376.80,38.38 374.82,36.40" fill="#C400C4" stroke="none" stroke-width="1"/>
<line x1="385.48" y1="52.40" x2="385.48" y2="57.60" stroke="#F090F0" stroke-width="0.55" />
<line x1="384.28" y1="52.40" x2="386.68" y2="52.40" stroke="#F090F0" stroke-width="0.55" />
<line x1="384.28" y1="57.60" x2="386.68" y2="57.60" stroke="#F090F0" stroke-width="0.55" />
<line x1="385.48" y1="59.40" x2="385.48" y2="64.60" stroke="#F090F0" stroke-width="0.55" />
<line x1="384.28" y1="59.40" x2="386.68" y2="59.40" stroke="#F090F0" stroke-width="0.55" />
<line x1="384.28" y1="64.60" x2="386.68" y2="64.60" stroke="#F090F0" stroke-width="0.55" />
<line x1="385.48" y1="57.40" x2="385.48" y2="62.60" stroke="#F090F0" stroke-width="0.55" />
<line x1="384.28" y1="57.40" x2="386.68" y2="57.40" stroke="#F090F0" stroke-width="0.55" />
<line x1="384.28" y1="62.60" x2="386.68" y2="62.60" stroke="#F090F0" stroke-width="0.55" />
<line x1="385.48" y1="53.00" x2="385.48" y2="58.20" stroke="#F090F0" stroke-width="0.55" />
<line x1="384.28" y1="53.00" x2="386.68" y2="53.00" stroke="#F090F0" stroke-width="0.55" />
<line x1="384.28" y1="58.20" x2="386.68" y2="58.20" stroke="#F090F0" stroke-width="0.55" />
<line x1="385.48" y1="49.80" x2="385.48" y2="55.00" stroke="#F090F0" stroke-width="0.55" />
<line x1="384.28" y1="49.80" x2="386.68" y2="49.80" stroke="#F090F0" stroke-width="0.55" />
<line x1="384.28" y1="55.00" x2="386.68" y2="55.00" stroke="#F090F0" stroke-width="0.55" />
<rect x="384.03" y="53.55" width="2.90" height="2.90" fill="#F5B0F5" stroke="none" stroke-width="1"/>
<circle cx="385.48" cy="62.00" r="1.45" fill="#FF5AFF" stroke="none" stroke-width="1"/>
<polygon points="385.48,58.58 387.00,61.05 383.96,61.05" fill="#FF1EFF" stroke="none" stroke-width="1"/>
<polygon points="385.48,57.02 387.00,54.55 383.96,54.55" fill="#F000F0" stroke="none" stroke-width="1"/>
<polygon points="385.48,50.42 387.46,52.40 385.48,54.38 383.50,52.40" fill="#C400C4" stroke="none" stroke-width="1"/>
<line x1="392.82" y1="51.80" x2="392.82" y2="57.00" stroke="#F090F0" stroke-width="0.55" />
<line x1="391.62" y1="51.80" x2="394.02" y2="51.80" stroke="#F090F0" stroke-width="0.55" />
<line x1="391.62" y1="57.00" x2="394.02" y2="57.00" stroke="#F090F0" stroke-width="0.55" />
<line x1="392.82" y1="63.40" x2="392.82" y2="68.60" stroke="#F090F0" stroke-width="0.55" />
<line x1="391.62" y1="63.40" x2="394.02" y2="63.40" stroke="#F090F0" stroke-width="0.55" />
<line x1="391.62" y1="68.60" x2="394.02" y2="68.60" stroke="#F090F0" stroke-width="0.55" />
<line x1="392.82" y1="60.40" x2="392.82" y2="65.60" stroke="#F090F0" stroke-width="0.55" />
<line x1="391.62" y1="60.40" x2="394.02" y2="60.40" stroke="#F090F0" stroke-width="0.55" />
<line x1="391.62" y1="65.60" x2="394.02" y2="65.60" stroke="#F090F0" stroke-width="0.55" />
<line x1="392.82" y1="59.40" x2="392.82" y2="64.60" stroke="#F090F0" stroke-width="0.55" />
<line x1="391.62" y1="59.40" x2="394.02" y2="59.40" stroke="#F090F0" stroke-width="0.55" />
<line x1="391.62" y1="64.60" x2="394.02" y2="64.60" stroke="#F090F0" stroke-width="0.55" />
<line x1="392.82" y1="60.40" x2="392.82" y2="65.60" stroke="#F090F0" stroke-width="0.55" />
<line x1="391.62" y1="60.40" x2="394.02" y2="60.40" stroke="#F090F0" stroke-width="0.55" />
<line x1="391.62" y1="65.60" x2="394.02" y2="65.60" stroke="#F090F0" stroke-width="0.55" />
<rect x="391.37" y="52.95" width="2.90" height="2.90" fill="#F5B0F5" stroke="none" stroke-width="1"/>
<circle cx="392.82" cy="66.00" r="1.45" fill="#FF5AFF" stroke="none" stroke-width="1"/>
<polygon points="392.82,61.58 394.34,64.05 391.29,64.05" fill="#FF1EFF" stroke="none" stroke-width="1"/>
<polygon points="392.82,63.42 394.34,60.95 391.29,60.95" fill="#F000F0" stroke="none" stroke-width="1"/>
<polygon points="392.82,61.02 394.79,63.00 392.82,64.98 390.84,63.00" fill="#C400C4" stroke="none" stroke-width="1"/>
<line x1="399.17" y1="49.00" x2="399.17" y2="54.20" stroke="#F090F0" stroke-width="0.55" />
<line x1="397.97" y1="49.00" x2="400.37" y2="49.00" stroke="#F090F0" stroke-width="0.55" />
<line x1="397.97" y1="54.20" x2="400.37" y2="54.20" stroke="#F090F0" stroke-width="0.55" />
<line x1="399.17" y1="60.40" x2="399.17" y2="65.60" stroke="#F090F0" stroke-width="0.55" />
<line x1="397.97" y1="60.40" x2="400.37" y2="60.40" stroke="#F090F0" stroke-width="0.55" />
<line x1="397.97" y1="65.60" x2="400.37" y2="65.60" stroke="#F090F0" stroke-width="0.55" />
<line x1="399.17" y1="59.40" x2="399.17" y2="64.60" stroke="#F090F0" stroke-width="0.55" />
<line x1="397.97" y1="59.40" x2="400.37" y2="59.40" stroke="#F090F0" stroke-width="0.55" />
<line x1="397.97" y1="64.60" x2="400.37" y2="64.60" stroke="#F090F0" stroke-width="0.55" />
<line x1="399.17" y1="58.40" x2="399.17" y2="63.60" stroke="#F090F0" stroke-width="0.55" />
<line x1="397.97" y1="58.40" x2="400.37" y2="58.40" stroke="#F090F0" stroke-width="0.55" />
<line x1="397.97" y1="63.60" x2="400.37" y2="63.60" stroke="#F090F0" stroke-width="0.55" />
<line x1="399.17" y1="59.80" x2="399.17" y2="65.00" stroke="#F090F0" stroke-width="0.55" />
<line x1="397.97" y1="59.80" x2="400.37" y2="59.80" stroke="#F090F0" stroke-width="0.55" />
<line x1="397.97" y1="65.00" x2="400.37" y2="65.00" stroke="#F090F0" stroke-width="0.55" />
<rect x="397.72" y="50.15" width="2.90" height="2.90" fill="#F5B0F5" stroke="none" stroke-width="1"/>
<circle cx="399.17" cy="63.00" r="1.45" fill="#FF5AFF" stroke="none" stroke-width="1"/>
<polygon points="399.17,60.58 400.69,63.05 397.65,63.05" fill="#FF1EFF" stroke="none" stroke-width="1"/>
<polygon points="399.17,62.42 400.69,59.95 397.65,59.95" fill="#F000F0" stroke="none" stroke-width="1"/>
<polygon points="399.17,60.42 401.15,62.40 399.17,64.38 397.19,62.40" fill="#C400C4" stroke="none" stroke-width="1"/>
<line x1="404.78" y1="51.00" x2="404.78" y2="56.20" stroke="#F090F0" stroke-width="0.55" />
<line x1="403.58" y1="51.00" x2="405.98" y2="51.00" stroke="#F090F0" stroke-width="0.55" />
<line x1="403.58" y1="56.20" x2="405.98" y2="56.20" stroke="#F090F0" stroke-width="0.55" />
<line x1="404.78" y1="59.40" x2="404.78" y2="64.60" stroke="#F090F0" stroke-width="0.55" />
<line x1="403.58" y1="59.40" x2="405.98" y2="59.40" stroke="#F090F0" stroke-width="0.55" />
<line x1="403.58" y1="64.60" x2="405.98" y2="64.60" stroke="#F090F0" stroke-width="0.55" />
<line x1="404.78" y1="60.40" x2="404.78" y2="65.60" stroke="#F090F0" stroke-width="0.55" />
<line x1="403.58" y1="60.40" x2="405.98" y2="60.40" stroke="#F090F0" stroke-width="0.55" />
<line x1="403.58" y1="65.60" x2="405.98" y2="65.60" stroke="#F090F0" stroke-width="0.55" />
<line x1="404.78" y1="59.40" x2="404.78" y2="64.60" stroke="#F090F0" stroke-width="0.55" />
<line x1="403.58" y1="59.40" x2="405.98" y2="59.40" stroke="#F090F0" stroke-width="0.55" />
<line x1="403.58" y1="64.60" x2="405.98" y2="64.60" stroke="#F090F0" stroke-width="0.55" />
<line x1="404.78" y1="64.00" x2="404.78" y2="69.20" stroke="#F090F0" stroke-width="0.55" />
<line x1="403.58" y1="64.00" x2="405.98" y2="64.00" stroke="#F090F0" stroke-width="0.55" />
<line x1="403.58" y1="69.20" x2="405.98" y2="69.20" stroke="#F090F0" stroke-width="0.55" />
<rect x="403.33" y="52.15" width="2.90" height="2.90" fill="#F5B0F5" stroke="none" stroke-width="1"/>
<circle cx="404.78" cy="62.00" r="1.45" fill="#FF5AFF" stroke="none" stroke-width="1"/>
<polygon points="404.78,61.58 406.30,64.05 403.26,64.05" fill="#FF1EFF" stroke="none" stroke-width="1"/>
<polygon points="404.78,63.42 406.30,60.95 403.26,60.95" fill="#F000F0" stroke="none" stroke-width="1"/>
<polygon points="404.78,64.62 406.76,66.60 404.78,68.58 402.80,66.60" fill="#C400C4" stroke="none" stroke-width="1"/>
<line x1="409.79" y1="52.40" x2="409.79" y2="57.60" stroke="#F090F0" stroke-width="0.55" />
<line x1="408.59" y1="52.40" x2="410.99" y2="52.40" stroke="#F090F0" stroke-width="0.55" />
<line x1="408.59" y1="57.60" x2="410.99" y2="57.60" stroke="#F090F0" stroke-width="0.55" />
<line x1="409.79" y1="61.40" x2="409.79" y2="66.60" stroke="#F090F0" stroke-width="0.55" />
<line x1="408.59" y1="61.40" x2="410.99" y2="61.40" stroke="#F090F0" stroke-width="0.55" />
<line x1="408.59" y1="66.60" x2="410.99" y2="66.60" stroke="#F090F0" stroke-width="0.55" />
<line x1="409.79" y1="60.40" x2="409.79" y2="65.60" stroke="#F090F0" stroke-width="0.55" />
<line x1="408.59" y1="60.40" x2="410.99" y2="60.40" stroke="#F090F0" stroke-width="0.55" />
<line x1="408.59" y1="65.60" x2="410.99" y2="65.60" stroke="#F090F0" stroke-width="0.55" />
<line x1="409.79" y1="59.40" x2="409.79" y2="64.60" stroke="#F090F0" stroke-width="0.55" />
<line x1="408.59" y1="59.40" x2="410.99" y2="59.40" stroke="#F090F0" stroke-width="0.55" />
<line x1="408.59" y1="64.60" x2="410.99" y2="64.60" stroke="#F090F0" stroke-width="0.55" />
<line x1="409.79" y1="61.80" x2="409.79" y2="67.00" stroke="#F090F0" stroke-width="0.55" />
<line x1="408.59" y1="61.80" x2="410.99" y2="61.80" stroke="#F090F0" stroke-width="0.55" />
<line x1="408.59" y1="67.00" x2="410.99" y2="67.00" stroke="#F090F0" stroke-width="0.55" />
<rect x="408.34" y="53.55" width="2.90" height="2.90" fill="#F5B0F5" stroke="none" stroke-width="1"/>
<circle cx="409.79" cy="64.00" r="1.45" fill="#FF5AFF" stroke="none" stroke-width="1"/>
<polygon points="409.79,61.58 411.32,64.05 408.27,64.05" fill="#FF1EFF" stroke="none" stroke-width="1"/>
<polygon points="409.79,63.42 411.32,60.95 408.27,60.95" fill="#F000F0" stroke="none" stroke-width="1"/>
<polygon points="409.79,62.42 411.77,64.40 409.79,66.38 407.82,64.40" fill="#C400C4" stroke="none" stroke-width="1"/>
<line x1="414.33" y1="51.00" x2="414.33" y2="56.20" stroke="#F090F0" stroke-width="0.55" />
<line x1="413.13" y1="51.00" x2="415.53" y2="51.00" stroke="#F090F0" stroke-width="0.55" />
<line x1="413.13" y1="56.20" x2="415.53" y2="56.20" stroke="#F090F0" stroke-width="0.55" />
<line x1="414.33" y1="61.40" x2="414.33" y2="66.60" stroke="#F090F0" stroke-width="0.55" />
<line x1="413.13" y1="61.40" x2="415.53" y2="61.40" stroke="#F090F0" stroke-width="0.55" />
<line x1="413.13" y1="66.60" x2="415.53" y2="66.60" stroke="#F090F0" stroke-width="0.55" />
<line x1="414.33" y1="60.40" x2="414.33" y2="65.60" stroke="#F090F0" stroke-width="0.55" />
<line x1="413.13" y1="60.40" x2="415.53" y2="60.40" stroke="#F090F0" stroke-width="0.55" />
<line x1="413.13" y1="65.60" x2="415.53" y2="65.60" stroke="#F090F0" stroke-width="0.55" />
<line x1="414.33" y1="59.40" x2="414.33" y2="64.60" stroke="#F090F0" stroke-width="0.55" />
<line x1="413.13" y1="59.40" x2="415.53" y2="59.40" stroke="#F090F0" stroke-width="0.55" />
<line x1="413.13" y1="64.60" x2="415.53" y2="64.60" stroke="#F090F0" stroke-width="0.55" />
<line x1="414.33" y1="65.40" x2="414.33" y2="70.60" stroke="#F090F0" stroke-width="0.55" />
<line x1="413.13" y1="65.40" x2="415.53" y2="65.40" stroke="#F090F0" stroke-width="0.55" />
<line x1="413.13" y1="70.60" x2="415.53" y2="70.60" stroke="#F090F0" stroke-width="0.55" />
<rect x="412.88" y="52.15" width="2.90" height="2.90" fill="#F5B0F5" stroke="none" stroke-width="1"/>
<circle cx="414.33" cy="64.00" r="1.45" fill="#FF5AFF" stroke="none" stroke-width="1"/>
<polygon points="414.33,61.58 415.85,64.05 412.81,64.05" fill="#FF1EFF" stroke="none" stroke-width="1"/>
<polygon points="414.33,63.42 415.85,60.95 412.81,60.95" fill="#F000F0" stroke="none" stroke-width="1"/>
<polygon points="414.33,66.02 416.31,68.00 414.33,69.98 412.35,68.00" fill="#C400C4" stroke="none" stroke-width="1"/>
<line x1="418.47" y1="51.40" x2="418.47" y2="56.60" stroke="#F090F0" stroke-width="0.55" />
<line x1="417.27" y1="51.40" x2="419.67" y2="51.40" stroke="#F090F0" stroke-width="0.55" />
<line x1="417.27" y1="56.60" x2="419.67" y2="56.60" stroke="#F090F0" stroke-width="0.55" />
<line x1="418.47" y1="61.40" x2="418.47" y2="66.60" stroke="#F090F0" stroke-width="0.55" />
<line x1="417.27" y1="61.40" x2="419.67" y2="61.40" stroke="#F090F0" stroke-width="0.55" />
<line x1="417.27" y1="66.60" x2="419.67" y2="66.60" stroke="#F090F0" stroke-width="0.55" />
<line x1="418.47" y1="59.40" x2="418.47" y2="64.60" stroke="#F090F0" stroke-width="0.55" />
<line x1="417.27" y1="59.40" x2="419.67" y2="59.40" stroke="#F090F0" stroke-width="0.55" />
<line x1="417.27" y1="64.60" x2="419.67" y2="64.60" stroke="#F090F0" stroke-width="0.55" />
<line x1="418.47" y1="58.40" x2="418.47" y2="63.60" stroke="#F090F0" stroke-width="0.55" />
<line x1="417.27" y1="58.40" x2="419.67" y2="58.40" stroke="#F090F0" stroke-width="0.55" />
<line x1="417.27" y1="63.60" x2="419.67" y2="63.60" stroke="#F090F0" stroke-width="0.55" />
<line x1="418.47" y1="61.40" x2="418.47" y2="66.60" stroke="#F090F0" stroke-width="0.55" />
<line x1="417.27" y1="61.40" x2="419.67" y2="61.40" stroke="#F090F0" stroke-width="0.55" />
<line x1="417.27" y1="66.60" x2="419.67" y2="66.60" stroke="#F090F0" stroke-width="0.55" />
<rect x="417.02" y="52.55" width="2.90" height="2.90" fill="#F5B0F5" stroke="none" stroke-width="1"/>
<circle cx="418.47" cy="64.00" r="1.45" fill="#FF5AFF" stroke="none" stroke-width="1"/>
<polygon points="418.47,60.58 419.99,63.05 416.95,63.05" fill="#FF1EFF" stroke="none" stroke-width="1"/>
<polygon points="418.47,62.42 419.99,59.95 416.95,59.95" fill="#F000F0" stroke="none" stroke-width="1"/>
<polygon points="418.47,62.02 420.45,64.00 418.47,65.98 416.49,64.00" fill="#C400C4" stroke="none" stroke-width="1"/>
<line x1="422.28" y1="51.00" x2="422.28" y2="56.20" stroke="#F090F0" stroke-width="0.55" />
<line x1="421.08" y1="51.00" x2="423.48" y2="51.00" stroke="#F090F0" stroke-width="0.55" />
<line x1="421.08" y1="56.20" x2="423.48" y2="56.20" stroke="#F090F0" stroke-width="0.55" />
<line x1="422.28" y1="63.40" x2="422.28" y2="68.60" stroke="#F090F0" stroke-width="0.55" />
<line x1="421.08" y1="63.40" x2="423.48" y2="63.40" stroke="#F090F0" stroke-width="0.55" />
<line x1="421.08" y1="68.60" x2="423.48" y2="68.60" stroke="#F090F0" stroke-width="0.55" />
<line x1="422.28" y1="61.40" x2="422.28" y2="66.60" stroke="#F090F0" stroke-width="0.55" />
<line x1="421.08" y1="61.40" x2="423.48" y2="61.40" stroke="#F090F0" stroke-width="0.55" />
<line x1="421.08" y1="66.60" x2="423.48" y2="66.60" stroke="#F090F0" stroke-width="0.55" />
<line x1="422.28" y1="60.40" x2="422.28" y2="65.60" stroke="#F090F0" stroke-width="0.55" />
<line x1="421.08" y1="60.40" x2="423.48" y2="60.40" stroke="#F090F0" stroke-width="0.55" />
<line x1="421.08" y1="65.60" x2="423.48" y2="65.60" stroke="#F090F0" stroke-width="0.55" />
<line x1="422.28" y1="66.40" x2="422.28" y2="71.60" stroke="#F090F0" stroke-width="0.55" />
<line x1="421.08" y1="66.40" x2="423.48" y2="66.40" stroke="#F090F0" stroke-width="0.55" />
<line x1="421.08" y1="71.60" x2="423.48" y2="71.60" stroke="#F090F0" stroke-width="0.55" />
<rect x="420.83" y="52.15" width="2.90" height="2.90" fill="#F5B0F5" stroke="none" stroke-width="1"/>
<circle cx="422.28" cy="66.00" r="1.45" fill="#FF5AFF" stroke="none" stroke-width="1"/>
<polygon points="422.28,62.58 423.80,65.05 420.76,65.05" fill="#FF1EFF" stroke="none" stroke-width="1"/>
<polygon points="422.28,64.42 423.80,61.95 420.76,61.95" fill="#F000F0" stroke="none" stroke-width="1"/>
<polygon points="422.28,67.02 424.26,69.00 422.28,70.98 420.30,69.00" fill="#C400C4" stroke="none" stroke-width="1"/>
<line x1="425.81" y1="55.00" x2="425.81" y2="60.20" stroke="#F090F0" stroke-width="0.55" />
<line x1="424.61" y1="55.00" x2="427.01" y2="55.00" stroke="#F090F0" stroke-width="0.55" />
<line x1="424.61" y1="60.20" x2="427.01" y2="60.20" stroke="#F090F0" stroke-width="0.55" />
<line x1="425.81" y1="63.40" x2="425.81" y2="68.60" stroke="#F090F0" stroke-width="0.55" />
<line x1="424.61" y1="63.40" x2="427.01" y2="63.40" stroke="#F090F0" stroke-width="0.55" />
<line x1="424.61" y1="68.60" x2="427.01" y2="68.60" stroke="#F090F0" stroke-width="0.55" />
<line x1="425.81" y1="59.40" x2="425.81" y2="64.60" stroke="#F090F0" stroke-width="0.55" />
<line x1="424.61" y1="59.40" x2="427.01" y2="59.40" stroke="#F090F0" stroke-width="0.55" />
<line x1="424.61" y1="64.60" x2="427.01" y2="64.60" stroke="#F090F0" stroke-width="0.55" />
<line x1="425.81" y1="61.40" x2="425.81" y2="66.60" stroke="#F090F0" stroke-width="0.55" />
<line x1="424.61" y1="61.40" x2="427.01" y2="61.40" stroke="#F090F0" stroke-width="0.55" />
<line x1="424.61" y1="66.60" x2="427.01" y2="66.60" stroke="#F090F0" stroke-width="0.55" />
<line x1="425.81" y1="65.40" x2="425.81" y2="70.60" stroke="#F090F0" stroke-width="0.55" />
<line x1="424.61" y1="65.40" x2="427.01" y2="65.40" stroke="#F090F0" stroke-width="0.55" />
<line x1="424.61" y1="70.60" x2="427.01" y2="70.60" stroke="#F090F0" stroke-width="0.55" />
<rect x="424.36" y="56.15" width="2.90" height="2.90" fill="#F5B0F5" stroke="none" stroke-width="1"/>
<circle cx="425.81" cy="66.00" r="1.45" fill="#FF5AFF" stroke="none" stroke-width="1"/>
<polygon points="425.81,60.58 427.33,63.05 424.29,63.05" fill="#FF1EFF" stroke="none" stroke-width="1"/>
<polygon points="425.81,65.42 427.33,62.95 424.29,62.95" fill="#F000F0" stroke="none" stroke-width="1"/>
<polygon points="425.81,66.02 427.79,68.00 425.81,69.98 423.83,68.00" fill="#C400C4" stroke="none" stroke-width="1"/>
<line x1="429.09" y1="57.40" x2="429.09" y2="62.60" stroke="#F090F0" stroke-width="0.55" />
<line x1="427.89" y1="57.40" x2="430.29" y2="57.40" stroke="#F090F0" stroke-width="0.55" />
<line x1="427.89" y1="62.60" x2="430.29" y2="62.60" stroke="#F090F0" stroke-width="0.55" />
<line x1="429.09" y1="63.40" x2="429.09" y2="68.60" stroke="#F090F0" stroke-width="0.55" />
<line x1="427.89" y1="63.40" x2="430.29" y2="63.40" stroke="#F090F0" stroke-width="0.55" />
<line x1="427.89" y1="68.60" x2="430.29" y2="68.60" stroke="#F090F0" stroke-width="0.55" />
<line x1="429.09" y1="61.40" x2="429.09" y2="66.60" stroke="#F090F0" stroke-width="0.55" />
<line x1="427.89" y1="61.40" x2="430.29" y2="61.40" stroke="#F090F0" stroke-width="0.55" />
<line x1="427.89" y1="66.60" x2="430.29" y2="66.60" stroke="#F090F0" stroke-width="0.55" />
<line x1="429.09" y1="62.40" x2="429.09" y2="67.60" stroke="#F090F0" stroke-width="0.55" />
<line x1="427.89" y1="62.40" x2="430.29" y2="62.40" stroke="#F090F0" stroke-width="0.55" />
<line x1="427.89" y1="67.60" x2="430.29" y2="67.60" stroke="#F090F0" stroke-width="0.55" />
<line x1="429.09" y1="65.00" x2="429.09" y2="70.20" stroke="#F090F0" stroke-width="0.55" />
<line x1="427.89" y1="65.00" x2="430.29" y2="65.00" stroke="#F090F0" stroke-width="0.55" />
<line x1="427.89" y1="70.20" x2="430.29" y2="70.20" stroke="#F090F0" stroke-width="0.55" />
<rect x="427.64" y="58.55" width="2.90" height="2.90" fill="#F5B0F5" stroke="none" stroke-width="1"/>
<circle cx="429.09" cy="66.00" r="1.45" fill="#FF5AFF" stroke="none" stroke-width="1"/>
<polygon points="429.09,62.58 430.62,65.05 427.57,65.05" fill="#FF1EFF" stroke="none" stroke-width="1"/>
<polygon points="429.09,66.42 430.62,63.95 427.57,63.95" fill="#F000F0" stroke="none" stroke-width="1"/>
<polygon points="429.09,65.62 431.07,67.60 429.09,69.58 427.11,67.60" fill="#C400C4" stroke="none" stroke-width="1"/>
<line x1="432.16" y1="53.80" x2="432.16" y2="59.00" stroke="#F090F0" stroke-width="0.55" />
<line x1="430.96" y1="53.80" x2="433.36" y2="53.80" stroke="#F090F0" stroke-width="0.55" />
<line x1="430.96" y1="59.00" x2="433.36" y2="59.00" stroke="#F090F0" stroke-width="0.55" />
<line x1="432.16" y1="63.40" x2="432.16" y2="68.60" stroke="#F090F0" stroke-width="0.55" />
<line x1="430.96" y1="63.40" x2="433.36" y2="63.40" stroke="#F090F0" stroke-width="0.55" />
<line x1="430.96" y1="68.60" x2="433.36" y2="68.60" stroke="#F090F0" stroke-width="0.55" />
<line x1="432.16" y1="60.40" x2="432.16" y2="65.60" stroke="#F090F0" stroke-width="0.55" />
<line x1="430.96" y1="60.40" x2="433.36" y2="60.40" stroke="#F090F0" stroke-width="0.55" />
<line x1="430.96" y1="65.60" x2="433.36" y2="65.60" stroke="#F090F0" stroke-width="0.55" />
<line x1="432.16" y1="61.40" x2="432.16" y2="66.60" stroke="#F090F0" stroke-width="0.55" />
<line x1="430.96" y1="61.40" x2="433.36" y2="61.40" stroke="#F090F0" stroke-width="0.55" />
<line x1="430.96" y1="66.60" x2="433.36" y2="66.60" stroke="#F090F0" stroke-width="0.55" />
<line x1="432.16" y1="64.40" x2="432.16" y2="69.60" stroke="#F090F0" stroke-width="0.55" />
<line x1="430.96" y1="64.40" x2="433.36" y2="64.40" stroke="#F090F0" stroke-width="0.55" />
<line x1="430.96" y1="69.60" x2="433.36" y2="69.60" stroke="#F090F0" stroke-width="0.55" />
<rect x="430.71" y="54.95" width="2.90" height="2.90" fill="#F5B0F5" stroke="none" stroke-width="1"/>
<circle cx="432.16" cy="66.00" r="1.45" fill="#FF5AFF" stroke="none" stroke-width="1"/>
<polygon points="432.16,61.58 433.69,64.05 430.64,64.05" fill="#FF1EFF" stroke="none" stroke-width="1"/>
<polygon points="432.16,65.42 433.69,62.95 430.64,62.95" fill="#F000F0" stroke="none" stroke-width="1"/>
<polygon points="432.16,65.02 434.14,67.00 432.16,68.98 430.19,67.00" fill="#C400C4" stroke="none" stroke-width="1"/>
<line x1="435.05" y1="57.40" x2="435.05" y2="62.60" stroke="#F090F0" stroke-width="0.55" />
<line x1="433.85" y1="57.40" x2="436.25" y2="57.40" stroke="#F090F0" stroke-width="0.55" />
<line x1="433.85" y1="62.60" x2="436.25" y2="62.60" stroke="#F090F0" stroke-width="0.55" />
<line x1="435.05" y1="61.80" x2="435.05" y2="67.00" stroke="#F090F0" stroke-width="0.55" />
<line x1="433.85" y1="61.80" x2="436.25" y2="61.80" stroke="#F090F0" stroke-width="0.55" />
<line x1="433.85" y1="67.00" x2="436.25" y2="67.00" stroke="#F090F0" stroke-width="0.55" />
<line x1="435.05" y1="59.40" x2="435.05" y2="64.60" stroke="#F090F0" stroke-width="0.55" />
<line x1="433.85" y1="59.40" x2="436.25" y2="59.40" stroke="#F090F0" stroke-width="0.55" />
<line x1="433.85" y1="64.60" x2="436.25" y2="64.60" stroke="#F090F0" stroke-width="0.55" />
<line x1="435.05" y1="60.40" x2="435.05" y2="65.60" stroke="#F090F0" stroke-width="0.55" />
<line x1="433.85" y1="60.40" x2="436.25" y2="60.40" stroke="#F090F0" stroke-width="0.55" />
<line x1="433.85" y1="65.60" x2="436.25" y2="65.60" stroke="#F090F0" stroke-width="0.55" />
<line x1="435.05" y1="61.80" x2="435.05" y2="67.00" stroke="#F090F0" stroke-width="0.55" />
<line x1="433.85" y1="61.80" x2="436.25" y2="61.80" stroke="#F090F0" stroke-width="0.55" />
<line x1="433.85" y1="67.00" x2="436.25" y2="67.00" stroke="#F090F0" stroke-width="0.55" />
<rect x="433.60" y="58.55" width="2.90" height="2.90" fill="#F5B0F5" stroke="none" stroke-width="1"/>
<circle cx="435.05" cy="64.40" r="1.45" fill="#FF5AFF" stroke="none" stroke-width="1"/>
<polygon points="435.05,60.58 436.57,63.05 433.53,63.05" fill="#FF1EFF" stroke="none" stroke-width="1"/>
<polygon points="435.05,64.42 436.57,61.95 433.53,61.95" fill="#F000F0" stroke="none" stroke-width="1"/>
<polygon points="435.05,62.42 437.03,64.40 435.05,66.38 433.07,64.40" fill="#C400C4" stroke="none" stroke-width="1"/>
<line x1="437.77" y1="61.00" x2="437.77" y2="66.20" stroke="#F090F0" stroke-width="0.55" />
<line x1="436.57" y1="61.00" x2="438.97" y2="61.00" stroke="#F090F0" stroke-width="0.55" />
<line x1="436.57" y1="66.20" x2="438.97" y2="66.20" stroke="#F090F0" stroke-width="0.55" />
<line x1="437.77" y1="67.40" x2="437.77" y2="72.60" stroke="#F090F0" stroke-width="0.55" />
<line x1="436.57" y1="67.40" x2="438.97" y2="67.40" stroke="#F090F0" stroke-width="0.55" />
<line x1="436.57" y1="72.60" x2="438.97" y2="72.60" stroke="#F090F0" stroke-width="0.55" />
<line x1="437.77" y1="63.40" x2="437.77" y2="68.60" stroke="#F090F0" stroke-width="0.55" />
<line x1="436.57" y1="63.40" x2="438.97" y2="63.40" stroke="#F090F0" stroke-width="0.55" />
<line x1="436.57" y1="68.60" x2="438.97" y2="68.60" stroke="#F090F0" stroke-width="0.55" />
<line x1="437.77" y1="63.40" x2="437.77" y2="68.60" stroke="#F090F0" stroke-width="0.55" />
<line x1="436.57" y1="63.40" x2="438.97" y2="63.40" stroke="#F090F0" stroke-width="0.55" />
<line x1="436.57" y1="68.60" x2="438.97" y2="68.60" stroke="#F090F0" stroke-width="0.55" />
<line x1="437.77" y1="71.00" x2="437.77" y2="76.20" stroke="#F090F0" stroke-width="0.55" />
<line x1="436.57" y1="71.00" x2="438.97" y2="71.00" stroke="#F090F0" stroke-width="0.55" />
<line x1="436.57" y1="76.20" x2="438.97" y2="76.20" stroke="#F090F0" stroke-width="0.55" />
<rect x="436.32" y="62.15" width="2.90" height="2.90" fill="#F5B0F5" stroke="none" stroke-width="1"/>
<circle cx="437.77" cy="70.00" r="1.45" fill="#FF5AFF" stroke="none" stroke-width="1"/>
<polygon points="437.77,64.58 439.29,67.05 436.25,67.05" fill="#FF1EFF" stroke="none" stroke-width="1"/>
<polygon points="437.77,67.42 439.29,64.95 436.25,64.95" fill="#F000F0" stroke="none" stroke-width="1"/>
<polygon points="437.77,71.62 439.75,73.60 437.77,75.58 435.79,73.60" fill="#C400C4" stroke="none" stroke-width="1"/>
</g>
<line x1="352.49" y1="1.00" x2="352.49" y2="69.00" stroke="#EE80EE" stroke-width="0.75" />
<line x1="351.19" y1="1.00" x2="353.79" y2="1.00" stroke="#EE80EE" stroke-width="0.75" />
<line x1="351.19" y1="69.00" x2="353.79" y2="69.00" stroke="#EE80EE" stroke-width="0.75" />
<line x1="366.18" y1="6.00" x2="366.18" y2="69.00" stroke="#EE80EE" stroke-width="0.75" />
<line x1="364.88" y1="6.00" x2="367.48" y2="6.00" stroke="#EE80EE" stroke-width="0.75" />
<line x1="364.88" y1="69.00" x2="367.48" y2="69.00" stroke="#EE80EE" stroke-width="0.75" />
<line x1="376.80" y1="26.00" x2="376.80" y2="67.00" stroke="#EE80EE" stroke-width="0.75" />
<line x1="375.50" y1="26.00" x2="378.10" y2="26.00" stroke="#EE80EE" stroke-width="0.75" />
<line x1="375.50" y1="67.00" x2="378.10" y2="67.00" stroke="#EE80EE" stroke-width="0.75" />
<text transform="translate(131.20,40.40) rotate(-90)" text-anchor="middle" fill="#111"><tspan font-family="Liberation Serif" font-size="11">τ</tspan><tspan font-size="13.6" font-weight="bold">q</tspan><tspan font-family="Liberation Serif" font-size="8" dy="-5.5">β</tspan><tspan font-size="5.5" dy="1.5">2</tspan></text>
<text transform="translate(332.20,38.00) rotate(-90)" text-anchor="middle" fill="#111"><tspan font-family="Liberation Serif" font-size="11">τ</tspan><tspan font-size="13.6" font-weight="bold">q</tspan><tspan font-family="Liberation Serif" font-size="8" dy="-5.5">β</tspan><tspan font-size="5.5" dy="1.5">2</tspan></text>
<text x="174.30" y="101.30" font-size="12.6" font-weight="bold" fill="#111" text-anchor="start">q (<tspan font-weight="normal" font-family="Liberation Serif">µ</tspan>m<tspan font-size="7.8" dy="-5.3">-1</tspan><tspan dy="5.3">)</tspan></text>
<text x="389.00" y="96.40" font-size="12.6" font-weight="bold" fill="#111" text-anchor="start">q (<tspan font-weight="normal" font-family="Liberation Serif">µ</tspan>m<tspan font-size="7.8" dy="-5.3">-1</tspan><tspan dy="5.3">)</tspan></text>
<line x1="241.50" y1="160.20" x2="238.00" y2="160.20" stroke="#555" stroke-width="0.8" />
<line x1="241.50" y1="144.12" x2="239.70" y2="144.12" stroke="#555" stroke-width="0.8" />
<line x1="241.50" y1="134.72" x2="239.70" y2="134.72" stroke="#555" stroke-width="0.8" />
<line x1="241.50" y1="128.05" x2="239.70" y2="128.05" stroke="#555" stroke-width="0.8" />
<line x1="241.50" y1="122.88" x2="239.70" y2="122.88" stroke="#555" stroke-width="0.8" />
<line x1="241.50" y1="118.65" x2="239.70" y2="118.65" stroke="#555" stroke-width="0.8" />
<line x1="241.50" y1="115.07" x2="239.70" y2="115.07" stroke="#555" stroke-width="0.8" />
<line x1="241.50" y1="111.97" x2="239.70" y2="111.97" stroke="#555" stroke-width="0.8" />
<line x1="241.50" y1="109.24" x2="239.70" y2="109.24" stroke="#555" stroke-width="0.8" />
<line x1="241.50" y1="106.80" x2="238.00" y2="106.80" stroke="#555" stroke-width="0.8" />
<line x1="241.50" y1="90.72" x2="239.70" y2="90.72" stroke="#555" stroke-width="0.8" />
<line x1="241.50" y1="81.32" x2="239.70" y2="81.32" stroke="#555" stroke-width="0.8" />
<line x1="241.50" y1="74.65" x2="239.70" y2="74.65" stroke="#555" stroke-width="0.8" />
<line x1="241.50" y1="69.48" x2="239.70" y2="69.48" stroke="#555" stroke-width="0.8" />
<line x1="241.50" y1="65.25" x2="239.70" y2="65.25" stroke="#555" stroke-width="0.8" />
<line x1="241.50" y1="61.67" x2="239.70" y2="61.67" stroke="#555" stroke-width="0.8" />
<line x1="241.50" y1="58.57" x2="239.70" y2="58.57" stroke="#555" stroke-width="0.8" />
<line x1="241.50" y1="55.84" x2="239.70" y2="55.84" stroke="#555" stroke-width="0.8" />
<line x1="241.50" y1="53.40" x2="238.00" y2="53.40" stroke="#555" stroke-width="0.8" />
<line x1="241.50" y1="37.32" x2="239.70" y2="37.32" stroke="#555" stroke-width="0.8" />
<line x1="241.50" y1="27.92" x2="239.70" y2="27.92" stroke="#555" stroke-width="0.8" />
<line x1="241.50" y1="21.25" x2="239.70" y2="21.25" stroke="#555" stroke-width="0.8" />
<line x1="241.50" y1="16.08" x2="239.70" y2="16.08" stroke="#555" stroke-width="0.8" />
<line x1="241.50" y1="11.85" x2="239.70" y2="11.85" stroke="#555" stroke-width="0.8" />
<line x1="241.50" y1="8.27" x2="239.70" y2="8.27" stroke="#555" stroke-width="0.8" />
<line x1="241.50" y1="5.17" x2="239.70" y2="5.17" stroke="#555" stroke-width="0.8" />
<line x1="241.50" y1="2.44" x2="239.70" y2="2.44" stroke="#555" stroke-width="0.8" />
<line x1="241.50" y1="0.00" x2="238.00" y2="0.00" stroke="#555" stroke-width="0.8" />
<rect x="49.80" y="1.50" width="7.00" height="7.00" fill="#FF9A9A" stroke="none" stroke-width="1"/>
<text x="65.60" y="7.90" font-size="9.8" text-anchor="start" font-weight="normal" fill="#222" >9.4</text>
<circle cx="53.30" cy="16.00" r="4.00" fill="#FF5A5A" stroke="none" stroke-width="1"/>
<text x="65.60" y="19.00" font-size="9.8" text-anchor="start" font-weight="normal" fill="#222" >19</text>
<polygon points="53.30,22.10 58.02,29.75 48.57,29.75" fill="#FF1E1E" stroke="none" stroke-width="1"/>
<text x="65.60" y="30.00" font-size="9.8" text-anchor="start" font-weight="normal" fill="#222" >42</text>
<polygon points="53.30,42.90 58.02,35.25 48.57,35.25" fill="#F00000" stroke="none" stroke-width="1"/>
<text x="65.60" y="41.00" font-size="9.8" text-anchor="start" font-weight="normal" fill="#222" >90</text>
<polygon points="53.30,43.73 58.57,49.00 53.30,54.27 48.03,49.00" fill="#C40000" stroke="none" stroke-width="1"/>
<text x="65.60" y="52.00" font-size="9.8" text-anchor="start" font-weight="normal" fill="#222" >189</text>
<text x="44.60" y="157.40" font-size="14.0" text-anchor="start" font-weight="normal" fill="#222" >0.65:0</text>
<text x="245.30" y="157.40" font-size="14.0" text-anchor="start" font-weight="normal" fill="#222" >0.65:0</text>
<text x="115.20" y="153.30" font-size="12.8" text-anchor="start" font-weight="normal" fill="#333" letter-spacing="0.55">y = 8 µm</text>
<text x="304.80" y="154.30" font-size="12.8" text-anchor="start" font-weight="normal" fill="#333" letter-spacing="0.35">y = 27 µm</text>
<text x="114.20" y="190.30" font-size="17.6" font-weight="bold" fill="#111" text-anchor="start">q (<tspan font-weight="normal" font-family="Liberation Serif">µ</tspan>m<tspan font-size="10.9" dy="-7.4">-1</tspan><tspan dy="7.4">)</tspan></text>
<text x="312.30" y="190.30" font-size="17.6" font-weight="bold" fill="#111" text-anchor="start">q (<tspan font-weight="normal" font-family="Liberation Serif">µ</tspan>m<tspan font-size="10.9" dy="-7.4">-1</tspan><tspan dy="7.4">)</tspan></text>
<text x="7.40" y="17.00" font-size="23.5" text-anchor="start" font-weight="normal" fill="#2a2a2a" >(a)</text>
<text transform="translate(17.2,80.5) rotate(-90)" text-anchor="middle" fill="#111"><tspan font-family="Liberation Serif" font-size="17">τ</tspan><tspan font-size="17.8" font-weight="bold"> (s)</tspan></text>
<line x1="486.00" y1="0.50" x2="685.00" y2="0.50" stroke="#3a3a3a" stroke-width="1.2" />
<line x1="486.50" y1="0.00" x2="486.50" y2="159.60" stroke="#555" stroke-width="1" />
<line x1="486.50" y1="159.60" x2="684.40" y2="159.60" stroke="#555" stroke-width="1" />
<line x1="684.40" y1="0.00" x2="684.40" y2="159.60" stroke="#666" stroke-width="1.1" />
<line x1="486.50" y1="160.20" x2="483.00" y2="160.20" stroke="#555" stroke-width="0.8" />
<line x1="684.40" y1="160.20" x2="682.40" y2="160.20" stroke="#555" stroke-width="0.8" />
<text x="482.00" y="164.10" font-size="11.2" text-anchor="end" font-weight="normal" fill="#222" >1.0</text>
<line x1="486.50" y1="144.20" x2="484.70" y2="144.20" stroke="#555" stroke-width="0.8" />
<line x1="684.40" y1="144.20" x2="682.90" y2="144.20" stroke="#555" stroke-width="0.8" />
<line x1="486.50" y1="128.20" x2="483.00" y2="128.20" stroke="#555" stroke-width="0.8" />
<line x1="684.40" y1="128.20" x2="682.40" y2="128.20" stroke="#555" stroke-width="0.8" />
<text x="482.00" y="132.10" font-size="11.2" text-anchor="end" font-weight="normal" fill="#222" >1.5</text>
<line x1="486.50" y1="112.20" x2="484.70" y2="112.20" stroke="#555" stroke-width="0.8" />
<line x1="684.40" y1="112.20" x2="682.90" y2="112.20" stroke="#555" stroke-width="0.8" />
<line x1="486.50" y1="96.20" x2="483.00" y2="96.20" stroke="#555" stroke-width="0.8" />
<line x1="684.40" y1="96.20" x2="682.40" y2="96.20" stroke="#555" stroke-width="0.8" />
<text x="482.00" y="100.10" font-size="11.2" text-anchor="end" font-weight="normal" fill="#222" >2.0</text>
<line x1="486.50" y1="80.20" x2="484.70" y2="80.20" stroke="#555" stroke-width="0.8" />
<line x1="684.40" y1="80.20" x2="682.90" y2="80.20" stroke="#555" stroke-width="0.8" />
<line x1="486.50" y1="64.20" x2="483.00" y2="64.20" stroke="#555" stroke-width="0.8" />
<line x1="684.40" y1="64.20" x2="682.40" y2="64.20" stroke="#555" stroke-width="0.8" />
<text x="482.00" y="68.10" font-size="11.2" text-anchor="end" font-weight="normal" fill="#222" >2.5</text>
<line x1="486.50" y1="48.20" x2="484.70" y2="48.20" stroke="#555" stroke-width="0.8" />
<line x1="684.40" y1="48.20" x2="682.90" y2="48.20" stroke="#555" stroke-width="0.8" />
<line x1="486.50" y1="32.20" x2="483.00" y2="32.20" stroke="#555" stroke-width="0.8" />
<line x1="684.40" y1="32.20" x2="682.40" y2="32.20" stroke="#555" stroke-width="0.8" />
<text x="482.00" y="36.10" font-size="11.2" text-anchor="end" font-weight="normal" fill="#222" >3.0</text>
<line x1="486.50" y1="16.20" x2="484.70" y2="16.20" stroke="#555" stroke-width="0.8" />
<line x1="684.40" y1="16.20" x2="682.90" y2="16.20" stroke="#555" stroke-width="0.8" />
<line x1="486.50" y1="0.20" x2="483.00" y2="0.20" stroke="#555" stroke-width="0.8" />
<line x1="684.40" y1="0.20" x2="682.40" y2="0.20" stroke="#555" stroke-width="0.8" />
<line x1="490.76" y1="159.60" x2="490.76" y2="161.20" stroke="#555" stroke-width="0.8" />
<line x1="497.48" y1="159.60" x2="497.48" y2="161.20" stroke="#555" stroke-width="0.8" />
<line x1="503.50" y1="159.60" x2="503.50" y2="162.60" stroke="#555" stroke-width="0.8" />
<line x1="543.09" y1="159.60" x2="543.09" y2="161.20" stroke="#555" stroke-width="0.8" />
<line x1="566.24" y1="159.60" x2="566.24" y2="161.20" stroke="#555" stroke-width="0.8" />
<line x1="582.67" y1="159.60" x2="582.67" y2="161.20" stroke="#555" stroke-width="0.8" />
<line x1="595.41" y1="159.60" x2="595.41" y2="161.20" stroke="#555" stroke-width="0.8" />
<line x1="605.83" y1="159.60" x2="605.83" y2="161.20" stroke="#555" stroke-width="0.8" />
<line x1="614.63" y1="159.60" x2="614.63" y2="161.20" stroke="#555" stroke-width="0.8" />
<line x1="622.26" y1="159.60" x2="622.26" y2="161.20" stroke="#555" stroke-width="0.8" />
<line x1="628.98" y1="159.60" x2="628.98" y2="161.20" stroke="#555" stroke-width="0.8" />
<line x1="635.00" y1="159.60" x2="635.00" y2="162.60" stroke="#555" stroke-width="0.8" />
<line x1="674.59" y1="159.60" x2="674.59" y2="161.20" stroke="#555" stroke-width="0.8" />
<text x="503.50" y="173.80" font-size="10.2" text-anchor="middle" font-weight="normal" fill="#222" >10</text>
<text x="635.00" y="173.80" font-size="10.2" text-anchor="middle" font-weight="normal" fill="#222" >100</text>
<polyline points="499.97,46.50 540.16,56.80 586.27,57.30 628.98,53.30 671.35,60.40" fill="none" stroke="#c8c8c8" stroke-width="1.3"/>
<polyline points="499.97,52.50 540.16,52.40 586.27,57.00 628.98,57.60 671.35,57.60" fill="none" stroke="#808080" stroke-width="1.1" stroke-dasharray="4,3"/>
<polyline points="499.97,47.50 540.16,41.00 586.27,41.50 628.98,44.90 671.35,39.70" fill="none" stroke="#444" stroke-width="1.0" stroke-dasharray="1.1,3.8"/>
<line x1="499.97" y1="42.50" x2="499.97" y2="50.50" stroke="#bbb" stroke-width="0.7" />
<line x1="498.17" y1="42.50" x2="501.77" y2="42.50" stroke="#bbb" stroke-width="0.7" />
<line x1="498.17" y1="50.50" x2="501.77" y2="50.50" stroke="#bbb" stroke-width="0.7" />
<line x1="540.16" y1="52.80" x2="540.16" y2="60.80" stroke="#bbb" stroke-width="0.7" />
<line x1="538.36" y1="52.80" x2="541.96" y2="52.80" stroke="#bbb" stroke-width="0.7" />
<line x1="538.36" y1="60.80" x2="541.96" y2="60.80" stroke="#bbb" stroke-width="0.7" />
<line x1="586.27" y1="53.30" x2="586.27" y2="61.30" stroke="#bbb" stroke-width="0.7" />
<line x1="584.47" y1="53.30" x2="588.07" y2="53.30" stroke="#bbb" stroke-width="0.7" />
<line x1="584.47" y1="61.30" x2="588.07" y2="61.30" stroke="#bbb" stroke-width="0.7" />
<line x1="628.98" y1="49.30" x2="628.98" y2="57.30" stroke="#bbb" stroke-width="0.7" />
<line x1="627.18" y1="49.30" x2="630.78" y2="49.30" stroke="#bbb" stroke-width="0.7" />
<line x1="627.18" y1="57.30" x2="630.78" y2="57.30" stroke="#bbb" stroke-width="0.7" />
<line x1="671.35" y1="56.40" x2="671.35" y2="64.40" stroke="#bbb" stroke-width="0.7" />
<line x1="669.55" y1="56.40" x2="673.15" y2="56.40" stroke="#bbb" stroke-width="0.7" />
<line x1="669.55" y1="64.40" x2="673.15" y2="64.40" stroke="#bbb" stroke-width="0.7" />
<line x1="499.97" y1="48.00" x2="499.97" y2="57.00" stroke="#888" stroke-width="0.7" />
<line x1="498.17" y1="48.00" x2="501.77" y2="48.00" stroke="#888" stroke-width="0.7" />
<line x1="498.17" y1="57.00" x2="501.77" y2="57.00" stroke="#888" stroke-width="0.7" />
<line x1="540.16" y1="47.90" x2="540.16" y2="56.90" stroke="#888" stroke-width="0.7" />
<line x1="538.36" y1="47.90" x2="541.96" y2="47.90" stroke="#888" stroke-width="0.7" />
<line x1="538.36" y1="56.90" x2="541.96" y2="56.90" stroke="#888" stroke-width="0.7" />
<line x1="586.27" y1="52.50" x2="586.27" y2="61.50" stroke="#888" stroke-width="0.7" />
<line x1="584.47" y1="52.50" x2="588.07" y2="52.50" stroke="#888" stroke-width="0.7" />
<line x1="584.47" y1="61.50" x2="588.07" y2="61.50" stroke="#888" stroke-width="0.7" />
<line x1="628.98" y1="53.10" x2="628.98" y2="62.10" stroke="#888" stroke-width="0.7" />
<line x1="627.18" y1="53.10" x2="630.78" y2="53.10" stroke="#888" stroke-width="0.7" />
<line x1="627.18" y1="62.10" x2="630.78" y2="62.10" stroke="#888" stroke-width="0.7" />
<line x1="671.35" y1="53.10" x2="671.35" y2="62.10" stroke="#888" stroke-width="0.7" />
<line x1="669.55" y1="53.10" x2="673.15" y2="53.10" stroke="#888" stroke-width="0.7" />
<line x1="669.55" y1="62.10" x2="673.15" y2="62.10" stroke="#888" stroke-width="0.7" />
<rect x="497.87" y="45.40" width="4.20" height="4.20" fill="none" stroke="#222" stroke-width="1.25"/>
<circle cx="540.16" cy="41.00" r="3.30" fill="none" stroke="#222" stroke-width="1.25"/>
<polygon points="586.27,38.27 589.73,43.88 582.80,43.88" fill="none" stroke="#222" stroke-width="1.25"/>
<polygon points="628.98,48.13 632.45,42.52 625.52,42.52" fill="none" stroke="#222" stroke-width="1.25"/>
<polygon points="671.35,35.61 675.45,39.70 671.35,43.79 667.26,39.70" fill="none" stroke="#222" stroke-width="1.25"/>
<rect x="496.67" y="43.20" width="6.60" height="6.60" fill="#bdbdbd" stroke="none" stroke-width="1"/>
<circle cx="540.16" cy="56.80" r="3.30" fill="#bdbdbd" stroke="none" stroke-width="1"/>
<polygon points="586.27,54.07 589.73,59.68 582.80,59.68" fill="#bdbdbd" stroke="none" stroke-width="1"/>
<polygon points="628.98,56.53 632.45,50.92 625.52,50.92" fill="#bdbdbd" stroke="none" stroke-width="1"/>
<polygon points="671.35,56.31 675.45,60.40 671.35,64.49 667.26,60.40" fill="#bdbdbd" stroke="none" stroke-width="1"/>
<clipPath id="c1811"><rect x="493.57" y="52.50" width="12.80" height="6.40"/></clipPath>
<rect x="496.77" y="49.30" width="6.40" height="6.40" fill="white" stroke="none"/>
<rect x="496.77" y="49.30" width="6.40" height="6.40" fill="#7a7a7a" stroke="none" clip-path="url(#c1811)"/>
<rect x="496.77" y="49.30" width="6.40" height="6.40" fill="none" stroke="#6a6a6a" stroke-width="0.9"/>
<clipPath id="c1815"><rect x="533.76" y="52.40" width="12.80" height="6.40"/></clipPath>
<circle cx="540.16" cy="52.40" r="3.20" fill="white" stroke="none"/>
<circle cx="540.16" cy="52.40" r="3.20" fill="#7a7a7a" stroke="none" clip-path="url(#c1815)"/>
<circle cx="540.16" cy="52.40" r="3.20" fill="none" stroke="#6a6a6a" stroke-width="0.9"/>
<clipPath id="c1819"><rect x="579.87" y="57.00" width="12.80" height="6.40"/></clipPath>
<polygon points="586.27,53.87 589.63,59.31 582.91,59.31" fill="white" stroke="none"/>
<polygon points="586.27,53.87 589.63,59.31 582.91,59.31" fill="#7a7a7a" stroke="none" clip-path="url(#c1819)"/>
<polygon points="586.27,53.87 589.63,59.31 582.91,59.31" fill="none" stroke="#6a6a6a" stroke-width="0.9"/>
<clipPath id="c1823"><rect x="622.58" y="57.60" width="12.80" height="6.40"/></clipPath>
<polygon points="628.98,60.73 632.34,55.29 625.62,55.29" fill="white" stroke="none"/>
<polygon points="628.98,60.73 632.34,55.29 625.62,55.29" fill="#7a7a7a" stroke="none" clip-path="url(#c1823)"/>
<polygon points="628.98,60.73 632.34,55.29 625.62,55.29" fill="none" stroke="#6a6a6a" stroke-width="0.9"/>
<clipPath id="c1827"><rect x="664.95" y="57.60" width="12.80" height="6.40"/></clipPath>
<polygon points="671.35,53.63 675.32,57.60 671.35,61.57 667.39,57.60" fill="white" stroke="none"/>
<polygon points="671.35,53.63 675.32,57.60 671.35,61.57 667.39,57.60" fill="#7a7a7a" stroke="none" clip-path="url(#c1827)"/>
<polygon points="671.35,53.63 675.32,57.60 671.35,61.57 667.39,57.60" fill="none" stroke="#6a6a6a" stroke-width="0.9"/>
<line x1="491.00" y1="120.00" x2="517.50" y2="120.00" stroke="#555" stroke-width="1.1" stroke-dasharray="1.2,3.7"/>
<rect x="500.5" y="116" width="9" height="9" fill="#fff"/>
<rect x="501.25" y="116.55" width="7.50" height="7.50" fill="none" stroke="#222" stroke-width="1.4"/>
<line x1="491.00" y1="135.00" x2="517.50" y2="135.00" stroke="#cfcfcf" stroke-width="1.0" />
<rect x="500.75" y="130.95" width="8.50" height="8.50" fill="#c0c0c0" stroke="none" stroke-width="1"/>
<line x1="491.00" y1="149.50" x2="496.00" y2="149.50" stroke="#777" stroke-width="1.1" />
<line x1="511.50" y1="149.50" x2="516.00" y2="149.50" stroke="#777" stroke-width="1.1" />
<clipPath id="c1838"><rect x="496.70" y="149.40" width="16.60" height="8.30"/></clipPath>
<rect x="500.85" y="145.25" width="8.30" height="8.30" fill="white" stroke="none"/>
<rect x="500.85" y="145.25" width="8.30" height="8.30" fill="#777" stroke="none" clip-path="url(#c1838)"/>
<rect x="500.85" y="145.25" width="8.30" height="8.30" fill="none" stroke="#777" stroke-width="0.9"/>
<text x="521.00" y="124.30" font-size="12.2" text-anchor="start" font-weight="normal" fill="#222" >0.5:0</text>
<text x="521.00" y="139.30" font-size="12.2" text-anchor="start" font-weight="normal" fill="#222" >0.65:0</text>
<text x="521.00" y="154.30" font-size="12.2" text-anchor="start" font-weight="normal" fill="#222" >0.5:6.4</text>
<text x="452.90" y="21.20" font-size="23.5" text-anchor="start" font-weight="normal" fill="#2a2a2a" >(b)</text>
<text transform="translate(460.5,79.7) rotate(-90)" text-anchor="middle" fill="#111"><tspan font-size="18.5">&lt;</tspan><tspan font-family="Liberation Serif" font-size="18" dy="-1.8">β</tspan><tspan font-size="10" font-weight="bold" dy="5.0">2</tspan><tspan font-size="18.5" dy="-3.2">&gt;</tspan></text>
<text x="563.50" y="185.40" font-family="Liberation Serif" font-size="17" fill="#111">γ</text>
<text x="576.90" y="185.40" font-size="17.6" font-weight="bold" fill="#111">(</text>
<text x="582.50" y="185.40" font-size="17" font-weight="bold" fill="#111">s</text>
<text x="592.10" y="177.80" font-size="12.8" font-weight="bold" fill="#111">-1</text>
<text x="604.10" y="185.40" font-size="17.6" font-weight="bold" fill="#111">)</text>
<circle cx="567.80" cy="169.80" r="1.1" fill="#111"/>
<line x1="43.00" y1="196.70" x2="684.00" y2="196.70" stroke="#555" stroke-width="1.4" />
<line x1="43.50" y1="368.50" x2="683.50" y2="368.50" stroke="#555" stroke-width="1" />
<line x1="43.50" y1="196.70" x2="43.50" y2="368.50" stroke="#555" stroke-width="1" />
<line x1="256.60" y1="196.70" x2="256.60" y2="368.50" stroke="#555" stroke-width="1" />
<line x1="470.00" y1="196.70" x2="470.00" y2="368.50" stroke="#555" stroke-width="1" />
<line x1="683.50" y1="196.70" x2="683.50" y2="368.50" stroke="#666" stroke-width="1.1" />
<line x1="43.50" y1="368.50" x2="40.00" y2="368.50" stroke="#555" stroke-width="0.8" />
<line x1="43.50" y1="351.25" x2="41.70" y2="351.25" stroke="#555" stroke-width="0.8" />
<line x1="43.50" y1="334.00" x2="40.00" y2="334.00" stroke="#555" stroke-width="0.8" />
<line x1="43.50" y1="316.75" x2="41.70" y2="316.75" stroke="#555" stroke-width="0.8" />
<line x1="43.50" y1="299.50" x2="40.00" y2="299.50" stroke="#555" stroke-width="0.8" />
<line x1="43.50" y1="282.25" x2="41.70" y2="282.25" stroke="#555" stroke-width="0.8" />
<line x1="43.50" y1="265.00" x2="40.00" y2="265.00" stroke="#555" stroke-width="0.8" />
<line x1="43.50" y1="247.75" x2="41.70" y2="247.75" stroke="#555" stroke-width="0.8" />
<line x1="43.50" y1="230.50" x2="40.00" y2="230.50" stroke="#555" stroke-width="0.8" />
<line x1="43.50" y1="213.25" x2="41.70" y2="213.25" stroke="#555" stroke-width="0.8" />
<line x1="48.08" y1="368.50" x2="48.08" y2="370.10" stroke="#555" stroke-width="0.8" />
<line x1="55.27" y1="368.50" x2="55.27" y2="370.10" stroke="#555" stroke-width="0.8" />
<line x1="61.70" y1="368.50" x2="61.70" y2="371.50" stroke="#555" stroke-width="0.8" />
<line x1="103.99" y1="368.50" x2="103.99" y2="370.10" stroke="#555" stroke-width="0.8" />
<line x1="128.74" y1="368.50" x2="128.74" y2="370.10" stroke="#555" stroke-width="0.8" />
<line x1="146.29" y1="368.50" x2="146.29" y2="370.10" stroke="#555" stroke-width="0.8" />
<line x1="159.91" y1="368.50" x2="159.91" y2="370.10" stroke="#555" stroke-width="0.8" />
<line x1="171.03" y1="368.50" x2="171.03" y2="370.10" stroke="#555" stroke-width="0.8" />
<line x1="180.44" y1="368.50" x2="180.44" y2="370.10" stroke="#555" stroke-width="0.8" />
<line x1="188.58" y1="368.50" x2="188.58" y2="370.10" stroke="#555" stroke-width="0.8" />
<line x1="195.77" y1="368.50" x2="195.77" y2="370.10" stroke="#555" stroke-width="0.8" />
<line x1="202.20" y1="368.50" x2="202.20" y2="371.50" stroke="#555" stroke-width="0.8" />
<line x1="244.49" y1="368.50" x2="244.49" y2="370.10" stroke="#555" stroke-width="0.8" />
<text x="61.70" y="383.30" font-size="11.0" text-anchor="middle" font-weight="normal" fill="#222" >10</text>
<text x="202.20" y="383.30" font-size="11.0" text-anchor="middle" font-weight="normal" fill="#222" >100</text>
<line x1="256.60" y1="368.50" x2="253.10" y2="368.50" stroke="#555" stroke-width="0.8" />
<line x1="256.60" y1="351.25" x2="254.80" y2="351.25" stroke="#555" stroke-width="0.8" />
<line x1="256.60" y1="334.00" x2="253.10" y2="334.00" stroke="#555" stroke-width="0.8" />
<line x1="256.60" y1="316.75" x2="254.80" y2="316.75" stroke="#555" stroke-width="0.8" />
<line x1="256.60" y1="299.50" x2="253.10" y2="299.50" stroke="#555" stroke-width="0.8" />
<line x1="256.60" y1="282.25" x2="254.80" y2="282.25" stroke="#555" stroke-width="0.8" />
<line x1="256.60" y1="265.00" x2="253.10" y2="265.00" stroke="#555" stroke-width="0.8" />
<line x1="256.60" y1="247.75" x2="254.80" y2="247.75" stroke="#555" stroke-width="0.8" />
<line x1="256.60" y1="230.50" x2="253.10" y2="230.50" stroke="#555" stroke-width="0.8" />
<line x1="256.60" y1="213.25" x2="254.80" y2="213.25" stroke="#555" stroke-width="0.8" />
<line x1="261.68" y1="368.50" x2="261.68" y2="370.10" stroke="#555" stroke-width="0.8" />
<line x1="268.87" y1="368.50" x2="268.87" y2="370.10" stroke="#555" stroke-width="0.8" />
<line x1="275.30" y1="368.50" x2="275.30" y2="371.50" stroke="#555" stroke-width="0.8" />
<line x1="317.59" y1="368.50" x2="317.59" y2="370.10" stroke="#555" stroke-width="0.8" />
<line x1="342.34" y1="368.50" x2="342.34" y2="370.10" stroke="#555" stroke-width="0.8" />
<line x1="359.89" y1="368.50" x2="359.89" y2="370.10" stroke="#555" stroke-width="0.8" />
<line x1="373.51" y1="368.50" x2="373.51" y2="370.10" stroke="#555" stroke-width="0.8" />
<line x1="384.63" y1="368.50" x2="384.63" y2="370.10" stroke="#555" stroke-width="0.8" />
<line x1="394.04" y1="368.50" x2="394.04" y2="370.10" stroke="#555" stroke-width="0.8" />
<line x1="402.18" y1="368.50" x2="402.18" y2="370.10" stroke="#555" stroke-width="0.8" />
<line x1="409.37" y1="368.50" x2="409.37" y2="370.10" stroke="#555" stroke-width="0.8" />
<line x1="415.80" y1="368.50" x2="415.80" y2="371.50" stroke="#555" stroke-width="0.8" />
<line x1="458.09" y1="368.50" x2="458.09" y2="370.10" stroke="#555" stroke-width="0.8" />
<text x="275.30" y="383.30" font-size="11.0" text-anchor="middle" font-weight="normal" fill="#222" >10</text>
<text x="415.80" y="383.30" font-size="11.0" text-anchor="middle" font-weight="normal" fill="#222" >100</text>
<line x1="470.00" y1="368.50" x2="466.50" y2="368.50" stroke="#555" stroke-width="0.8" />
<line x1="470.00" y1="351.25" x2="468.20" y2="351.25" stroke="#555" stroke-width="0.8" />
<line x1="470.00" y1="334.00" x2="466.50" y2="334.00" stroke="#555" stroke-width="0.8" />
<line x1="470.00" y1="316.75" x2="468.20" y2="316.75" stroke="#555" stroke-width="0.8" />
<line x1="470.00" y1="299.50" x2="466.50" y2="299.50" stroke="#555" stroke-width="0.8" />
<line x1="470.00" y1="282.25" x2="468.20" y2="282.25" stroke="#555" stroke-width="0.8" />
<line x1="470.00" y1="265.00" x2="466.50" y2="265.00" stroke="#555" stroke-width="0.8" />
<line x1="470.00" y1="247.75" x2="468.20" y2="247.75" stroke="#555" stroke-width="0.8" />
<line x1="470.00" y1="230.50" x2="466.50" y2="230.50" stroke="#555" stroke-width="0.8" />
<line x1="470.00" y1="213.25" x2="468.20" y2="213.25" stroke="#555" stroke-width="0.8" />
<line x1="475.38" y1="368.50" x2="475.38" y2="370.10" stroke="#555" stroke-width="0.8" />
<line x1="482.57" y1="368.50" x2="482.57" y2="370.10" stroke="#555" stroke-width="0.8" />
<line x1="489.00" y1="368.50" x2="489.00" y2="371.50" stroke="#555" stroke-width="0.8" />
<line x1="531.29" y1="368.50" x2="531.29" y2="370.10" stroke="#555" stroke-width="0.8" />
<line x1="556.04" y1="368.50" x2="556.04" y2="370.10" stroke="#555" stroke-width="0.8" />
<line x1="573.59" y1="368.50" x2="573.59" y2="370.10" stroke="#555" stroke-width="0.8" />
<line x1="587.21" y1="368.50" x2="587.21" y2="370.10" stroke="#555" stroke-width="0.8" />
<line x1="598.33" y1="368.50" x2="598.33" y2="370.10" stroke="#555" stroke-width="0.8" />
<line x1="607.74" y1="368.50" x2="607.74" y2="370.10" stroke="#555" stroke-width="0.8" />
<line x1="615.88" y1="368.50" x2="615.88" y2="370.10" stroke="#555" stroke-width="0.8" />
<line x1="623.07" y1="368.50" x2="623.07" y2="370.10" stroke="#555" stroke-width="0.8" />
<line x1="629.50" y1="368.50" x2="629.50" y2="371.50" stroke="#555" stroke-width="0.8" />
<line x1="671.79" y1="368.50" x2="671.79" y2="370.10" stroke="#555" stroke-width="0.8" />
<text x="489.00" y="383.30" font-size="11.0" text-anchor="middle" font-weight="normal" fill="#222" >10</text>
<text x="629.50" y="383.30" font-size="11.0" text-anchor="middle" font-weight="normal" fill="#222" >100</text>
<line x1="683.50" y1="368.50" x2="681.50" y2="368.50" stroke="#555" stroke-width="0.8" />
<line x1="683.50" y1="351.25" x2="682.00" y2="351.25" stroke="#555" stroke-width="0.8" />
<line x1="683.50" y1="334.00" x2="681.50" y2="334.00" stroke="#555" stroke-width="0.8" />
<line x1="683.50" y1="316.75" x2="682.00" y2="316.75" stroke="#555" stroke-width="0.8" />
<line x1="683.50" y1="299.50" x2="681.50" y2="299.50" stroke="#555" stroke-width="0.8" />
<line x1="683.50" y1="282.25" x2="682.00" y2="282.25" stroke="#555" stroke-width="0.8" />
<line x1="683.50" y1="265.00" x2="681.50" y2="265.00" stroke="#555" stroke-width="0.8" />
<line x1="683.50" y1="247.75" x2="682.00" y2="247.75" stroke="#555" stroke-width="0.8" />
<line x1="683.50" y1="230.50" x2="681.50" y2="230.50" stroke="#555" stroke-width="0.8" />
<line x1="683.50" y1="213.25" x2="682.00" y2="213.25" stroke="#555" stroke-width="0.8" />
<text x="37.60" y="373.00" font-size="11.4" text-anchor="end" font-weight="normal" fill="#222" >1.0</text>
<text x="37.60" y="338.50" font-size="11.4" text-anchor="end" font-weight="normal" fill="#222" >1.5</text>
<text x="37.60" y="304.00" font-size="11.4" text-anchor="end" font-weight="normal" fill="#222" >2.0</text>
<text x="37.60" y="269.50" font-size="11.4" text-anchor="end" font-weight="normal" fill="#222" >2.5</text>
<text x="37.60" y="235.00" font-size="11.4" text-anchor="end" font-weight="normal" fill="#222" >3.0</text>
<polyline points="57.92,268.70 100.86,331.80 150.13,331.80 195.77,317.20 241.04,307.50" fill="none" stroke="#FF2A2A" stroke-width="1.3" stroke-dasharray="1.3,3.4"/>
<polyline points="57.92,252.30 100.86,311.70 150.13,315.00 195.77,288.00 241.04,297.80" fill="none" stroke="#FF9933" stroke-width="1.3" stroke-dasharray="1.3,3.4"/>
<polyline points="57.92,246.40 100.86,290.30 150.13,293.90 195.77,262.10 241.04,276.70" fill="none" stroke="#33EE33" stroke-width="1.3" stroke-dasharray="1.3,3.4"/>
<polyline points="57.92,258.10 100.86,257.30 150.13,256.60 195.77,239.40 241.04,242.70" fill="none" stroke="#33EEFF" stroke-width="1.3" stroke-dasharray="1.3,3.4"/>
<polyline points="57.92,239.40 100.86,245.30 150.13,232.30 195.77,241.00 241.04,242.70" fill="none" stroke="#FF33FF" stroke-width="1.3" stroke-dasharray="1.3,3.4"/>
<line x1="100.86" y1="326.80" x2="100.86" y2="336.80" stroke="#FF5050" stroke-width="0.9" />
<line x1="98.66" y1="326.80" x2="103.06" y2="326.80" stroke="#FF5050" stroke-width="0.9" />
<line x1="98.66" y1="336.80" x2="103.06" y2="336.80" stroke="#FF5050" stroke-width="0.9" />
<line x1="150.13" y1="325.80" x2="150.13" y2="337.80" stroke="#FF2020" stroke-width="0.9" />
<line x1="147.93" y1="325.80" x2="152.33" y2="325.80" stroke="#FF2020" stroke-width="0.9" />
<line x1="147.93" y1="337.80" x2="152.33" y2="337.80" stroke="#FF2020" stroke-width="0.9" />
<rect x="55.42" y="266.20" width="5.00" height="5.00" fill="#fff" stroke="#FF8080" stroke-width="1.1"/>
<circle cx="100.86" cy="331.80" r="2.80" fill="#fff" stroke="#FF5050" stroke-width="1.1"/>
<polygon points="150.13,328.57 153.60,334.18 146.67,334.18" fill="#fff" stroke="#FF2020" stroke-width="1.1"/>
<polygon points="195.77,320.43 199.24,314.82 192.31,314.82" fill="#fff" stroke="#F00000" stroke-width="1.1"/>
<polygon points="241.04,304.03 244.51,307.50 241.04,310.97 237.57,307.50" fill="#fff" stroke="#C80000" stroke-width="1.1"/>
<line x1="57.92" y1="249.30" x2="57.92" y2="255.30" stroke="#FFC090" stroke-width="0.9" />
<line x1="55.72" y1="249.30" x2="60.12" y2="249.30" stroke="#FFC090" stroke-width="0.9" />
<line x1="55.72" y1="255.30" x2="60.12" y2="255.30" stroke="#FFC090" stroke-width="0.9" />
<line x1="241.04" y1="294.80" x2="241.04" y2="300.80" stroke="#CC6A10" stroke-width="0.9" />
<line x1="238.84" y1="294.80" x2="243.24" y2="294.80" stroke="#CC6A10" stroke-width="0.9" />
<line x1="238.84" y1="300.80" x2="243.24" y2="300.80" stroke="#CC6A10" stroke-width="0.9" />
<rect x="55.42" y="249.80" width="5.00" height="5.00" fill="#fff" stroke="#FFC090" stroke-width="1.1"/>
<circle cx="100.86" cy="311.70" r="2.80" fill="#fff" stroke="#FFAA55" stroke-width="1.1"/>
<polygon points="150.13,311.77 153.60,317.38 146.67,317.38" fill="#fff" stroke="#FF9930" stroke-width="1.1"/>
<polygon points="195.77,291.23 199.24,285.62 192.31,285.62" fill="#fff" stroke="#FF8C1A" stroke-width="1.1"/>
<polygon points="241.04,294.33 244.51,297.80 241.04,301.27 237.57,297.80" fill="#fff" stroke="#CC6A10" stroke-width="1.1"/>
<line x1="57.92" y1="243.40" x2="57.92" y2="249.40" stroke="#90F090" stroke-width="0.9" />
<line x1="55.72" y1="243.40" x2="60.12" y2="243.40" stroke="#90F090" stroke-width="0.9" />
<line x1="55.72" y1="249.40" x2="60.12" y2="249.40" stroke="#90F090" stroke-width="0.9" />
<rect x="55.42" y="243.90" width="5.00" height="5.00" fill="#fff" stroke="#90F090" stroke-width="1.1"/>
<circle cx="100.86" cy="290.30" r="2.80" fill="#fff" stroke="#55EE55" stroke-width="1.1"/>
<polygon points="150.13,290.67 153.60,296.28 146.67,296.28" fill="#fff" stroke="#30E830" stroke-width="1.1"/>
<polygon points="195.77,265.33 199.24,259.72 192.31,259.72" fill="#fff" stroke="#18E018" stroke-width="1.1"/>
<polygon points="241.04,273.23 244.51,276.70 241.04,280.17 237.57,276.70" fill="#fff" stroke="#10B810" stroke-width="1.1"/>
<line x1="57.92" y1="255.10" x2="57.92" y2="261.10" stroke="#90F0FF" stroke-width="0.9" />
<line x1="55.72" y1="255.10" x2="60.12" y2="255.10" stroke="#90F0FF" stroke-width="0.9" />
<line x1="55.72" y1="261.10" x2="60.12" y2="261.10" stroke="#90F0FF" stroke-width="0.9" />
<line x1="100.86" y1="253.30" x2="100.86" y2="261.30" stroke="#55EEFF" stroke-width="0.9" />
<line x1="98.66" y1="253.30" x2="103.06" y2="253.30" stroke="#55EEFF" stroke-width="0.9" />
<line x1="98.66" y1="261.30" x2="103.06" y2="261.30" stroke="#55EEFF" stroke-width="0.9" />
<line x1="195.77" y1="234.90" x2="195.77" y2="243.90" stroke="#18E0F8" stroke-width="0.9" />
<line x1="193.57" y1="234.90" x2="197.97" y2="234.90" stroke="#18E0F8" stroke-width="0.9" />
<line x1="193.57" y1="243.90" x2="197.97" y2="243.90" stroke="#18E0F8" stroke-width="0.9" />
<line x1="241.04" y1="239.70" x2="241.04" y2="245.70" stroke="#10C0C8" stroke-width="0.9" />
<line x1="238.84" y1="239.70" x2="243.24" y2="239.70" stroke="#10C0C8" stroke-width="0.9" />
<line x1="238.84" y1="245.70" x2="243.24" y2="245.70" stroke="#10C0C8" stroke-width="0.9" />
<rect x="55.42" y="255.60" width="5.00" height="5.00" fill="#fff" stroke="#90F0FF" stroke-width="1.1"/>
<circle cx="100.86" cy="257.30" r="2.80" fill="#fff" stroke="#55EEFF" stroke-width="1.1"/>
<polygon points="150.13,253.37 153.60,258.98 146.67,258.98" fill="#fff" stroke="#30E8FF" stroke-width="1.1"/>
<polygon points="195.77,242.63 199.24,237.02 192.31,237.02" fill="#fff" stroke="#18E0F8" stroke-width="1.1"/>
<polygon points="241.04,239.23 244.51,242.70 241.04,246.17 237.57,242.70" fill="#fff" stroke="#10C0C8" stroke-width="1.1"/>
<line x1="57.92" y1="236.40" x2="57.92" y2="242.40" stroke="#FF90FF" stroke-width="0.9" />
<line x1="55.72" y1="236.40" x2="60.12" y2="236.40" stroke="#FF90FF" stroke-width="0.9" />
<line x1="55.72" y1="242.40" x2="60.12" y2="242.40" stroke="#FF90FF" stroke-width="0.9" />
<line x1="100.86" y1="239.80" x2="100.86" y2="250.80" stroke="#FF55FF" stroke-width="0.9" />
<line x1="98.66" y1="239.80" x2="103.06" y2="239.80" stroke="#FF55FF" stroke-width="0.9" />
<line x1="98.66" y1="250.80" x2="103.06" y2="250.80" stroke="#FF55FF" stroke-width="0.9" />
<line x1="150.13" y1="228.30" x2="150.13" y2="236.30" stroke="#FF30FF" stroke-width="0.9" />
<line x1="147.93" y1="228.30" x2="152.33" y2="228.30" stroke="#FF30FF" stroke-width="0.9" />
<line x1="147.93" y1="236.30" x2="152.33" y2="236.30" stroke="#FF30FF" stroke-width="0.9" />
<line x1="195.77" y1="234.50" x2="195.77" y2="247.50" stroke="#F018F0" stroke-width="0.9" />
<line x1="193.57" y1="234.50" x2="197.97" y2="234.50" stroke="#F018F0" stroke-width="0.9" />
<line x1="193.57" y1="247.50" x2="197.97" y2="247.50" stroke="#F018F0" stroke-width="0.9" />
<line x1="241.04" y1="237.20" x2="241.04" y2="248.20" stroke="#C800C8" stroke-width="0.9" />
<line x1="238.84" y1="237.20" x2="243.24" y2="237.20" stroke="#C800C8" stroke-width="0.9" />
<line x1="238.84" y1="248.20" x2="243.24" y2="248.20" stroke="#C800C8" stroke-width="0.9" />
<rect x="55.42" y="236.90" width="5.00" height="5.00" fill="#fff" stroke="#FF90FF" stroke-width="1.1"/>
<circle cx="100.86" cy="245.30" r="2.80" fill="#fff" stroke="#FF55FF" stroke-width="1.1"/>
<polygon points="150.13,229.07 153.60,234.68 146.67,234.68" fill="#fff" stroke="#FF30FF" stroke-width="1.1"/>
<polygon points="195.77,244.23 199.24,238.62 192.31,238.62" fill="#fff" stroke="#F018F0" stroke-width="1.1"/>
<polygon points="241.04,239.23 244.51,242.70 241.04,246.17 237.57,242.70" fill="#fff" stroke="#C800C8" stroke-width="1.1"/>
<polyline points="271.52,316.70 314.46,338.00 363.73,359.00 409.37,330.00 454.64,328.70" fill="none" stroke="#FF2A2A" stroke-width="1.05"/>
<polyline points="271.52,282.40 314.46,290.70 363.73,323.20 409.37,311.20 454.64,298.70" fill="none" stroke="#FF9933" stroke-width="1.05"/>
<polyline points="271.52,263.30 314.46,262.10 363.73,291.50 409.37,284.50 454.64,270.20" fill="none" stroke="#33EE33" stroke-width="1.05"/>
<polyline points="271.52,244.50 314.46,219.50 363.73,253.50 409.37,217.50 454.64,231.10" fill="none" stroke="#33EEFF" stroke-width="1.05"/>
<polyline points="271.52,225.30 314.46,243.40 363.73,230.70 409.37,228.80 454.64,206.50" fill="none" stroke="#FF33FF" stroke-width="1.05"/>
<line x1="271.52" y1="310.70" x2="271.52" y2="322.70" stroke="#FF8080" stroke-width="0.9" />
<line x1="269.32" y1="310.70" x2="273.72" y2="310.70" stroke="#FF8080" stroke-width="0.9" />
<line x1="269.32" y1="322.70" x2="273.72" y2="322.70" stroke="#FF8080" stroke-width="0.9" />
<line x1="363.73" y1="355.00" x2="363.73" y2="363.00" stroke="#FF2020" stroke-width="0.9" />
<line x1="361.53" y1="355.00" x2="365.93" y2="355.00" stroke="#FF2020" stroke-width="0.9" />
<line x1="361.53" y1="363.00" x2="365.93" y2="363.00" stroke="#FF2020" stroke-width="0.9" />
<line x1="409.37" y1="327.00" x2="409.37" y2="333.00" stroke="#F00000" stroke-width="0.9" />
<line x1="407.17" y1="327.00" x2="411.57" y2="327.00" stroke="#F00000" stroke-width="0.9" />
<line x1="407.17" y1="333.00" x2="411.57" y2="333.00" stroke="#F00000" stroke-width="0.9" />
<line x1="454.64" y1="326.20" x2="454.64" y2="331.20" stroke="#C80000" stroke-width="0.9" />
<line x1="452.44" y1="326.20" x2="456.84" y2="326.20" stroke="#C80000" stroke-width="0.9" />
<line x1="452.44" y1="331.20" x2="456.84" y2="331.20" stroke="#C80000" stroke-width="0.9" />
<rect x="267.82" y="313.00" width="7.40" height="7.40" fill="#FF8080" stroke="none" stroke-width="1"/>
<circle cx="314.46" cy="338.00" r="3.90" fill="#FF5050" stroke="none" stroke-width="1"/>
<polygon points="363.73,354.70 368.35,362.18 359.11,362.18" fill="#FF2020" stroke="none" stroke-width="1"/>
<polygon points="409.37,334.30 413.99,326.82 404.75,326.82" fill="#F00000" stroke="none" stroke-width="1"/>
<polygon points="454.64,324.11 459.23,328.70 454.64,333.29 450.05,328.70" fill="#C80000" stroke="none" stroke-width="1"/>
<line x1="271.52" y1="275.40" x2="271.52" y2="289.40" stroke="#FFC090" stroke-width="0.9" />
<line x1="269.32" y1="275.40" x2="273.72" y2="275.40" stroke="#FFC090" stroke-width="0.9" />
<line x1="269.32" y1="289.40" x2="273.72" y2="289.40" stroke="#FFC090" stroke-width="0.9" />
<line x1="314.46" y1="286.70" x2="314.46" y2="294.70" stroke="#FFAA55" stroke-width="0.9" />
<line x1="312.26" y1="286.70" x2="316.66" y2="286.70" stroke="#FFAA55" stroke-width="0.9" />
<line x1="312.26" y1="294.70" x2="316.66" y2="294.70" stroke="#FFAA55" stroke-width="0.9" />
<line x1="363.73" y1="320.20" x2="363.73" y2="326.20" stroke="#FF9930" stroke-width="0.9" />
<line x1="361.53" y1="320.20" x2="365.93" y2="320.20" stroke="#FF9930" stroke-width="0.9" />
<line x1="361.53" y1="326.20" x2="365.93" y2="326.20" stroke="#FF9930" stroke-width="0.9" />
<line x1="409.37" y1="308.20" x2="409.37" y2="314.20" stroke="#FF8C1A" stroke-width="0.9" />
<line x1="407.17" y1="308.20" x2="411.57" y2="308.20" stroke="#FF8C1A" stroke-width="0.9" />
<line x1="407.17" y1="314.20" x2="411.57" y2="314.20" stroke="#FF8C1A" stroke-width="0.9" />
<line x1="454.64" y1="293.70" x2="454.64" y2="303.70" stroke="#CC6A10" stroke-width="0.9" />
<line x1="452.44" y1="293.70" x2="456.84" y2="293.70" stroke="#CC6A10" stroke-width="0.9" />
<line x1="452.44" y1="303.70" x2="456.84" y2="303.70" stroke="#CC6A10" stroke-width="0.9" />
<rect x="267.82" y="278.70" width="7.40" height="7.40" fill="#FFC090" stroke="none" stroke-width="1"/>
<circle cx="314.46" cy="290.70" r="3.90" fill="#FFAA55" stroke="none" stroke-width="1"/>
<polygon points="363.73,318.90 368.35,326.38 359.11,326.38" fill="#FF9930" stroke="none" stroke-width="1"/>
<polygon points="409.37,315.50 413.99,308.02 404.75,308.02" fill="#FF8C1A" stroke="none" stroke-width="1"/>
<polygon points="454.64,294.11 459.23,298.70 454.64,303.29 450.05,298.70" fill="#CC6A10" stroke="none" stroke-width="1"/>
<line x1="271.52" y1="258.30" x2="271.52" y2="268.30" stroke="#90F090" stroke-width="0.9" />
<line x1="269.32" y1="258.30" x2="273.72" y2="258.30" stroke="#90F090" stroke-width="0.9" />
<line x1="269.32" y1="268.30" x2="273.72" y2="268.30" stroke="#90F090" stroke-width="0.9" />
<line x1="314.46" y1="257.60" x2="314.46" y2="266.60" stroke="#55EE55" stroke-width="0.9" />
<line x1="312.26" y1="257.60" x2="316.66" y2="257.60" stroke="#55EE55" stroke-width="0.9" />
<line x1="312.26" y1="266.60" x2="316.66" y2="266.60" stroke="#55EE55" stroke-width="0.9" />
<line x1="363.73" y1="288.50" x2="363.73" y2="294.50" stroke="#30E830" stroke-width="0.9" />
<line x1="361.53" y1="288.50" x2="365.93" y2="288.50" stroke="#30E830" stroke-width="0.9" />
<line x1="361.53" y1="294.50" x2="365.93" y2="294.50" stroke="#30E830" stroke-width="0.9" />
<line x1="409.37" y1="278.00" x2="409.37" y2="291.00" stroke="#18E018" stroke-width="0.9" />
<line x1="407.17" y1="278.00" x2="411.57" y2="278.00" stroke="#18E018" stroke-width="0.9" />
<line x1="407.17" y1="291.00" x2="411.57" y2="291.00" stroke="#18E018" stroke-width="0.9" />
<line x1="454.64" y1="266.20" x2="454.64" y2="274.20" stroke="#10B810" stroke-width="0.9" />
<line x1="452.44" y1="266.20" x2="456.84" y2="266.20" stroke="#10B810" stroke-width="0.9" />
<line x1="452.44" y1="274.20" x2="456.84" y2="274.20" stroke="#10B810" stroke-width="0.9" />
<rect x="267.82" y="259.60" width="7.40" height="7.40" fill="#90F090" stroke="none" stroke-width="1"/>
<circle cx="314.46" cy="262.10" r="3.90" fill="#55EE55" stroke="none" stroke-width="1"/>
<polygon points="363.73,287.20 368.35,294.68 359.11,294.68" fill="#30E830" stroke="none" stroke-width="1"/>
<polygon points="409.37,288.80 413.99,281.32 404.75,281.32" fill="#18E018" stroke="none" stroke-width="1"/>
<polygon points="454.64,265.61 459.23,270.20 454.64,274.79 450.05,270.20" fill="#10B810" stroke="none" stroke-width="1"/>
<line x1="271.52" y1="239.50" x2="271.52" y2="249.50" stroke="#90F0FF" stroke-width="0.9" />
<line x1="269.32" y1="239.50" x2="273.72" y2="239.50" stroke="#90F0FF" stroke-width="0.9" />
<line x1="269.32" y1="249.50" x2="273.72" y2="249.50" stroke="#90F0FF" stroke-width="0.9" />
<line x1="314.46" y1="213.20" x2="314.46" y2="225.80" stroke="#55EEFF" stroke-width="0.9" />
<line x1="312.26" y1="213.20" x2="316.66" y2="213.20" stroke="#55EEFF" stroke-width="0.9" />
<line x1="312.26" y1="225.80" x2="316.66" y2="225.80" stroke="#55EEFF" stroke-width="0.9" />
<line x1="363.73" y1="246.50" x2="363.73" y2="260.50" stroke="#30E8FF" stroke-width="0.9" />
<line x1="361.53" y1="246.50" x2="365.93" y2="246.50" stroke="#30E8FF" stroke-width="0.9" />
<line x1="361.53" y1="260.50" x2="365.93" y2="260.50" stroke="#30E8FF" stroke-width="0.9" />
<line x1="409.37" y1="211.50" x2="409.37" y2="223.50" stroke="#18E0F8" stroke-width="0.9" />
<line x1="407.17" y1="211.50" x2="411.57" y2="211.50" stroke="#18E0F8" stroke-width="0.9" />
<line x1="407.17" y1="223.50" x2="411.57" y2="223.50" stroke="#18E0F8" stroke-width="0.9" />
<line x1="454.64" y1="225.10" x2="454.64" y2="237.10" stroke="#10C0C8" stroke-width="0.9" />
<line x1="452.44" y1="225.10" x2="456.84" y2="225.10" stroke="#10C0C8" stroke-width="0.9" />
<line x1="452.44" y1="237.10" x2="456.84" y2="237.10" stroke="#10C0C8" stroke-width="0.9" />
<rect x="267.82" y="240.80" width="7.40" height="7.40" fill="#90F0FF" stroke="none" stroke-width="1"/>
<circle cx="314.46" cy="219.50" r="3.90" fill="#55EEFF" stroke="none" stroke-width="1"/>
<polygon points="363.73,249.20 368.35,256.68 359.11,256.68" fill="#30E8FF" stroke="none" stroke-width="1"/>
<polygon points="409.37,221.80 413.99,214.32 404.75,214.32" fill="#18E0F8" stroke="none" stroke-width="1"/>
<polygon points="454.64,226.51 459.23,231.10 454.64,235.69 450.05,231.10" fill="#10C0C8" stroke="none" stroke-width="1"/>
<line x1="314.46" y1="238.40" x2="314.46" y2="248.40" stroke="#FF55FF" stroke-width="0.9" />
<line x1="312.26" y1="238.40" x2="316.66" y2="238.40" stroke="#FF55FF" stroke-width="0.9" />
<line x1="312.26" y1="248.40" x2="316.66" y2="248.40" stroke="#FF55FF" stroke-width="0.9" />
<line x1="363.73" y1="223.70" x2="363.73" y2="237.70" stroke="#FF30FF" stroke-width="0.9" />
<line x1="361.53" y1="223.70" x2="365.93" y2="223.70" stroke="#FF30FF" stroke-width="0.9" />
<line x1="361.53" y1="237.70" x2="365.93" y2="237.70" stroke="#FF30FF" stroke-width="0.9" />
<line x1="409.37" y1="222.80" x2="409.37" y2="234.80" stroke="#F018F0" stroke-width="0.9" />
<line x1="407.17" y1="222.80" x2="411.57" y2="222.80" stroke="#F018F0" stroke-width="0.9" />
<line x1="407.17" y1="234.80" x2="411.57" y2="234.80" stroke="#F018F0" stroke-width="0.9" />
<line x1="454.64" y1="199.50" x2="454.64" y2="213.50" stroke="#C800C8" stroke-width="0.9" />
<line x1="452.44" y1="199.50" x2="456.84" y2="199.50" stroke="#C800C8" stroke-width="0.9" />
<line x1="452.44" y1="213.50" x2="456.84" y2="213.50" stroke="#C800C8" stroke-width="0.9" />
<rect x="267.82" y="221.60" width="7.40" height="7.40" fill="#FF90FF" stroke="none" stroke-width="1"/>
<circle cx="314.46" cy="243.40" r="3.90" fill="#FF55FF" stroke="none" stroke-width="1"/>
<polygon points="363.73,226.40 368.35,233.88 359.11,233.88" fill="#FF30FF" stroke="none" stroke-width="1"/>
<polygon points="409.37,233.10 413.99,225.62 404.75,225.62" fill="#F018F0" stroke="none" stroke-width="1"/>
<polygon points="454.64,201.91 459.23,206.50 454.64,211.09 450.05,206.50" fill="#C800C8" stroke="none" stroke-width="1"/>
<polyline points="485.22,294.30 528.16,330.70 577.43,331.00 623.07,334.80 668.34,332.70" fill="none" stroke="#FF2A2A" stroke-width="1.1" stroke-dasharray="4,3"/>
<polyline points="485.22,281.40 528.16,311.30 577.43,307.20 623.07,306.40 668.34,307.30" fill="none" stroke="#FF9933" stroke-width="1.1" stroke-dasharray="4,3"/>
<polyline points="485.22,274.80 528.16,289.80 577.43,283.50 623.07,282.40 668.34,289.30" fill="none" stroke="#33EE33" stroke-width="1.1" stroke-dasharray="4,3"/>
<polyline points="485.22,257.50 528.16,257.80 577.43,268.90 623.07,268.00 668.34,268.00" fill="none" stroke="#33EEFF" stroke-width="1.1" stroke-dasharray="4,3"/>
<polyline points="485.22,255.50 528.16,245.00 577.43,251.60 623.07,265.90 668.34,274.90" fill="none" stroke="#FF33FF" stroke-width="1.1" stroke-dasharray="4,3"/>
<line x1="528.16" y1="325.70" x2="528.16" y2="335.70" stroke="#FF5050" stroke-width="0.9" />
<line x1="525.96" y1="325.70" x2="530.36" y2="325.70" stroke="#FF5050" stroke-width="0.9" />
<line x1="525.96" y1="335.70" x2="530.36" y2="335.70" stroke="#FF5050" stroke-width="0.9" />
<line x1="577.43" y1="328.00" x2="577.43" y2="334.00" stroke="#FF2020" stroke-width="0.9" />
<line x1="575.23" y1="328.00" x2="579.63" y2="328.00" stroke="#FF2020" stroke-width="0.9" />
<line x1="575.23" y1="334.00" x2="579.63" y2="334.00" stroke="#FF2020" stroke-width="0.9" />
<clipPath id="c2131"><rect x="479.62" y="294.30" width="11.20" height="5.60"/></clipPath>
<rect x="482.42" y="291.50" width="5.60" height="5.60" fill="white" stroke="none"/>
<rect x="482.42" y="291.50" width="5.60" height="5.60" fill="#FF8080" stroke="none" clip-path="url(#c2131)"/>
<rect x="482.42" y="291.50" width="5.60" height="5.60" fill="none" stroke="#FF8080" stroke-width="1.0"/>
<clipPath id="c2135"><rect x="521.76" y="330.70" width="12.80" height="6.40"/></clipPath>
<circle cx="528.16" cy="330.70" r="3.20" fill="white" stroke="none"/>
<circle cx="528.16" cy="330.70" r="3.20" fill="#FF5050" stroke="none" clip-path="url(#c2135)"/>
<circle cx="528.16" cy="330.70" r="3.20" fill="none" stroke="#FF5050" stroke-width="1.0"/>
<clipPath id="c2139"><rect x="570.43" y="331.00" width="14.00" height="7.00"/></clipPath>
<polygon points="577.43,327.58 581.11,333.53 573.76,333.53" fill="white" stroke="none"/>
<polygon points="577.43,327.58 581.11,333.53 573.76,333.53" fill="#FF2020" stroke="none" clip-path="url(#c2139)"/>
<polygon points="577.43,327.58 581.11,333.53 573.76,333.53" fill="none" stroke="#FF2020" stroke-width="1.0"/>
<clipPath id="c2143"><rect x="616.07" y="334.80" width="14.00" height="7.00"/></clipPath>
<polygon points="623.07,338.22 626.75,332.27 619.40,332.27" fill="white" stroke="none"/>
<polygon points="623.07,338.22 626.75,332.27 619.40,332.27" fill="#F00000" stroke="none" clip-path="url(#c2143)"/>
<polygon points="623.07,338.22 626.75,332.27 619.40,332.27" fill="none" stroke="#F00000" stroke-width="1.0"/>
<clipPath id="c2147"><rect x="662.34" y="332.70" width="12.00" height="6.00"/></clipPath>
<polygon points="668.34,328.98 672.06,332.70 668.34,336.42 664.62,332.70" fill="white" stroke="none"/>
<polygon points="668.34,328.98 672.06,332.70 668.34,336.42 664.62,332.70" fill="#C80000" stroke="none" clip-path="url(#c2147)"/>
<polygon points="668.34,328.98 672.06,332.70 668.34,336.42 664.62,332.70" fill="none" stroke="#C80000" stroke-width="1.0"/>
<line x1="623.07" y1="302.40" x2="623.07" y2="310.40" stroke="#FF8C1A" stroke-width="0.9" />
<line x1="620.87" y1="302.40" x2="625.27" y2="302.40" stroke="#FF8C1A" stroke-width="0.9" />
<line x1="620.87" y1="310.40" x2="625.27" y2="310.40" stroke="#FF8C1A" stroke-width="0.9" />
<line x1="668.34" y1="304.30" x2="668.34" y2="310.30" stroke="#CC6A10" stroke-width="0.9" />
<line x1="666.14" y1="304.30" x2="670.54" y2="304.30" stroke="#CC6A10" stroke-width="0.9" />
<line x1="666.14" y1="310.30" x2="670.54" y2="310.30" stroke="#CC6A10" stroke-width="0.9" />
<clipPath id="c2157"><rect x="479.62" y="281.40" width="11.20" height="5.60"/></clipPath>
<rect x="482.42" y="278.60" width="5.60" height="5.60" fill="white" stroke="none"/>
<rect x="482.42" y="278.60" width="5.60" height="5.60" fill="#FFC090" stroke="none" clip-path="url(#c2157)"/>
<rect x="482.42" y="278.60" width="5.60" height="5.60" fill="none" stroke="#FFC090" stroke-width="1.0"/>
<clipPath id="c2161"><rect x="521.76" y="311.30" width="12.80" height="6.40"/></clipPath>
<circle cx="528.16" cy="311.30" r="3.20" fill="white" stroke="none"/>
<circle cx="528.16" cy="311.30" r="3.20" fill="#FFAA55" stroke="none" clip-path="url(#c2161)"/>
<circle cx="528.16" cy="311.30" r="3.20" fill="none" stroke="#FFAA55" stroke-width="1.0"/>
<clipPath id="c2165"><rect x="570.43" y="307.20" width="14.00" height="7.00"/></clipPath>
<polygon points="577.43,303.78 581.11,309.73 573.76,309.73" fill="white" stroke="none"/>
<polygon points="577.43,303.78 581.11,309.73 573.76,309.73" fill="#FF9930" stroke="none" clip-path="url(#c2165)"/>
<polygon points="577.43,303.78 581.11,309.73 573.76,309.73" fill="none" stroke="#FF9930" stroke-width="1.0"/>
<clipPath id="c2169"><rect x="616.07" y="306.40" width="14.00" height="7.00"/></clipPath>
<polygon points="623.07,309.82 626.75,303.87 619.40,303.87" fill="white" stroke="none"/>
<polygon points="623.07,309.82 626.75,303.87 619.40,303.87" fill="#FF8C1A" stroke="none" clip-path="url(#c2169)"/>
<polygon points="623.07,309.82 626.75,303.87 619.40,303.87" fill="none" stroke="#FF8C1A" stroke-width="1.0"/>
<clipPath id="c2173"><rect x="662.34" y="307.30" width="12.00" height="6.00"/></clipPath>
<polygon points="668.34,303.58 672.06,307.30 668.34,311.02 664.62,307.30" fill="white" stroke="none"/>
<polygon points="668.34,303.58 672.06,307.30 668.34,311.02 664.62,307.30" fill="#CC6A10" stroke="none" clip-path="url(#c2173)"/>
<polygon points="668.34,303.58 672.06,307.30 668.34,311.02 664.62,307.30" fill="none" stroke="#CC6A10" stroke-width="1.0"/>
<clipPath id="c2177"><rect x="479.62" y="274.80" width="11.20" height="5.60"/></clipPath>
<rect x="482.42" y="272.00" width="5.60" height="5.60" fill="white" stroke="none"/>
<rect x="482.42" y="272.00" width="5.60" height="5.60" fill="#90F090" stroke="none" clip-path="url(#c2177)"/>
<rect x="482.42" y="272.00" width="5.60" height="5.60" fill="none" stroke="#90F090" stroke-width="1.0"/>
<clipPath id="c2181"><rect x="521.76" y="289.80" width="12.80" height="6.40"/></clipPath>
<circle cx="528.16" cy="289.80" r="3.20" fill="white" stroke="none"/>
<circle cx="528.16" cy="289.80" r="3.20" fill="#55EE55" stroke="none" clip-path="url(#c2181)"/>
<circle cx="528.16" cy="289.80" r="3.20" fill="none" stroke="#55EE55" stroke-width="1.0"/>
<clipPath id="c2185"><rect x="570.43" y="283.50" width="14.00" height="7.00"/></clipPath>
<polygon points="577.43,280.08 581.11,286.03 573.76,286.03" fill="white" stroke="none"/>
<polygon points="577.43,280.08 581.11,286.03 573.76,286.03" fill="#30E830" stroke="none" clip-path="url(#c2185)"/>
<polygon points="577.43,280.08 581.11,286.03 573.76,286.03" fill="none" stroke="#30E830" stroke-width="1.0"/>
<clipPath id="c2189"><rect x="616.07" y="282.40" width="14.00" height="7.00"/></clipPath>
<polygon points="623.07,285.82 626.75,279.87 619.40,279.87" fill="white" stroke="none"/>
<polygon points="623.07,285.82 626.75,279.87 619.40,279.87" fill="#18E018" stroke="none" clip-path="url(#c2189)"/>
<polygon points="623.07,285.82 626.75,279.87 619.40,279.87" fill="none" stroke="#18E018" stroke-width="1.0"/>
<clipPath id="c2193"><rect x="662.34" y="289.30" width="12.00" height="6.00"/></clipPath>
<polygon points="668.34,285.58 672.06,289.30 668.34,293.02 664.62,289.30" fill="white" stroke="none"/>
<polygon points="668.34,285.58 672.06,289.30 668.34,293.02 664.62,289.30" fill="#10B810" stroke="none" clip-path="url(#c2193)"/>
<polygon points="668.34,285.58 672.06,289.30 668.34,293.02 664.62,289.30" fill="none" stroke="#10B810" stroke-width="1.0"/>
<clipPath id="c2197"><rect x="479.62" y="257.50" width="11.20" height="5.60"/></clipPath>
<rect x="482.42" y="254.70" width="5.60" height="5.60" fill="white" stroke="none"/>
<rect x="482.42" y="254.70" width="5.60" height="5.60" fill="#90F0FF" stroke="none" clip-path="url(#c2197)"/>
<rect x="482.42" y="254.70" width="5.60" height="5.60" fill="none" stroke="#90F0FF" stroke-width="1.0"/>
<clipPath id="c2201"><rect x="521.76" y="257.80" width="12.80" height="6.40"/></clipPath>
<circle cx="528.16" cy="257.80" r="3.20" fill="white" stroke="none"/>
<circle cx="528.16" cy="257.80" r="3.20" fill="#55EEFF" stroke="none" clip-path="url(#c2201)"/>
<circle cx="528.16" cy="257.80" r="3.20" fill="none" stroke="#55EEFF" stroke-width="1.0"/>
<clipPath id="c2205"><rect x="570.43" y="268.90" width="14.00" height="7.00"/></clipPath>
<polygon points="577.43,265.48 581.11,271.43 573.76,271.43" fill="white" stroke="none"/>
<polygon points="577.43,265.48 581.11,271.43 573.76,271.43" fill="#30E8FF" stroke="none" clip-path="url(#c2205)"/>
<polygon points="577.43,265.48 581.11,271.43 573.76,271.43" fill="none" stroke="#30E8FF" stroke-width="1.0"/>
<clipPath id="c2209"><rect x="616.07" y="268.00" width="14.00" height="7.00"/></clipPath>
<polygon points="623.07,271.42 626.75,265.47 619.40,265.47" fill="white" stroke="none"/>
<polygon points="623.07,271.42 626.75,265.47 619.40,265.47" fill="#18E0F8" stroke="none" clip-path="url(#c2209)"/>
<polygon points="623.07,271.42 626.75,265.47 619.40,265.47" fill="none" stroke="#18E0F8" stroke-width="1.0"/>
<clipPath id="c2213"><rect x="662.34" y="268.00" width="12.00" height="6.00"/></clipPath>
<polygon points="668.34,264.28 672.06,268.00 668.34,271.72 664.62,268.00" fill="white" stroke="none"/>
<polygon points="668.34,264.28 672.06,268.00 668.34,271.72 664.62,268.00" fill="#10C0C8" stroke="none" clip-path="url(#c2213)"/>
<polygon points="668.34,264.28 672.06,268.00 668.34,271.72 664.62,268.00" fill="none" stroke="#10C0C8" stroke-width="1.0"/>
<line x1="623.07" y1="262.90" x2="623.07" y2="268.90" stroke="#F018F0" stroke-width="0.9" />
<line x1="620.87" y1="262.90" x2="625.27" y2="262.90" stroke="#F018F0" stroke-width="0.9" />
<line x1="620.87" y1="268.90" x2="625.27" y2="268.90" stroke="#F018F0" stroke-width="0.9" />
<clipPath id="c2220"><rect x="479.62" y="255.50" width="11.20" height="5.60"/></clipPath>
<rect x="482.42" y="252.70" width="5.60" height="5.60" fill="white" stroke="none"/>
<rect x="482.42" y="252.70" width="5.60" height="5.60" fill="#FF90FF" stroke="none" clip-path="url(#c2220)"/>
<rect x="482.42" y="252.70" width="5.60" height="5.60" fill="none" stroke="#FF90FF" stroke-width="1.0"/>
<clipPath id="c2224"><rect x="521.76" y="245.00" width="12.80" height="6.40"/></clipPath>
<circle cx="528.16" cy="245.00" r="3.20" fill="white" stroke="none"/>
<circle cx="528.16" cy="245.00" r="3.20" fill="#FF55FF" stroke="none" clip-path="url(#c2224)"/>
<circle cx="528.16" cy="245.00" r="3.20" fill="none" stroke="#FF55FF" stroke-width="1.0"/>
<clipPath id="c2228"><rect x="570.43" y="251.60" width="14.00" height="7.00"/></clipPath>
<polygon points="577.43,248.18 581.11,254.13 573.76,254.13" fill="white" stroke="none"/>
<polygon points="577.43,248.18 581.11,254.13 573.76,254.13" fill="#FF30FF" stroke="none" clip-path="url(#c2228)"/>
<polygon points="577.43,248.18 581.11,254.13 573.76,254.13" fill="none" stroke="#FF30FF" stroke-width="1.0"/>
<clipPath id="c2232"><rect x="616.07" y="265.90" width="14.00" height="7.00"/></clipPath>
<polygon points="623.07,269.32 626.75,263.37 619.40,263.37" fill="white" stroke="none"/>
<polygon points="623.07,269.32 626.75,263.37 619.40,263.37" fill="#F018F0" stroke="none" clip-path="url(#c2232)"/>
<polygon points="623.07,269.32 626.75,263.37 619.40,263.37" fill="none" stroke="#F018F0" stroke-width="1.0"/>
<clipPath id="c2236"><rect x="662.34" y="274.90" width="12.00" height="6.00"/></clipPath>
<polygon points="668.34,271.18 672.06,274.90 668.34,278.62 664.62,274.90" fill="white" stroke="none"/>
<polygon points="668.34,271.18 672.06,274.90 668.34,278.62 664.62,274.90" fill="#C800C8" stroke="none" clip-path="url(#c2236)"/>
<polygon points="668.34,271.18 672.06,274.90 668.34,278.62 664.62,274.90" fill="none" stroke="#C800C8" stroke-width="1.0"/>
<line x1="43.9" y1="309.8" x2="45.7" y2="309.8" stroke="#FF2A2A" stroke-width="1.2"/>
<circle cx="63.9" cy="309.8" r="0.6" fill="#c8c8c8"/>
<rect x="51.95" y="305.50" width="8.60" height="8.60" fill="#fff" stroke="#FF7070" stroke-width="1.1"/>
<text x="71.00" y="313.70" font-size="11.0" text-anchor="start" font-weight="normal" fill="#111" >8</text>
<line x1="43.9" y1="322.6" x2="45.7" y2="322.6" stroke="#FF9933" stroke-width="1.2"/>
<circle cx="63.9" cy="322.6" r="0.6" fill="#c8c8c8"/>
<rect x="51.95" y="318.30" width="8.60" height="8.60" fill="#fff" stroke="#FFB060" stroke-width="1.1"/>
<text x="71.00" y="326.50" font-size="11.0" text-anchor="start" font-weight="normal" fill="#111" >10</text>
<line x1="43.9" y1="335.4" x2="45.7" y2="335.4" stroke="#33EE33" stroke-width="1.2"/>
<circle cx="63.9" cy="335.4" r="0.6" fill="#c8c8c8"/>
<rect x="51.95" y="331.10" width="8.60" height="8.60" fill="#fff" stroke="#5EE05E" stroke-width="1.1"/>
<text x="71.00" y="339.30" font-size="11.0" text-anchor="start" font-weight="normal" fill="#111" >13</text>
<line x1="43.9" y1="348.2" x2="45.7" y2="348.2" stroke="#33EEFF" stroke-width="1.2"/>
<circle cx="63.9" cy="348.2" r="0.6" fill="#c8c8c8"/>
<rect x="51.95" y="343.90" width="8.60" height="8.60" fill="#fff" stroke="#5EEEFF" stroke-width="1.1"/>
<text x="71.00" y="352.10" font-size="11.0" text-anchor="start" font-weight="normal" fill="#111" >19</text>
<line x1="43.9" y1="361.2" x2="45.7" y2="361.2" stroke="#FF33FF" stroke-width="1.2"/>
<circle cx="63.9" cy="361.2" r="0.6" fill="#c8c8c8"/>
<rect x="51.95" y="356.90" width="8.60" height="8.60" fill="#fff" stroke="#FF5EFF" stroke-width="1.1"/>
<text x="71.00" y="365.10" font-size="11.0" text-anchor="start" font-weight="normal" fill="#111" >27</text>
<text x="220.80" y="363.10" font-size="14.6" text-anchor="start" font-weight="normal" fill="#111" >0.5:0</text>
<text x="423.00" y="364.30" font-size="14.8" text-anchor="start" font-weight="normal" fill="#111" >0.65:0</text>
<text x="637.00" y="363.00" font-size="14.5" text-anchor="start" font-weight="normal" fill="#111" >0.5:6.4</text>
<text x="8.60" y="210.60" font-size="23.5" text-anchor="start" font-weight="normal" fill="#2a2a2a" >(c)</text>
<text transform="translate(14.3,291) rotate(-90)" text-anchor="middle" fill="#111"><tspan font-family="Liberation Serif" font-size="19">β</tspan><tspan font-size="12.5" dy="4.2">1</tspan></text>
<text x="114.30" y="394.50" font-family="Liberation Serif" font-size="19" fill="#111">γ</text>
<text x="128.60" y="394.50" font-size="23" font-weight="bold" fill="#111">(</text>
<text x="136.30" y="394.50" font-size="17" font-weight="bold" fill="#111">s</text>
<text x="147.30" y="386.70" font-size="13.5" font-weight="bold" fill="#111">-1</text>
<text x="159.90" y="394.50" font-size="23" font-weight="bold" fill="#111">)</text>
<circle cx="119.20" cy="378.30" r="1.3" fill="#111"/>
<text x="333.20" y="394.50" font-family="Liberation Serif" font-size="19" fill="#111">γ</text>
<text x="347.50" y="394.50" font-size="23" font-weight="bold" fill="#111">(</text>
<text x="355.20" y="394.50" font-size="17" font-weight="bold" fill="#111">s</text>
<text x="366.20" y="386.70" font-size="13.5" font-weight="bold" fill="#111">-1</text>
<text x="378.80" y="394.50" font-size="23" font-weight="bold" fill="#111">)</text>
<circle cx="337.60" cy="378.10" r="1.3" fill="#111"/>
<text x="545.10" y="394.50" font-family="Liberation Serif" font-size="19" fill="#111">γ</text>
<text x="559.40" y="394.50" font-size="23" font-weight="bold" fill="#111">(</text>
<text x="567.10" y="394.50" font-size="17" font-weight="bold" fill="#111">s</text>
<text x="578.10" y="386.70" font-size="13.5" font-weight="bold" fill="#111">-1</text>
<text x="590.70" y="394.50" font-size="23" font-weight="bold" fill="#111">)</text>
<circle cx="550.00" cy="378.80" r="1.3" fill="#111"/>
</svg></body></html>
